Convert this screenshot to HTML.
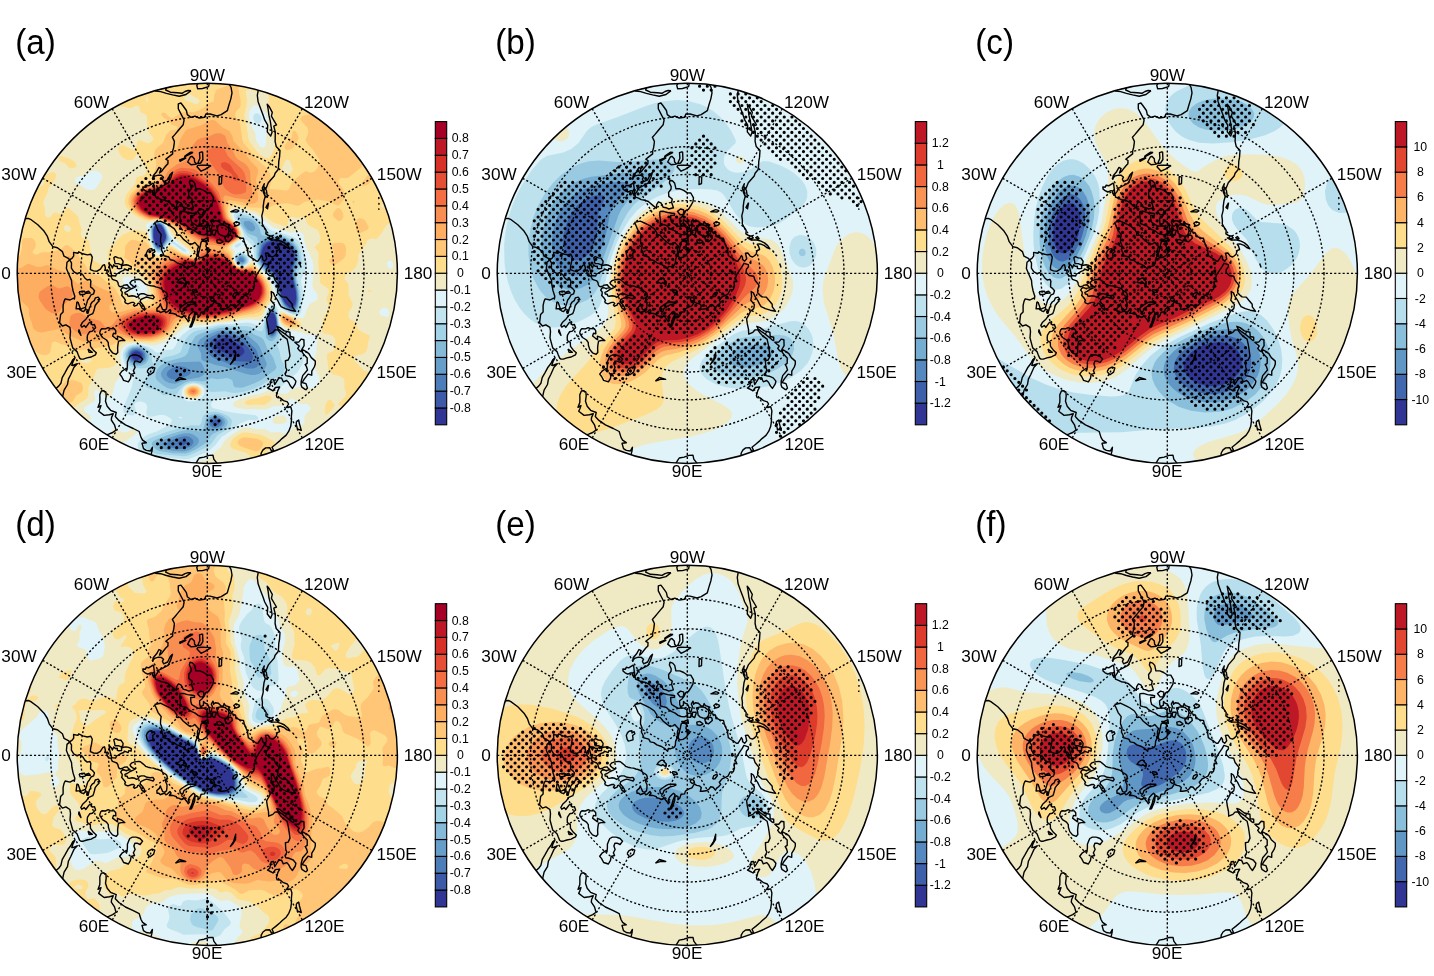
<!DOCTYPE html><html><head><meta charset="utf-8"><title>figure</title><style>html,body{margin:0;padding:0;background:#fff}svg{display:block}</style></head><body><svg width="1434" height="976" viewBox="0 0 1434 976" font-family="'Liberation Sans', Arial, sans-serif" font-size="17.2" fill="#000">
<defs>
<clipPath id="c0"><circle cx="207.3" cy="273.3" r="190.1"/></clipPath>
<clipPath id="c1"><circle cx="687.3" cy="273.3" r="190.1"/></clipPath>
<clipPath id="c2"><circle cx="1167.3" cy="273.3" r="190.1"/></clipPath>
<clipPath id="c3"><circle cx="207.3" cy="755.4" r="190.1"/></clipPath>
<clipPath id="c4"><circle cx="687.3" cy="755.4" r="190.1"/></clipPath>
<clipPath id="c5"><circle cx="1167.3" cy="755.4" r="190.1"/></clipPath>
</defs>
<rect width="1434" height="976" fill="#fff"/>
<g clip-path="url(#c0)">
<circle cx="207.3" cy="273.3" r="191.1" fill="#f0eac4"/>
<path fill="#fedd8c" d="M13.2 79.2l15.3 0 0 4-5.7 8-1.8 6-.7 12 .8 2 2.1 1.6 4 1.1 4 0 4-.9 6-3 14-1.7 4-4.2 2-4.3 2-2.4 2 0 2 1.1 2.7 2.7 1 2-.3 12-1.4 1-2 .1-2-.5-6-3.1-2 0-1.2 2.5-1.3 6-2.6 4-.1 6-.8 3.3-5.2 6.7-2.8 1.9-4-.4-10-3.3-12-9.5-2-1-2-.3zM69.7 79.2l3.6 0-.1 1-2 .7zM86.9 79.2l9.5 0-1.1 6-2.1 2.4-2 .4-2-.8-1.9-2-.5-2zM105.2 79.2l20.4 0 .2 2 1.4 3.1 2 .6 2-1.5 1.3-4.2 268.7 0 0 143.6-12 1-2 1-2 2-4 7.1-4 4.5-2 .5-4-.3-2.4 .6-1.6 1.9-2.1 4.1-6.1 8-.6 2-.1 6-2.4 6-2.7 2.7-7.6 5.3-1.1 2 .2 2 2.5 2.8 1.4 3.2 .1 10 3.9 8 0 2-.7 2-2.6 4-.7 2-.1 4 1.5 2 4.2 2 1.9 2 1.9 6 5.2 3.5 6.2 2.5 .4 2-1.7 4-.5 6-1.3 4-3.1 2.7-5.9 1.3-2.1 1.1-1 .9-.4 2 .9 2 4.4 4 4.1 5.1 4 1.3 2.8 3.6 3.2 2.7 4 1.8 8.5-.5 .6 2-5.1 4.1-1.6 1.9-4 8-1.5 6 1.1 5.9 2 1.8 2 .3 2-.7 2.6-3.3 3.1-2 4.1-2 6.2-4.4 4-1 0 8.7-6 1.2-6.2 3.5-5.3 2-1.9 2-.2 2 .4 2 1.3 2 9.9 8.1 2 .9 2-.8 4-3.7 0 8.5-4-.4-2 1.7-1.5 3.7-.2 2 .6 2 1.1 1.4 2 1.3 4 .8 0 11.2-2 1.2-2 2.1-1.9 4-.7 4-45.3 0-.3-2-1.8-3-4-2.3-4-1.1-4 .6-3.5 1.8-1.5 2-.6 4-41.7 0-.5-2-2.5-4-.2-2 .8-2 9.7-10 4-2.4 8-6.7 4-2.3 4.4-4.6 4.7-2 4.9-1 4 0 2 .7 2.3 2.3 2.8 6 3.1 4 1.8 1.4 2 .6 2-.2 6-2.3 4.2-3.5 1.8-2.5 3.1-7.5 1.2-6-.9-2-9.4-10.2-2-1-6-.9-4.7-1.9-.1-2 6.4-6 1.2-2 .1-2-1.8-6 .2-6-.6-2-1.8-2-2.9-1.3-6-1.3-3.9-3.4-1.1-2-.3-6-1.2-6 .2-2 .3-.9 2-1.9 4-1.5 1.5-3.7 .7-6-.3-2-1.9-2.8-2-1.4-8-1.8-1-2 1-12.9 2-3.7 3.1-3.4 .9-2 .1-2-2.7-8 .2-2 1.9-4 .4-2-.7-2-1.2-1.3-6.8-4.7-.5-2 .4-4-1.4-6-.6-8 .3-10-.8-2-3.2-4 .6-1 4-3 .8-2 .4-4-1.8-6-1.4-1.4-8.6-4.6-1.8-2-1.6-5.4-2-1.2-6 1.4-6-1.2-2.4 2.4-1.3 6-2.3 .8-2-.3-10-3.3-9.4-7.2-6.6-3.3-18-5-4-.6-3.8 .9-1.4 2-.5 2 .3 4 2.1 4 6.8 8 1.9 4 .6 4-.4 2-1.5 2-8.4 6-1.3 2 .3 2 2 2 1 2-.1 4 .7 4 2.7 4 3 1.8 2 .5 4-.5 6-3.3 2 .2 13.6 15.3 2.3 4 1.7 6 1 6-.8 4-5.2 8-2.6 5.5-2 2.6-4 1.4-14 .8-14 3-22 2.6-16-.5-6 .3-4 1.9-6.1 6.4-7.9 6.1-4 2.1-8 2.9-6 .5-14-1.1-10 .6-2.8 .9-3.7 4-2.9 6-.3 2 .6 6-.3 2-1.2 2-3.4 1.8-4 1.1-8 .3-2 .8-1.5 2-2.6 8-3.8 6-.7 2-.4 8-1 2.7-2 1.9-6 3.4-4 3.5-2 .6-8 .7-2.6 1.2-4 4-1.1 2-.1 2 .8 2 3 4.5 1.2 3.5 1.5 16-.7 1.3-2 .6-8-1-2 .1-2 .8-1.7 2.2-.5 2 .1 4 1.4 2 6.7 1 6 2.6 6 .9 4-.5 6-2.1 2-.3 6 1 8-.8 10 1.7 4 5.2 8-.3 4 1.2 2 0 4-2.5 2-.2 6 1.8 10 .6 5.1 2.7-56.9 0-1.2-2-3-1.3-2 .6-1.5 2.7-47.8 0-1.1-2-3.6-2.4-8 .6-4-1.8-2.2-2.4-.2-2 1.1-6 1.3-1.6 6-.7 2-1 2.7-2.7 5.3-6.9 2 .2 4 3.3 2 .2 4-2.1 1.3-2.7-1.1-2-6.2-2.4-6-6.8-2-1.1-2-.2-.7 .5-.6 6-1.2 2-3.5 2.3-4 .9-2.1-1.2-3-8-2.9-1.8 0-16.8 8 1.4 3.9-.8 2.1-1.4 2.4-4.6-.7-2-7.7-1.7-6-5.5-2-.7 0-11.5 2.5-.6 1.9-2 1.6-3.5 2-.2 6 3.1 4 .8 3.2 1.8 1.8 2 1.3 4 1.7 2.3 2 .4 4-.4 .6-.3 .8-2-3.1-4-.8-2 .2-6-.5-2-1.6-2-7.6-6.4-2-.8-4-.5-6 .9-2 1-1.4 1.8-1.4 4-1.2 1.7-2 .6 0-189.8 2 .4 4 2.2 7.2 6.9 2.8 1.8 2 .6 2-.4 1.8-2 2.2-4.2 2-1.8 4-2.3 1-1.7 .5-6 1.2-2 1.3-1.1 4-1.5 2-.4 2 .5 .9 2.5-.9 4-2 3.7-4.4 4.3-1.5 6-3.9 8 0 2 1.5 6 .3 6.2 1.7 1.8 2.3 .2 2-1.3 2-2.7 2-.8 4 1.1 3.4-.5 2-2 .6-2.4 2-1.5 2 1.1 7.8 6.8 1.5 2 1 6 2.2 6-.7 6 .8 2 1.4 1.1 4 1 2 1.6 1.3 10.3 2.3 8 2.4 2.4 6 2.9 4 .6 2-1.3 1.2-4.6-.6-8 11.4-13.5 4-3.1 10-4.4 2-.3 8 1.5 2 .6 1 1.2 1 1.6 1.3 6.4 4.1 10 2.6 3.6 2 1.2 2 .3 2-.5 2-1.2 2-2.4 2-4.1 2-1.7 2 .1 2 .9 8 5.3 6 2.5 4 .6 1.9-.6-.4-2-1.5-2.4-15.3-13.6-2.7-3.4-3.8-6.6-3.6-4-3-2-3.6-1.3-2-.1-8 1.5-6-1.6-8-4.1-5.2-4.4-3.7-4-1.6-4-.2-2 1.5-6 2.7-4 6.8-8 .4-4 .8-2 2.5-1 4-.7 2-1.3 1.3-3 0-2-1.3-4-4.6-6-3.4-6.3-4 6.6-2 .7-4-.3-4-1.8-2.6-2.9-2.2-4 .1-4 .7-1.2 1.4-.8 2.6 0 8 3.9 4 1.1 .6-1 1.4-8.1 2-.9 2 .4 6 2.6 2-.3 2-1.1 2.2-2.6-.6-2-3.4-4-.9-2-2-16-5.3-2.8-1-1.2-1-4.4-2-1.1-2 .2-4 2.1-2 .1-6-1.6-4-.1-2.4-1.2-.1-2 .7-2 3.8-5.4 2-.9 4 .4 2-.7 1-1.4-1-3.3-2-.4-4 2.7-2 .5-10-2.3-2-1.5-2.8-3.7zM147.2 96.4l-1.8 2.8 .8 2 1 .6 .9-.6 .4-2zM187.2 94.6l-2.5 2.6-.5 2 1 .9 10 3.8 2 0 2-1.7 .4-1-.6-2-7.8-4.2-2-.7zM249.2 89.1l-2 .4-1.3 1.7-.2 2 1.5 8-.9 6-2.1 8 1.9 8 2.5 16 2 4 8.6 10.7 6 3.9 2 .4 2-.5 2-2.1 4.3-10.4-.2-2-2.3-6-.4-4 2.2-10-.2-4-1.6-6-4.2-6-.8-2 .9-8-.3-2-1.2-2-2.2-1.1-10-.9zM287.2 159.5l-2 1.8-2.8 5.9 0 2 .9 2 1.9 2.4 2 .8 3.4-1.2 1.6-2 .5-2-2.8-8-.7-1.2zM381.2 204.4l0 1.7 .7 1.1 1.3 .6 .4-2.6-.4-1.2zM383.2 168.9l0 2.5 2 2.8 2 1.5 4 .7 2.8-1.2 .5-2-1.5-2-7.8-2.7zM355.2 448.5l-2 1.2-2.1 3.5-.2 2 .9 2 1.4 1 2 .3 8-1.7 .8-1.6-1.4-2-5.4-4.4zM67.2 225.1l-2 .2-1.3 1.9 .3 2 1.8 2 1.2 .6 2 .1 1.1-.7 .8-2-.6-2zM83.2 358.8l-2.6 2.4 .6 .8 2 .7 4 .3 2-.4 2.2-1.4 .3-2-2.5-1-2-.3zM121.2 267.1l-4 1.8-2.3 2.3-1 2-.2 2 1.4 4 6.7 12 5.4 4.8 8 4.2 4 .9 4 .1 4-.9 1.6-1.1 2-4 .1-4-.9-4-2.5-4-8.3-8.2-10-3-6-4.5zM75.6 87.2l1.6-2 2.6 2-.4 2-2.2 .5zM13.2 149.2l4-.7 2.2 .7 1.4 2 .2 2-1 2-2.8 1.6-4-.4zM58.9 157.2l2.3-1.3 8 2.6 4 2.2 2 1.8 1.6 2.7-1.1 2-2.5 1-2 .4-2-.6-4-4.7-5.3-2.1-1.3-2zM400 237.2l1.2-1 0 7.3-2-1.4-.4-.9 .1-2zM367.2 291.2l2-1.1 3.2 1.1-3.2 .7zM400.3 299.2l.9-1.7 0 8.1-2.2-2.4zM280.8 313.2l2.4-.4 2 .6 11.5 5.8 2.7 2 1.5 2 .4 2-1.2 2-4.9 1.6-4-.2-4-1.3-4-2.2-2-2.2-1.3-3.7-.1-4zM399.9 347.2l1.3-1.1 0 35.3-8-2.9-1.9-1.3 1.6-12 3.3-8 2.3-8zM187.6 387.2l3.6-1.5 4 0 2 .6 1.6 .9 1.7 2 .6 2-.4 2-1.5 2.2-4 2.2-4 .2-2-.5-2.8-2.1-1.1-2-.2-2 .7-2zM260.2 397.2l7-1.9 2 .2 2.2 1.7 .1 2-1.3 2-5 3.4-2 .5-8-.7-6 .5-2-.2-2.6-1.5 .9-2 3.7-1.7 8-1.2zM327.2 401.2l2-1.7 2 .5 3.7 5.2-2.7 4-5 5.3-2-.3-.5-3 .6-6zM241.1 433.2l2.1-.6 4-.1 12 2.1 4 1.2 10.5 5.4 1.1 2-.5 2-1.6 2-5.5 3.7-3.6 8.3 .7 4 2.4 4-23.4 0 1.9-2 4-.7 1.5-1.3 .4-4-.3-2-1.2-2-4.4-2.7-12-3.5-2.5-1.8-.5-2 .3-2 2-4 2.7-2.5zM157.1 467.2l6.1-.6 4.2 .6zM273 467.2l2.2-.8 1.4 .8z"/>
<path fill="#fec676" d="M113 79.2l6.1 0-1.9 2.5-2 .2-1.1-.7zM220.2 79.2l4.2 0-.1 2-1.1 1.1-2-.5zM232.8 79.2l11.7 0-1.2 2-4.5 4-.6 2 2.5 14 0 4-1.5 3.1-3.1 2.9-.8 2 0 2 .6 2 4 6 2.3 16 1.5 4 5.5 6.2 5.1 7.8 11.6 10 3.7 6 .9 2 .6 4-.1 4-1.4 4 .4 2 7.2 .2 8 1.2 2-.2 2-1.3 2.3-5.9 1.5-2 8.2-7.3 4-2.5 2-.1 2 1.1 2 .3 2-.6 2-1.2 2-2.5 1.5-3.2 1-4-.4-2-6.7-10-3.9-4-2.7-4-.4-2 2.6-6-.1-4-1.1-2-5.4-6-1-2 .6-2.4 3.8-1.6 14.2-2.5 4 .1 4 1 2 1.9 2 4.8 .5 6.7 1.5 4.2 2 1.8 4 2.3 2 .7 4 .1 10-.9 5.5-2.2 1.8-2-.4-4 .4-2 1.4-2 3.3-1.8 4.3-.2 5.7 2.4 2-.1 4-1.7 4.2-.6 3-2 2.8-3.2 5.5-4.8-3.5-9.8-2-1.8-2 .2-6 2.3-4 0-4.9-.9-2.4-2-.4-2 .7-4-1-1.5-6 1.1-3.4 2.4-2.6 2.8-8 2-.6 1.2 .4 6-.7 2-1.1 1-2 .5-4-.6-6-2.5-2 0-4 1.9-1-.3-1-.4-2.7-3.6-3.3-2.8-2-.7-4 .1-1.9-.6 .2-2 1.7-1.1 2 0 6 .9 10 4 6-3.3 6.4-.5 1.6-.8 1.6-7.2 4.1-8 3.7-4 16.7 0 .3 8 1.6 1.7 2 0 4-.6 6-4.5 5.3-2.6 1.4-2 3.3 0 0 55.3-6-1.3-2 .8-4 3.4-6 .9-2 .9-6 5.4-2 .3-6-1.5-2 .2-1.6 1.6-.7 2-.1 16-1.4 4-12.2 9.9-2 .9-6-.1-2.1 1.3-.7 2 .6 2 4.3 6 1.5 6-.7 4-4.9 5.7-2 .6-8-4.1-12-1.8-6 1.5-6 .3-6 3.9-2 .4-10-2.5-2 0-10 1.6-6 2.4-4 .9-16-.8-14-3.7-4 0-2 .9-1.3 2.7-.3 2 .2 4 1.2 4 8.9 10 2.4 6-.7 4-1.6 2-8.5 6-1.9 2-.4 2 4 4.6 1.6 7.4 2.6 4 3.8 2.4 4 .4 8-2.5 2 .5 4 3.6 6.4 7.6 2.7 4 1.6 4 1.2 6-.1 6-.7 2-5.1 8.4-2 2.7-2 1.6-6 2.1-12 1.8-10 2.8-6 1-20 2.1-18-1.2-5.8 .7-3.2 2-6.7 8-4.8 4-5.5 2.9-8 2.6-8 .3-24-1.4-3.4 1.6-4.6 3.3-4 1.6-22 3.5-8 .6-3.7-1-4.3-2.9-8-1.6-8-3.3-2 .4-1.4 1.4-1.3 8-1.3 2.3-2 1.3-2 .4-4-.8-8-4-2-.4-6 3-2 .4-2-.3-1.5-1.9 .2-2 4.1-6-.4-2-4.4-4-2-1.2-4-1.1 0-74.9 4-1.4 2.7-3.4 2.1-6-.1-8 1.3-2.9 8-.4 2.6 1.3 1.4 2.2 .7 3.8-.7 2.8-2.6 3.2 .2 2 2.4 1.5 2-.1 4-2 2-.4 6 .1 10-2.2 2-1 4-3.9 2-.1 2 .9 8 7.2 3.3 6 4.7 5.7 3.4 6.3 4.6 2.9 6 1.4 8 6.9 6 4.4 2 2.3 5.1 8.1 1.7 6 1.2 1.5 8-.5 12 1.2 6-.2 3.2-2 .9-2 .6-4-.2-6-1.8-6-5.6-8-3.1-7.1-2-1.2-6.9-1.7-2.3-2-2.8-3.9-5.1-4.1 1-4 0-6 .7-2 3.4-4 2-1.1 2-.3 6 1.5 6 .7 2 1.8 2 3.3 3.7 8.1 2.3 2.1 2 .8 2 .1 4-1.5 3.5-3.5 2.5-4.5 2-.3 12 6.3 8 2.4 2.5 .1 1.4-2-1.9-4.8-4.1-5.2-1.6-4-8.8-10-14.7-10-2.8-1.3-4-.6-8 .7-4-1.3-6-3-5.9-4.5-3.3-4-1.5-4-.1-4 1.5-4 1.4-2 5.9-5.3 6-3.5 4.4-1.2 4-2 1.3-2 .8-6 2.5-8-.2-4-1.6-6-.1-2 .9-3.2 2-2.4 5.7-4.4 3.1-8 3.2-3.9 2-1.4 4 0 2-1 .4-1.7-.4-.7-6-2.1-2.4-3.2-5.5-4-1.8-2-.1-2 1.8-.8 2 .6 4 4 2 1.2 2-.2 8-5.3 2-.9 10 .4 6-1.9 5.2-3.1 4.8-4.4 4-1.1 .5-.5 .6-6 1.3-4 1.6-1.8 12-4.4 2-2.4zM305.1 79.2l24.4 0-1.5 4-2.8 3.7-2 1.3-6 2.1-2-.1-2-1-6.2-6zM378.7 115.2l.8 0-.3 2.3-.4-.3zM292.5 131.2l.7-.4 2 .3 1.7 2.1 1.7 4-.1 2-5.3 8.6-2 1.5-4 .7-2.1-.8-.6-2 .5-2 2.2-3.2 4.7-4.8zM401 143.2l.2 12.5-2-.5-2-2-.5-2 .5-4.6 2-2.7zM376.1 151.2l1.1-1.3 2 .3 1.1 1 .9 2.2-2 1.8-2-.8-1-1.2zM366.1 177.2l1.1-1.5 2-.4 1.5 1.9 .5 2-.6 2-1.3 2-2.1 1.7-4 1.1-1.4-.8 .1-2zM352.5 201.2l.7-.5 1.7 .5-1.7 2.2zM13.2 207.2l0-.6 1.2 .6 8.8 4.8 2 1.8 1.3 3.4-.6 4-3.3 6-.1 6-1.3 2.6-2 .5-6 .4zM336.2 209.2l1-1.3 2 .1 2 2.1 1.9 3.1 .3 4-2.2 3.4-2 .5-2-.8-3.2-3.1-1.1-2 .3-2.4zM357.3 219.2l1.9-1 2 0 2 .8 2 1.7 3.7 6.5-1.1 2-6.6 3.5-2 .4-2-.6-1.2-3.3-.2-4 .5-4zM333.1 243.2l6.1-.4 4 .5 2.1 1.9 .9 4-.7 6-.7 2-1.6 1.9-6 4.3-2 1.2-2 .3-2-1-2-2.7 .5-2 2.7-2 1.4-2 0-4-1.9-6zM281.1 315.2l2.1-1 2 .3 6.2 2.7 5.1 4 1 2-.3 2-2 1.4-2 .4-4-.5-4-1.7-2.2-1.6-1.8-2.6-.5-3.4zM66.1 381.2l5.1-1.1 4 .3 6 2.5 1.4 2.3 .4 4-.7 2-1.1 1.3-4.9 2.7-3.1 5.5-2 1.5-4-.3-4.5-2.7-1.5-2.3-1.9-5.7 .2-2 1.1-2 3.1-4zM189.5 387.2l3.7-.8 4 1.1 1.9 1.7 .6 2-.4 2-1.7 2-2.4 1.2-4 .2-2-.8-2.4-2.6-.3-2 .7-2zM44.6 419.2l.6-1.2 .8 1.2-.5 2zM375.8 429.2l1.4-1.4 2-.6 3.3 2 2.4 4 .3 2-1.2 2-2.8 .9-2-.5-2.8-2.4-1.1-2-.2-2zM239.5 439.2l3.7-1.7 2-.2 12 1.5 4.9 2.4 1 2-.4 2-1.5 2.9-2 2.3-2 .8-2 0-12-4-4.1-2-1.3-2 .2-2zM310.2 459.2l1-.6 2 .5 .3 2.1-2.7 6-7.2 0 2.3-4z"/>
<path fill="#fdae61" d="M208.5 121.2l2.7-1.3 2 0 2 .7 7 6.6 7.3 4 2.5 4 1.7 6 11.5 12.4 5.5 7.6 5.8 6 1.2 2 .4 2-.3 2-1.8 6 2.2 18-.7 4-2.7 2-5.6 1-8-2.1-10-1.8-2-.1-2.4 1-.8 2-.3 4 1.2 8 2.2 4 6.1 5.5 1.9 2.5 1.9 4 .4 4-.8 2-1.7 2-11.8 8-1.6 2 1.8 2 3.9 2.7 3.9 9.3 4 4 4.1 1.3 4-.2 6-1.3 2 .7 5.8 5.5 4.6 6 2.8 6 1.1 8-1.4 6-4.9 7.2-4 3.1-6 2.5-26 6.3-20 2-20-1.7-5.3 .6-2.7 1.3-2 1.7-4.6 7-5.4 5-8 3.7-8 1.7-18-.8-12-2.4-14 2.2-8 2.8-8-.5-6 .6-16-7.1-6-4.6-2-.7-18 3.5-4-1.1-3.2-2.3-1.2-2-.8-4-3-8 0-6-.9-2-6.9-6.4-2-.7-6 1.6 0-34.3 6 .9 2-.3 6-3.9 2-.1 8 3.1 4-.3 6-1.7 2 .5 8 4.1 6 1.9 2 1.2 12 10.8 2-.2 2-1.7 2-.8 2-.2 4 1 6 3.7 12.8 5.8 3.2 2 2 2.5 1 3.5-1 3.4-3.3 2.6-.8 2 .5 2 1.6 2.6 2 .6 4 .2 6-1.2 10-3.2 18-.4 2.4-.6 2.4-2 .7-4-.8-10-2.4-8-3.7-8 1.1-12 .8-2 7.5-.6 4-1.6 4-2.5 4-4.7 2-.2 8.5 3.6 9.5 2.7 4 .2 1.3-.9 .1-8 1.7-2 .4-2-5.9-6-7.6-5.2-7.7-6.8-14.3-6.9-4-1.4-10 0-8-3.6-4-2.7-3.5-3.4-2.4-4-.7-4 .8-4 1.1-2 4.7-4.8 6-3.4 11.8-3.8 3.2-2 1-1.3 3.3-10.7 2.7-6.9 4-7.6 2-2.8 4-.7 2-1.8 3.2-10.2 4.8-8.1 2-1.5 14.2-4.4zM66.7 257.2l2.5-1.6 1.7 1.6-1.7 2.1-2-1zM282.1 317.2l1.1-1.3 2-.2 4 1.3 3.3 2.2 1.9 2 .6 2-2 2-1.8 .2-4-1-2.2-1.2-2.1-2-.9-2zM188.6 389.2l2.6-1.6 4 .1 2.4 1.5 .8 2-.6 2-2.6 2-2 .4-2.5-.4-2.4-2-.5-2z"/>
<path fill="#f88e52" d="M216.1 133.2l5.1 .4 4 2.2 2.3 7.4 5.7 8 2.6 6 1.9 2 7.5 4.6 3 3.4 1.9 4 .5 10 1.8 10-.1 4-.7 2-2.4 2-2 .2-12-1.3-10-2.9-1.9 2 1.1 12 2.1 8 1.3 2 5.4 4.4 3.2 3.6 2 4 .4 2-1 4-1.9 2-8.7 5.5-4 1.6-2 .2-6-1.5-8-.3-2-.6-16-9.6-12.3-9.3-7.7-2.7-8-3.6-4-.6-6 .1-6-2-5.3-3.2-4.5-4-2.4-4-.7-4 .3-2 2-4 4.1-4 4.5-2.6 11.5-3.4 4.9-2 3.6-3.2 4-7.4 2.9-3.4 7.1-5 7.3-3 2.2-2 3.8-6 .6-4 1.7-4 4.4-5.5 4-1.8 8-1.7zM200.7 251.2l4.5-1.4 4 0 8 1.1 6 1.6 4 2 2 1.9 3.3 6.8 2.7 3.2 2 1.4 2 .8 4 .5 8-.8 2 .9 4 3.6 5.1 6.4 2.2 4 1.5 6 .1 4-.9 4-2.2 4-3.8 4.5-4 2.6-6 2.3-18 5.2-12 2.1-14 1.1-20-2-8 .5-2 .8-2 1.8-5 9.1-4.1 4-6.9 3.3-8 1.8-8 .1-10-1-16-5.8-6-.6-4-1.3-2 .1-6 2.5-4-.2-6 1.7-4 .4-4-1.1-3.8-1.9-4.9-4-1.3-4 .9-6 1.1-2 4-2 4-.4 2 .5 8 4.8 10 2.3 2 1.5 4 4.8 2 .2 4-1.1 2-1.7 3.3-4.9 2.2-2 6.5-3.2 10-3.4 18-.9 2.6-.5 3.4-1.7 1-2.3-1.5-10-4.7-18-.1-2 .5-2 4.3-8 4.5-3.4 12-6.1 8 .9 10 2.6 2.8 0 1.2-.6 .9-1.4 .7-4zM50.8 285.2l2.4 .3 4 2.4 2 .6 8-2.2 2 .6 2.3 2.3 1.3 4-.3 2-1.3 2.6-8 7.4-4 6.5-2 1.6-2 .4-4-.9-5.3-3.6-5.7-8-1.7-4 .6-4 1.2-2 6.9-4.7zM285 317.2l2.2 .2 3.3 1.8 1.7 2-.3 2-2.7 .4-4-2-1.6-2.4zM190.5 389.2l2.7-.7 2.5 .7 1.2 2-.8 2-2.9 1.2-3.2-1.2-.8-2z"/>
<path fill="#f46d43" d="M209.1 149.2l4.1-1.5 6-.4 2 0 2 .8 2 2.3 2.2 4.8 1.5 2 13.1 12 2.6 4 1 4 .7 12-.3 2-.8 1.2-4 1.7-6 .5-4.1-1.4-5.9-4.4-2.1-3.6-1.8-8-9.1-12-4.8-8-.7-4 .6-2zM176.9 169.2l4.3-1.4 12 .9 2 .9 14 11.3 4.2 4.3 4.6 6 1.8 4 5.5 22 1.2 2 8.7 7.3 2.6 4.7 .1 4-.9 2-2 2-7.8 4.7-4 1.1-4-.5-6-2-8-1.2-6-2.5-8-4.7-12.1-8.9-17.9-6.7-4-.8-6-.1-4-1.3-5.5-3.1-4.7-4-2.6-4-.6-4 1.2-4 2.2-2.9 6-4.4 15.4-4.7 4.1-2 2.4-2 6.1-7.9zM202.4 253.2l2.8-.7 4 0 10 .9 4 1 4 1.9 2 2.2 4.1 6.7 3.9 3.1 4 1.3 8-.4 2 .3 4 2.8 4 4.3 3.2 4.6 1.7 4 .8 4 0 4-1.1 4-2.4 4-2.2 2.5-4 2.9-4 1.9-20 6-10 2.1-18 1.3-20-2.6-10-.1-2 .8-2.7 9.2-2.3 4-1.9 2-5.1 3.2-8 2.4-8 .5-12-1.3-6.5-2.8-5.2-4-1.2-2-.3-2 1.4-4 3.8-3.6 4-1.9 8-3 4-.8 26.2-.7 .6-2-4.4-10-3.5-14-1-6 .4-4 3.7-7.1 2.3-2.9 2.8-2 10.9-5 6-.5 10 2.1 4 .1 1.5-.7 1.6-4zM191.1 391.2l2.1-1.1 1.8 1.1-1.8 1.5z"/>
<path fill="#e64e35" d="M221.3 163.2l1.9-.9 2 0 2.8 .9 2.6 2 3.6 6 3.4 4 .8 2-.4 2-.8 .9-2 .8-2-1.7-.8-4-1.2-2-7.5-4-2.1-2-.8-2zM179.5 171.2l3.7-.4 4 .5 4 1 4 1.8 12 8.3 4.9 4.8 4.3 6 2.1 4 2.1 6 2.9 12 1.7 3.8 8 6.2 3.2 4 1.1 4-.3 2-1 2-2.1 2-4.9 3-4 1.6-2 .3-4-.8-6-2.5-10-1.9-12-6.1-10.3-7.6-3.7-1.9-16-5.3-12-1.7-6-3.1-4.8-4-2.6-4-.6-4 1.3-4 2.7-3.2 6-3.8 14-4.2 4-1.7 4.1-3.1 5.9-6.5 4-2.7zM202.8 255.2l2.4-.9 4-.1 8 .6 6 1.2 4 1.9 5.4 7.3 4.6 3.7 4 1.2 8 .1 4 1.8 6.8 7.2 2.4 4 1.3 4 .4 4-.8 4-3.3 6-4.8 4-6 2.7-20 6.1-14 2.3-10 .6-8-.6-20-3.4-4-1.4-2-1.4-6.5-8.9-4-12-1.2-6-.1-4 1.9-6 2.5-4 3.4-3.5 10-5.3 4-1.3 4-.3 12 2.1 2-.7 1.1-1zM141.1 313.2l16.1-.3 6 1.5 3.2 2.8 .8 2-.1 4-1.5 4-1.4 2-3 2.7-4 2-6 1.8-6 .5-6-.2-6-.9-5.2-1.9-2.9-2-3.4-4-.5-2 .3-2 1-2 2.2-2 3.8-2 6.7-2.7z"/>
<path fill="#d73027" d="M180.8 173.2l6.4 .3 8 2.9 10 6.5 6.6 6.3 2.8 4 3.3 6 2.2 6 3 12 1.1 2 2 2 6.2 4 3.4 4 1.1 4-.3 2-1.1 2-2.2 2-6.1 3.3-4 .7-4-.9-6-3-10-1.9-12-5.8-8.8-6.4-3.6-2-17.6-5.7-10-1.4-4-1.5-5.3-3.4-3.8-4-1.6-4 .4-4 1-2 3.3-3.6 6-3.2 11.5-3.2 5.1-2 3.3-2 8.1-7.6 2-1.3zM203.1 257.2l2.1-1.2 4-.3 8 .5 6 1.2 4 2 6 7.1 4 2.9 4 1.2 8 .5 4 2.2 5.8 5.9 3.3 6 .8 4-.2 4-2.6 6-3.9 4-5.2 2.9-22 6.7-12 2.3-10 .7-8-.2-18-3.5-4-1.2-4-2.1-3.6-3.6-2.9-4-1.9-4-2.6-8-.9-4-.2-4 .7-4 1.9-4 3-4 2.5-2.3 4-2.7 6.4-3 5.6-1.4 10 1.7 4 0 2-1.5zM137.9 315.2l5.3-.9 6-.2 6 .2 4.8 .9 3.2 1.9 1.6 2.1 .5 2-.5 4-1 2-2.6 2.9-4 2.5-4 1.5-10 1-6-.5-5.7-1.4-3.6-2-2.1-2-1.3-2-.6-2 .4-2 1.3-2 2.8-2z"/>
<path fill="#be1826" d="M180.2 175.2l3-.4 4 .4 8 2.9 10 6.4 5 4.7 4.3 6 3.1 6 5.4 18 1.8 2 6.8 4 3.6 4 1.1 4-.3 2-2.8 3.4-6 3.3-4 .7-2-.4-8-4.2-10-1.9-6-2.4-6-3.2-7.4-5.3-4.6-2.5-18-5.7-12-2.2-4-2.2-4.3-3.4-2.7-4-.6-4 1.6-4 2-2.3 6-3.6 14-4.1 4.6-2 3.1-2 6.3-5.6zM206.6 257.2l8.6 .1 8 1.3 4 2.1 5.9 6.5 4.1 2.8 4 1.1 8 1 4 2.3 6.3 6.8 2.6 6-.1 6-2.8 6-4 3.8-6 2.9-22 6.4-14 2.2-12 .3-12-2-10-2.8-6-3.5-3.2-3.3-2.6-4-4.2-12-.5-4 .5-4 2.6-6 5.8-6 9.6-5.2 6-1.3 12 1.6 2.7-1.1 3.3-3.6zM136.4 317.2l8.8-1.8 6-.1 6 .7 3 1.2 2.2 2 .9 2-.4 4-2.8 4-2.9 2-4 1.6-8 1.1-10-1-4-1.5-2-1.5-2.1-2.7-.5-2 .5-2 1.8-2z"/>
<path fill="#a50026" d="M179.1 177.2l2.1-.6 4-.2 8 2.2 10 5.8 6 5.3 4.1 5.5 3.3 6 5.4 18 1.4 2 7.8 4.4 3.3 3.6 1.2 4-.3 2-1.4 2-2.8 2.2-4 1.9-4 .6-2-.4-8-4.7-10-2-6-2.2-18-10.5-18-5.5-10-1.8-4-1.8-5.1-3.8-2.8-4-.5-4 1.7-4 1.8-2 4.9-3 16-5 4.4-2 7.6-5.8zM205.4 259.2l1.8-.8 4-.2 8 .7 4 1 4 2 6 6 4 2.6 12 2.5 4 2.5 5.4 5.7 2.7 6-.1 6-1.6 4-1.4 2-5 4.1-6 2.5-22 6-12 1.8-10 .4-8-1-12-2.9-8-4-3.2-2.9-3-4-3.9-10-.8-4 .1-4 2-6 3.1-4 3.7-3.4 10-5.3 4-.9 12 1.5 2-.4 2-1.2zM141.3 317.2l7.9-.7 8 1.2 2.6 1.5 1.4 2 .2 2-.4 2-1.3 2-2.1 2-6.4 2.8-10 .6-6.8-1.4-3.2-2-1.5-2-.4-2 .8-2 2.1-2 3.4-2z"/>
<path fill="#e0f3f8" d="M254.8 105.2l2.4 .2 2 1.3 6.6 6.5 1.5 2 .7 2 .1 2-1.4 8-.6 16-.9 2.9-2 1.6-2-.4-2-1.9-2.6-4.2-.7-2-.5-6-4.2-7.4-2.1-6.6-.4-4 1.1-4 2-4 1.4-1.5zM37.1 155.2l2.1-.5 3.2 .5 2.3 2-.7 2-.8 .6-2-.1-4-1.3-.9-1.2zM90.5 171.2l2.7-.7 4 .6 3.4 2.1 1.5 2 .2 2-1.8 4-5.3 7.9-2 .9-4 .1-3.5-.9-2.5-2.3-6.6-3.7-1.7-2 .3-2 2-2 8-2zM235.1 209.2l6.1 .6 14 4.2 6 3.8 10 8.3 4 2.2 16 4.5 6-1.3 2 .1 3 1.6 1.5 2 .9 6 1.7 6 6.4 14 .6 4 0 12-1.1 8 1 3.6 3.6 4.4 .8 2-.3 4-2.1 1.8-4 2-2 2.1-2 3.1-2.2 7-1.8 2.3-2 .7-4-.6-16-6.9-2 1.3-.3 5.2 .7 4 1.6 3.9 4 3.2 6 2.4 10 1.6 6 2.8 4-1.2 2 .1 2 1.7 1.9 3.5 .3 2-1.1 6 .5 4-2.7 8-.2 6 1.2 4 4.2 8 .3 2-1.9 6-2 2-2.5 1.1-4 .2-6-1.8-4 .5-6 1.2-2 1.1-3.7 3.7-2.3 .7-4-.3-4-1.1-4-1.8-4-.4-10 3.6-12 2.7-7.4 2.6-4.6 2-2.1 2-.1 2 2.3 2 9.9 2 20 .3 10-3.8 8 .6 2-1 4-5.5 2-1.3 2 .2 6 4.4 2 .8 6 .2 3.4 3.1 .2 2-5.5 6-.9 2 .2 4-.6 2-1.8 2-3 1.4-6 .4-2.7 4.2-3.3 2.5-2 0-6-1.7-8 .4-6-3.1-10-.3-6-1.6-4 .1-4 1.2-13.2 8.5-3.8 4-3.5 6-7.2 6-4.3 4.5-4 2.2-6.4 1.3-9.5 6-4.1 0-6.5-4-9.5-2-4-.2-14 .9-8-3.7-8-1.9-2.1-1.1-3.9-4-2-.4-4 .4-2-2 .2-2 2-4 1.8-2 6.3-4 4.7-4 .9-2-3.9-1.8-2 .4-4 2.2-2 .5-2-.2-7.6-3.1-2.4 0-1.7 2 .5 6-1.2 2-13.6 2.3-2-.4-4-3.3-2-.7-2 .1-3.3 2-.1 4-.6 .8-2-.2-2.8-2.6-1.2-2-1.1-4-2.9-3-1.3-3-.8-4 .1-8.1 2-1.3 2 .6 2 .8 4.7 4 1.3 .5 4-.1 2-.9 1.3-1.5 .2-2-.9-2-4.6-3.1-.8-.9-.5-2 .9-2 2.4-2 7.1-4 1-2-1-6 .1-2 .8-1 2-.2 5.9 5.2 4.1 2.1 2 0 2-2.1 2.2-4 1.6-8 4.4-6 .9-2 1.2-10-1.2-8 .2-4 1.4-4 3.3-3.9 4-1.5 6-.9 6 .4 12 2.3 4-.5 8-3.1 4-2.1 15.8-12.7 4.2-1.8 18-.5 10-1.9 14-1 14-2.4 6 0 8 1.2 2-.6 2-2.6 4.4-10.4 1.6-2.2 4.5-3.8 .9-2-.1-4-1.3-5.7-2-6.7-2.1-3.6-11.2-12-4.7-6.4-2-.6-1.9 3-2.1 2-4 1.6-2 .1-4.2-1.7-1.9-2-1-2-.4-4 1.5-6-2.3-2-1.2-2 .8-2 8.7-6 1.1-2 .2-2-1.9-6-2.4-4-4.8-6-1.8-4-.1-2 .7-2 1-1.2zM245.2 248.1l-1.5 1.1 1.7 2 3.8 2.8 1.6-.8-.3-2-1.3-2.2-2-1.1zM275.2 416.8l-2.3 2.4-.6 2 1.4 2 1.5 .6 2 .4 4-.1 3.1-.9 2.6-2-.1-2-1-2-2.6-1.8-4 .2zM189.2 385.2l-3.4 2-1.6 2-.6 2 .8 4 1.6 2 3.2 1.7 4 .3 4-.8 4.1-3.2 1.1-2 .2-2-.4-2-1.5-2-3.5-2-2-.5zM153.7 221.2l5.5-.8 2.5 .8 3 2 3.2 4 3.3 7.6 2 2.8 3.8 3.6 10.2 7.6 2.3 2.4 1 2-1.3 .9-4.7-.9-3.9-2-7.4-5.4-2-.9-2-.2-2 1.2-2.9 5.3-3.1 3-2 .5-2-.4-2-1.6-2.2-3.5-2.5-6-2.3-12-1-2.9-1.9-3.1 2.9-2zM388.1 261.2l1.1-.5 2 .3 1.8 2.2 .3 2-.5 2-1.6 1.6-2-.5-2-2.7-.2-2.4zM123.8 277.2l3.4-.3 6 .8 4 1.3 2 1.3 5.8 4.9 1.4 2 .9 4-.6 2-1.5 1.9-2 1-4 .4-6-2.2-5.6-3.1-2.4-2.3-1.7-3.7-.9-6zM380.9 309.2l2.3-1.1 2-.3 2 .7 1.8 2.7 .2 4.1-2 1.7-2-.2-3.9-1.6-1.9-2-.1-2z"/>
<path fill="#c2e4ef" d="M253.6 115.2l1.6-1.8 2-.2 2 1 2 2.3 .6 2.7-.6 1.9-2 2.2-2 .3-2-1.1-.9-1.3-1.1-3zM234.7 213.2l2.5-1.3 2-.1 14 3.7 5.7 3.7 10.3 9.9 2 1.4 16 4.2 8 3.4 2 1.4 2 2.4 3.3 7.3 3.9 12 .6 4-1 4-4.9 10 .1 3.2 2.6 12.8-2.7 16-.5 2-1.4 1.7-2 .7-2-.1-6-2.2-6.9-4.1-3.8-4-3.3-15-2.7-9-1.3-2.3-10.1-9.7-4.6-6-2.2-6-1.4-10-1.7-2.8-6-5.4-3.6-9.8-7.5-12-.2-2zM155.9 221.2l3.3-.2 4.6 2.2 3 4 2.4 6.5 4 6.7 2 2.1 10 6.7 1.4 2-1.4 .5-2.1-.5-9.9-7.5-2-.5-2 0-2 1.1-4 6.5-2 1.9-2 .5-2-.5-1.8-1.5-2.4-4-2.1-6-1.6-14 .4-2 2-2zM238.4 243.2l2.9 0-.6 2-3.5 2.3-2.2-.3-.2-2zM237 253.2l2.2-1.2 4 .5 3.8 2.7 1.5 2 .4 4-.9 2-2.2 2-2.6 1-2 0-3-1-2.2-2-1.2-2-.2-4 .7-2zM132.7 283.2l2.5 .4 2.6 1.6 1.6 2-.3 2-3.9 .3-4.3-2.3-.6-2 .9-1.4zM272.4 305.2l2.8 .1 2 1.9 .6 2 1.4 13.5 2 5.3 2 2.1 7.9 5.1 4.1 4.9 4 2 2.2 3.1 2 6 .4 8-1.1 4-3.5 6.6-2 2.8-10 8.1-4 4.2-2 1.4-2 .1-6-2.1-2 .1-13.7 6.8-14.3 3.8-10 1.9-12 .6-4 .9-4.5 2.8-1.4 2-.4 2 .9 2 1.4 .7 11.9 3.3 10.1 1.9 20.2 2.1 2.8 2-.2 2-.8 .9-2 .5-6-.8-10 4-5.8 5.4-12.1 8-6.1 8-6 5.2-4 2.4-16 6-4 .5-18-1.7-14-.2-13.1-6.2-1.6-2-.9-4 .4-2 2.6-4 6.6-4.5 10-3.5 11.2-6 2.2-2 1.2-2-.1-2-4.5-3-4-1.4-4 .1-6 1.6-4 .2-2-1.2-1-2.3 1-6-.4-2-1.6-2.3-4-1.4-4 .2-2.1 1.5-.6 2 1.4 6-.2 2-2.1 2-2.4 .2-4-1-2.8-1.2-1.2-1.8 .2-4.2 8.4-20 1.2-6 2-6-.3-2-7.5-5.1-3.5-6.9-1-6 .8-4 1.7-2.8 2-1.8 4-1.7 4-.7 4 .1 8 2.1 5.1 2.8 2.9 2.5 2 .9 2-.2 6-2.3 6-.3 2-1 2-2.5 3.5-7.1 3.2-4 7.3-5.6 4-1.6 14-1.1 12-2.6 12-.4 16-1.4 4 .4 8 3 2-.3 2-3 2.7-9.4 1.9-4 1.4-2 2-1.7zM179.2 416.8l-.9 .4 2.9 1.5 1.1-1.5zM187.2 384.8l-3.3 2.4-2.1 4 0 4 .7 2 2.7 3 4 1.2 6-.5 6-2.9 2.5-2.8 .8-2-.3-4-1.3-2-2.6-2-3.1-1.2-4-.5z"/>
<path fill="#a3d3e6" d="M237.6 215.2l1.6-.6 4 .2 10 3 4.6 3.4 9.4 11.1 4 1.4 10 1.1 4 1.1 8 4.3 4.7 5 2.5 6 1.5 10-1.4 6-3.4 8 .1 4 3 12 .6 6-.9 10-1.2 4-1.5 2.1-2 .7-2-.2-4-1.5-4.8-3.1-3.1-4-2.5-6-5.6-20-2-2.4-8.7-7.6-4.6-6-2-6-.3-10-1-4-1.4-2.5-6-4.7-2-2.4-8.3-14.4-.3-2zM153.4 223.2l3.8-1.7 2 0 4 2 2.7 3.7 4.5 12-.5 2-2.7 1.7-4.1 6.3-1.9 2.1-2 .7-2-.6-2-1.9-2.2-4.3-1.3-4-1.1-14 .8-2zM236.8 255.2l2.4-1.5 2-.1 2 .4 2 1.3 1.7 1.9 .8 2 0 2-1 2-3.5 2.3-3.4-.3-2.6-1.6-1.6-2.4-.4-2 .3-2zM271.9 307.2l1.3-.2 2 1.2 1.4 3 3.7 22-3 12 2.2 6 1.6 8 3.4 6 .4 4-1.8 4-3.9 3.3-10 3.4-8 5.3-8 3.8-10 3-8 1-4-.2-6-1.6-14 .8-2-1.1-2.6-3.7-2.4-2-5-2-6-.9-4 .5-5.3 2.4-4 4-2.7 4.6-2 1-12 .5-6-4.8-10-2.4-2-2.4-.3-2.5 .4-2 3.2-6 1.4-4 .2-2-.9-1.6-8 .9-8-.9-4.4-2.4-1.8-2-1.9-4-.7-4 .3-2 2.5-4.5 2-1.5 4-1.5 6-.2 6 1.8 2.8 1.9 1.8 2 1.7 4 .6 6 1.1 2.5 11.5-6.5 8.5-1.6 5.8-2.4 1.8-2 2.8-8 2.2-4 3.3-4 4.1-3.3 4-1.3 12-1.8 8-2.4 6-.6 24 .4 4 1 6 3.2 4 .8 2-1.3 1.5-8.7 2.2-8 2.3-4.3zM206.5 413.2l2.7-1 4-.5 4 .3 4 .9 5.5 2.3 2.9 2 1.7 2 .7 2-.9 4-1.6 2-4.3 3.5-7.7 4.5-5.9 8-2.4 2.3-4 2.6-14 6.4-4 1.2-4 .5-26-2.3-4-1.4-6-3.2-2.5-2.1-.8-2 .1-2 1.1-2 4.1-2.8 18-6.7 14-4.3 10-2.1 8 .2 2-2.2 1.3-6.1 .7-1.2z"/>
<path fill="#84bad8" d="M239.9 219.2l1.3-1.4 2-.3 8.2 1.7 3.2 2 3.4 4 1.9 4 .7 4 1.2 2 3.4 .7 12 .1 6 .8 4 1.7 4.3 2.7 2.4 2 3 4 2 6 .7 6-1.3 6-2.6 6-.5 4 3.5 16 .7 8-1 8-1.2 3.2-2 1.9-2 .3-4.2-1.4-3-2-3.3-4-2.8-6-4.7-17.5-2-4.5-10-8.6-2.8-3.4-2.2-4-1.1-6 .7-14-.6-3.6-2-1.3-6-2.2-2-1.4-4-5.2-2.3-4.3zM154.7 223.2l2.5-1.1 2 0 2 .7 2 1.5 2.8 4.9 2.7 8 .1 2-1.1 2-5.7 8-2.8 1.6-2-.6-2-2.1-2.3-4.9-1-4-.6-8 .3-4 .9-2zM238.8 255.2l2.4-.5 1.6 .5 2.7 2 1 2 0 2-1.3 2.3-2 1.1-2 .1-2-.7-2-1.7-1.1-3.1 .5-2zM270.5 309.2l.7-.6 2-.1 2.4 2.7 1.9 8 1.1 8-.6 6-1.8 4-3 3.3-2 .6-2-.3-1.9-1.6-1.3-2-.8-10 1-10 2.5-6zM214.9 329.2l4.3-1.2 6-.2 22 2.7 2.2 .7 5.8 3.8 6 2.6 1.9 1.6 1.2 2 2.9 7.4 5.8 8.6 3.6 10-1.4 2.6-14 10.1-6.7 3.3-10.7 4-2.6 .5-6.4-.5-1.4-2-.7-4-1.5-1.8-4-1.5-10 1.3-6-.9-6 2.7-2 .4-8-.6-6 .5-4 1.2-10 5.9-2 .6-2 0-4-.9-4-2.5-5.3-4.4-1.5-2-.8-2 .2-4 1.5-4 3.5-4 6.4-3.7 14-3.7 4-1.9 2.4-2.7 3.3-10 4.3-6.8 2-1.4 4.3-1.8zM132.3 347.2l4.9-.7 4 .7 4 1.9 2 2.1 1.6 4-.2 4-1.4 2.9-2 2-4 1.6-6 .2-4-1.4-3.4-3.3-1.7-4 .2-4 2.4-4zM209.7 415.2l5.5-1.4 4 .5 4 1.6 3.6 3.3 .8 2 .1 2-.7 2-1.5 2-2.4 2-9.9 4.5-1.8 1.5-6 8-10.2 6.6-6 2.7-4 1.1-12-.3-14-2.4-3.3-1.7-3.9-4-.2-2 1.5-2 3.5-2 10.4-4 14-4.3 8-1.1 10 1.4 2-.3 2.2-1.7 2.4-10 1.4-2.1z"/>
<path fill="#679dc9" d="M244.4 221.2l4.8-.2 3.9 2.2 2.1 4-.1 2-1.9 2-2 .2-4-1.8-3-4.4-.6-2zM156.1 223.2l3.1-.5 2 .7 2 1.8 2.9 6 1.7 6-.1 2-4.5 7.1-2 2.5-2 .9-2-.7-2-2.2-1.7-3.6-1.3-6-.3-6 .5-4 1.2-2zM264.3 239.2l4.9-1.4 4-.4 6 .1 4 .7 4 1.8 4.6 3.2 2 2 2.5 4 1.5 6 .1 4-.9 4-2.4 6-.6 4 4.1 20 .4 6-1.3 8-2 3.3-1.6 .7-2.4-.1-2-.8-2-1.3-3.3-3.8-3.8-8-4.8-18-1-2-1.5-2-9.6-8-3.8-6-1.1-6 1.4-10 1.5-3.7zM238 257.2l1.2-.9 2-.3 2 .6 2.1 2.6-.1 2.4-2 2-2 .1-2-.9-1.5-1.6-.5-1.5zM269.7 311.2l1.5-1.4 2 0 2 2.3 1.5 5.1 1.1 8-.6 6-1.6 4-2.4 2.4-2 .3-2-1.1-1.1-1.6-1.6-4-.6-4 .5-8 1.9-6zM216.3 331.2l4.9-1.3 8 .4 14 3.5 3.6 1.4 2.4 1.6 8 6.7 2.5 3.7 7 16-.1 2-2.1 4-3.3 3.3-2 1.3-4 1.3-4 0-6-1.3-22-7.2-8-1.5-6-2.4-6-1.6-1.9-1.9-.3-6-3-6-.2-4 .8-2 1.6-2 5-3.4zM130.8 349.2l2.4-1.1 4-.5 4 .9 2 1 2 1.8 1.6 3.9-.5 4-1.2 2-2.7 2-3.2 1.1-4 0-4-1.7-2.9-3.4-.9-4 1.3-4zM173.9 363.2l5.3-1 20-.6 2 1 3.4 6.6 .4 2-.5 2-1.3 2-4 2.4-12 2-12 4.1-6-.6-3.7-1.9-2.3-2-2-3.2-.4-2.8 2.1-4 2.3-2 4-2.2zM210.4 417.2l4.8-1.6 4 .5 2.5 1.1 2.2 2 .9 2 .1 2-.8 2-2.9 2.7-4 1.6-6 .8-2-.7-1.6-2.4-.5-4 1.3-4zM184.4 433.2l4.8 .1 4 1.1 4 2.8 1.5 2 .2 2-.7 2-1.5 2-5.7 4-3.8 1.5-4 .8-10-.7-8.6-1.6-4.3-2-1.7-2 .6-2.4 1.9-1.6 3.9-2 14.2-4.8z"/>
<path fill="#4c7db8" d="M154.5 225.2l2.7-1.8 2-.1 2 .8 2.7 3.1 2.8 8 0 4-1 2-4.5 6.5-2 1-2-.7-2-2.4-2.2-6.4-.4-10zM270.1 239.2l9.1-.5 6 1.6 4 2.4 3 2.5 1.6 2 1.9 4 .8 4 0 4-3.3 10-.3 4 3.7 16 1 10-.4 4-1.2 4-.8 1.3-2 1.4-2 .1-2-.8-4.3-4-2.4-4-2.4-6-4.9-18.2-2-2.7-8.7-7.1-4-6-1-4-.1-4 2-8 1.2-2 2.3-2zM238.7 259.2l.5-1 2-1 2.6 2 0 2-.6 .7-2 .2-1.7-.9zM270.9 311.2l2.3-.2 2 2.6 1.5 5.6 .5 6-.3 4-1.3 4-2.4 2.6-2 .2-2-1.5-.8-1.3-1.4-4-.5-4 .1-4 1.5-6 1.1-2.3zM218.2 333.2l5-1.1 8 1 12 5 4 2.6 8 7.9 1.7 2.6 3.1 10-.2 2-1 2-2.3 2-3.3 1.4-6-.1-8-2.4-10-2.2-6-2.5-6-1.6-4.9-2.6-2.2-2-5.3-8-.9-2 .1-2 1-2 2.2-2.2zM133.6 349.2l3.6-.4 2 .3 4 2.1 1.4 2 .5 4-.8 2-1.8 2-3.3 1.5-4 .1-3.5-1.6-1.8-2-.9-2 .1-4 2.1-2.7zM173.5 367.2l5.7-1.3 5.9 1.3 4 2 1.9 2-.3 2-2.2 2-9.3 3.8-4 .6-4-.6-3-1.8-1.4-2-.1-2 1.1-2 1.4-1.3zM211 419.2l4.2-1.9 4 .7 2 1.2 1.2 2 0 2-1.2 2.2-3.2 1.8-2.8 .5-3.3-.5-2-2-.5-2 .4-2zM179 437.2l6.2-1.1 4 .6 3.4 2.5 .8 2-.2 2-1.3 2-2.7 1.9-6 1.8-4 0-9.4-1.7-3.2-2 0-2 2.3-2z"/>
<path fill="#3c5aa7" d="M155.4 225.2l1.8-1.1 2-.2 2.5 1.3 2.5 4 2 6-.2 4-1.1 2-3.7 5.5-2 1-2-.7-1.5-1.8-2.2-6-.5-6 .3-4 .6-2zM268 241.2l3.2-1 4-.5 4 .1 4 .8 4 2 3.4 2.6 1.8 2 2.1 4 .8 4-.1 4-3.3 12 .4 4 4 16 .5 8-1.1 6-2.5 3.3-2 .3-2-.7-4-3.8-2.8-5.1-1.6-4-4.1-16-1.5-3.7-2-2.4-8-6.5-3.7-5.4-1.2-6 1.1-6 1.8-4.1 2-2.2zM269.9 313.2l1.3-1.3 2 .1 2 3 1.1 4.2 .5 6-.5 4-1.1 2.9-2 2.3-2 .2-2-1.8-1.9-5.6 .2-8 1.1-4zM220.9 335.2l4.3-.5 4 .5 14.9 8 3.9 4 4.1 6 1 4-.5 2-1.4 1.7-2 .8-12-.4-4-.8-7.8-3.3-6.2-1.5-2-1.1-3.6-3.4-3-4-.9-2-.1-2 1-2 2.3-2zM132.3 351.2l2.9-1.2 2 0 4 1.4 1.7 1.8 .6 2-.1 2-1.1 2-3.1 2-2 .4-4-1-2-2-1.1-3.4 .5-2zM212.5 421.2l2.7-1.7 2 .1 2.3 1.6 .1 2-2.4 1.9-2.8 .1-1.2-.6-1-1.4zM179.3 441.2l3.9-1 2 .2 1.6 .8 0 2-3.5 2-2.5 0-3.2-2z"/>
<path fill="#313695" d="M156.6 225.2l2.6-.6 2 .9 2.5 3.7 1.9 6 .2 2-1.5 4-3.1 4.5-2 1.1-2-.8-2-2.8-1.5-6 .1-8 .8-2zM271.9 241.2l7.3-.4 6 1.8 5.9 4.6 2.3 4 .9 4-.2 4-2.5 8-.6 4 4.7 20 .5 6-1 6.8-2.5 3.2-1.5 .4-2-.6-4-4-2.1-3.8-2.3-6-3.4-14-1.6-4-2.6-3.2-8.1-6.8-1.9-2.7-1.4-3.3-.3-6 1.9-6 3.5-4zM270.8 313.2l2.4-.2 1.4 2.2 1.3 4 .4 4-.2 4-.9 3.2-2 2.7-2 .2-2-2-.9-2.1-.8-6 .9-6 .8-2.1zM219.8 339.2l5.4-1.4 4 .8 2 1 11.2 7.6 1.5 2 .5 2-.4 2-2.8 2.6-2 .6-4 .1-16-6.1-3.2-3.2-1-2 .1-2 1.5-2zM132.3 353.2l2.9-1.8 2-.2 2 .7 2 1.8 .6 1.5-.3 2-2.3 2.3-2 .6-2-.2-2-1.2-1.1-1.5-.5-2z"/>
<path fill="none" stroke="#000" stroke-width="3.2" stroke-linecap="round" stroke-dasharray="0 7.69" d="M145.9 178.5h30.76M142.1 182.4h46.14M138.2 186.2h53.83M142.1 190.1h53.83M138.2 193.9h61.52M142.1 197.8h69.21M145.9 201.6h61.52M149.8 205.4h61.52M145.9 209.3h69.21M149.8 213.1h69.21M161.3 217.0h53.83M165.2 220.8h53.83M169.0 224.7h46.14M180.5 228.5h30.76M192.1 232.4h7.69M280.5 236.2h0.01M276.7 240.0h15.38M272.8 243.9h15.38M269.0 247.7h23.07M149.8 251.6h0.01M272.8 251.6h23.07M145.9 255.4h15.38M207.5 255.4h15.38M269.0 255.4h23.07M142.1 259.3h23.07M195.9 259.3h38.45M272.8 259.3h23.07M138.2 263.1h23.07M184.4 263.1h53.83M269.0 263.1h30.76M142.1 267.0h23.07M180.5 267.0h61.52M272.8 267.0h23.07M138.2 270.8h107.66M269.0 270.8h23.07M142.1 274.7h107.66M272.8 274.7h23.07M145.9 278.5h99.97M269.0 278.5h23.07M149.8 282.3h7.69M172.8 282.3h76.90M272.8 282.3h15.38M176.7 286.2h69.21M276.7 286.2h15.38M172.8 290.0h76.90M280.5 290.0h0.01M176.7 293.9h69.21M180.5 297.7h69.21M176.7 301.6h69.21M180.5 305.4h61.52M184.4 309.3h53.83M195.9 313.1h30.76M145.9 316.9h7.69M207.5 316.9h7.69M134.4 320.8h23.07M130.6 324.6h30.76M134.4 328.5h23.07M226.7 328.5h7.69M138.2 332.3h15.38M222.8 332.3h15.38M219.0 336.2h23.07M215.1 340.0h30.76M211.3 343.9h38.45M215.1 347.7h30.76M211.3 351.6h30.76M215.1 355.4h30.76M219.0 359.2h15.38M176.7 370.8h7.69M180.5 374.6h0.01M215.1 416.9h0.01M211.3 420.8h7.69M215.1 424.6h0.01M161.3 440.0h30.76M157.5 443.8h38.45M161.3 447.7h30.76"/>
<g fill="none" stroke="#000" stroke-width="1.35" stroke-dasharray="2.1 2.1"><circle cx="207.3" cy="273.3" r="23.8"/><circle cx="207.3" cy="273.3" r="47.9"/><circle cx="207.3" cy="273.3" r="72.7"/><circle cx="207.3" cy="273.3" r="98.8"/><circle cx="207.3" cy="273.3" r="126.6"/><circle cx="207.3" cy="273.3" r="156.7"/><path d="M17.2 273.3L397.4 273.3"/><path d="M42.7 178.3L371.9 368.4"/><path d="M112.2 108.7L302.4 437.9"/><path d="M207.3 83.2L207.3 463.4"/><path d="M302.3 108.7L112.3 437.9"/><path d="M371.9 178.3L42.7 368.4"/></g>
<path fill="none" stroke="#000" stroke-width="1.4" stroke-linejoin="round" d="M258.6 88.4 257.3 95.3 258.1 101.7 260.7 108.8 263.2 115.5 264.7 119.9 267.7 125.2 267.3 131.9 270.7 136.1 272.1 132.3 271.1 126.6 270.3 121.1 268.9 115.2 268.1 108.9 267.2 104.2 269.1 106.4 272.3 112.3 271.4 116.2 274.7 121.9 276.5 124.9 273.8 126.1 275.3 132.1 275.2 138.3 275.1 141.4 276.2 146.4 280.0 150.4 279.5 157.4 278.8 161.1 278.5 166.9 278.0 169.7 275.1 173.2 274.2 176.0 268.3 182.8 266.0 188.5 263.6 186.6 264.3 183.8 262.3 188.0 263.3 191.9 265.2 196.5 264.0 200.7 263.2 206.7 263.2 210.2 261.8 215.9 262.4 220.1 262.3 223.8 263.4 226.2 266.2 230.5 265.9 233.8 268.7 235.7 271.8 236.0 273.2 238.0 269.2 239.0 267.4 237.9 270.4 239.7 274.0 240.0 277.1 240.0 281.0 241.2 284.5 242.9 287.7 245.6 289.9 248.8 286.7 247.5 284.1 245.4 280.0 243.9 277.3 244.3 278.5 246.0 279.6 249.5 277.0 250.7 276.2 254.2 274.1 256.0 272.5 257.0 270.2 256.2 267.9 253.0 265.4 253.3 266.0 255.3 266.7 258.8 264.7 261.1 262.6 259.5 262.5 257.2 261.4 255.5 260.3 257.6 257.9 261.2 256.4 261.1 253.8 259.1 250.9 257.4 248.3 255.5 247.8 251.7 247.1 248.4 245.3 244.6 244.2 241.3 243.5 238.3 241.2 238.2 237.9 236.8 236.0 236.5 235.5 233.1 232.2 231.8 230.1 228.5 228.5 225.8 229.8 225.0 225.4 223.5 224.1 221.5 223.2 224.3 220.6 223.5 218.4 221.2 215.2 220.6 213.6 222.1 213.0 219.1 211.3 221.9 212.4 224.5 211.2 229.3 209.6 229.1 209.0 225.5 208.2 223.5 207.3 221.8 205.5 221.3 203.5 219.4 203.4 223.1 200.5 224.7 199.7 222.3 199.6 218.6 202.3 216.6 204.2 213.9 205.7 210.6 208.4 209.4 210.8 205.7 212.9 202.0 213.5 197.8 210.8 193.0 207.3 192.9 203.7 190.4 199.9 188.8 195.9 188.7 194.7 183.3 192.7 181.0 190.0 180.1 189.4 182.9 191.2 186.6 191.0 189.3 188.6 192.4 188.8 196.4 192.2 199.0 191.6 202.3 193.4 207.8 188.8 209.0 186.0 207.7 183.3 207.3 180.9 202.8 178.4 201.8 176.7 204.5 176.3 208.3 172.5 205.1 168.3 201.5 165.1 200.3 161.2 199.6 158.5 198.2 155.5 197.1 155.0 194.2 157.1 191.3 158.3 188.4 162.8 186.0 168.1 183.2 170.7 178.0 172.5 172.2 170.3 174.4 167.6 179.9 163.6 181.7 162.4 179.2 163.5 177.2 161.2 175.3 158.4 175.1 154.6 176.2 152.7 178.8 153.2 175.7 156.6 171.7 159.0 167.4 161.1 168.6 159.5 173.0 161.8 171.1 163.4 168.9 166.0 165.7 167.9 163.8 168.0 160.5 165.8 159.2 168.4 157.1 172.6 153.9 172.7 150.9 173.6 147.7 174.2 143.6 174.4 141.4 172.4 137.3 174.6 134.9 177.2 131.8 179.9 128.5 183.2 124.7 184.1 119.9 180.9 113.9 178.3 108.8 178.3 103.8 180.9 103.0 183.2 106.0 186.4 110.5 187.3 114.6 190.9 117.4 194.9 116.1 199.2 118.0 204.6 117.2 205.9 114.0 210.1 114.0 216.9 115.9 221.2 114.6 227.3 110.7 228.9 105.0 230.9 98.6 232.0 92.9 231.1 87.5 228.4 82.6M209.6 81.4 208.6 86.7 202.5 88.5 197.6 88.7 196.8 85.3 198.9 81.6M191.0 90.6 186.0 94.5 179.2 96.2 172.6 94.9 166.4 93.4 160.6 91.6 155.7 91.1 157.4 89.5 166.7 86.9 165.7 90.0 170.4 92.2 177.1 92.7 182.0 93.3 185.0 91.5 188.1 90.5 191.0 90.6M153.5 182.8 154.0 186.9 154.6 191.3 153.9 195.3 152.5 192.7 152.8 190.9 150.6 190.8 147.8 192.0 145.1 190.7 143.0 188.9 142.9 186.9 145.2 187.2 146.3 185.2 148.7 185.8 153.5 182.8M264.1 187.2 266.4 190.4 267.4 197.2 265.3 196.3 264.1 192.8 264.1 187.2M179.8 211.5 183.5 211.3 187.5 212.5 192.3 213.2 194.6 213.5 194.4 215.3 190.7 215.4 190.8 219.3 191.7 222.4 195.1 224.5 198.2 226.3 200.6 225.9 204.0 226.0 206.9 227.9 207.3 233.2 204.6 234.8 201.1 234.4 198.1 233.3 195.2 231.0 191.8 229.6 188.9 227.8 186.5 225.4 183.0 224.5 180.4 223.7 180.4 219.4 179.8 215.6 179.8 211.5M201.6 241.2 204.5 241.3 206.8 242.4 205.9 246.0 208.1 250.8 207.7 253.1 205.7 255.6 203.0 257.3 200.1 257.8 198.4 256.5 198.3 253.9 199.2 251.0 199.7 248.3 200.4 245.6 200.9 243.0 201.6 241.2M201.3 239.3 204.3 239.4 207.9 237.6 208.4 241.2 206.7 240.7 203.9 240.9 201.3 239.3M220.3 224.7 224.8 225.3 228.4 228.1 229.0 230.6 228.3 233.8 226.3 236.1 223.2 236.0 219.8 234.7 218.1 232.9 217.5 229.0 216.5 225.8 220.3 224.7M231.8 235.6 232.3 238.3 228.6 241.7 225.9 241.1 224.8 237.5 227.1 236.0 229.4 235.0 231.8 235.6M204.0 210.0 200.5 209.0 197.5 211.4 200.1 214.8 203.2 214.7 204.0 210.0M223.3 241.9 219.7 239.3 216.8 240.1 217.2 242.7 220.0 243.3 223.3 241.9M211.4 230.5 207.7 231.5 207.3 234.9 210.6 235.3 211.4 230.5M216.5 230.1 212.6 230.1 212.1 234.2 214.7 235.4 216.5 230.1M206.2 247.9 208.6 247.9 209.7 250.9 208.0 252.4 206.2 247.9M154.6 222.4 160.3 221.1 166.6 224.0 170.2 225.9 174.4 228.9 177.0 233.1 176.4 235.1 180.2 235.3 183.3 239.1 187.2 242.3 189.9 244.3 192.9 243.8 194.8 242.4 197.0 244.9 198.6 246.6 197.5 249.1 197.5 252.2 197.2 255.8 195.6 259.3 195.3 263.2 193.9 265.6 190.8 266.6 188.3 266.4 187.6 269.1 184.6 266.4 181.5 264.4 176.9 262.8 173.9 260.5 170.3 259.8 168.8 257.0 164.0 255.8 162.8 252.6 161.4 249.9 162.1 246.1 160.5 241.7 160.6 238.1 161.2 234.6 158.1 230.5 156.5 226.7 154.6 222.4M148.9 249.1 151.9 248.6 152.0 250.9 154.1 249.6 154.9 251.6 152.6 253.4 152.9 255.6 153.0 257.7 150.2 258.5 148.3 258.9 147.2 257.2 146.3 253.5 147.4 250.9 148.9 249.1M181.1 278.2 178.8 279.9 177.0 282.3 179.1 282.7 181.2 283.6 182.8 282.5 184.9 284.2 186.3 284.0 186.4 281.8 184.6 280.2 183.3 278.0 181.1 278.2M179.8 307.9 181.7 306.4 183.9 304.9 186.4 303.2 188.5 302.3 190.8 302.0 193.2 302.2 195.7 302.0 195.9 303.1 193.6 304.0 190.6 304.6 188.6 305.7 186.2 307.1 184.0 308.5 182.9 311.6 182.0 312.2 180.2 310.6 179.8 307.9M210.0 299.3 211.5 297.2 213.5 298.0 214.5 300.2 212.3 301.4 210.0 299.3M232.6 296.9 233.6 293.8 237.0 291.9 237.3 293.6 235.0 296.6 232.6 296.9M252.7 274.3 251.5 273.3 252.0 271.4 252.9 271.7 252.7 274.3M191.9 289.8 193.0 291.6 195.3 292.4 197.3 292.2 196.3 290.2 193.6 289.7 191.9 289.8M69.6 259.8 72.2 258.1 73.7 255.9 73.6 252.4 77.9 253.3 78.7 251.8 82.8 253.8 87.3 254.9 90.8 254.2 92.3 257.1 91.5 262.1 90.6 266.2 90.4 269.6 93.5 270.9 97.1 271.2 100.4 269.2 102.8 265.4 104.5 264.7 105.4 268.0 104.8 270.4 107.7 270.0 106.9 271.2 107.1 273.6 109.1 276.0 110.9 276.0 111.5 277.5 112.4 279.3 114.6 280.1 116.8 280.9 118.0 282.7 118.2 284.2 119.0 286.0 120.1 286.8 122.7 286.1 124.1 285.1 127.2 284.8 128.5 286.5 130.0 287.8 126.9 288.1 126.6 288.8 124.3 287.9 122.9 287.6 121.7 288.4 120.7 290.1 122.2 292.2 122.1 294.1 121.6 295.2 124.0 298.0 125.5 300.3 124.8 301.4 125.3 302.8 127.9 303.8 131.8 302.4 133.7 302.4 134.7 303.5 133.4 305.1 134.5 306.2 137.1 305.1 137.6 303.6 138.7 303.1 140.2 304.6 141.9 308.0 144.2 310.0 144.5 307.4 142.8 304.7 140.1 301.8 140.8 299.5 143.8 298.1 146.6 297.0 151.2 298.3 153.1 298.9 154.2 297.2 152.9 295.3 150.1 295.6 147.2 295.2 144.1 293.8 141.5 293.8 139.3 294.4 138.3 296.4 136.7 297.3 134.8 296.2 132.2 295.7 129.2 296.3 127.7 295.8 127.2 294.2 125.3 294.0 124.9 292.3 127.1 291.4 130.1 289.4 133.2 288.0 135.3 286.8 133.1 286.1 130.8 284.3 130.0 282.8 131.9 280.7 134.8 279.8 138.6 279.3 140.4 279.7 142.4 281.3 144.1 282.7 145.6 284.2 148.0 285.1 151.0 285.8 153.5 286.0 155.8 286.9 158.0 287.4 160.0 288.2 161.6 289.0 162.8 290.4 165.0 291.7 166.6 292.9 167.2 294.6 167.1 296.5 166.7 297.7 165.2 297.6 165.9 300.2 167.0 302.6 166.9 306.0 166.5 308.7 165.1 310.0 162.6 309.5 161.0 305.7 160.4 303.8 159.3 306.3 156.9 308.4 157.0 311.2 158.9 311.1 160.4 312.6 162.1 311.9 164.6 311.0 165.8 312.7 167.6 311.7 169.9 309.4 171.0 310.9 169.3 313.4 171.3 313.2 173.5 313.5 176.3 314.5 176.6 315.6 179.4 316.3 181.3 317.5 183.3 316.7 183.6 315.2 185.6 317.9 187.4 320.1 188.2 321.7 189.3 320.3 188.3 318.0 189.5 315.1 191.8 312.6 193.5 311.2 195.0 312.5 194.2 315.5 193.1 317.7 192.1 321.8 189.8 327.0 191.5 326.7 193.1 322.8 194.7 318.7 194.9 315.0 196.5 313.7 198.1 314.8 197.9 317.7 199.7 316.1 201.1 312.2 204.6 311.8 205.4 309.0 208.5 307.1 211.9 305.8 214.4 301.7 216.5 303.3 219.6 303.8 221.3 305.4 220.3 309.2 222.5 309.1 226.1 308.7 229.1 306.9 230.6 304.7 233.1 305.2 235.4 308.0 236.7 306.0 238.6 304.6 240.7 302.3 239.3 300.2 242.1 296.8 245.4 295.3 248.0 294.0 250.2 289.8 253.3 289.6 254.5 285.9 254.1 283.3 254.3 281.2 256.9 281.6 255.4 278.4 256.6 275.0 259.3 270.6 262.1 266.6 263.9 263.3 268.4 264.7 268.4 266.9 266.4 269.2 266.0 272.3 268.2 274.4 269.2 275.5 273.7 276.2 275.1 280.4 279.0 285.3 277.7 289.6 277.6 292.8 279.9 295.1 282.0 296.9 286.3 297.1 288.6 300.0 292.2 304.2 292.3 306.8 295.6 311.3 290.3 310.2 285.3 308.7 281.1 306.6 279.4 303.9 277.6 300.3 275.1 296.7 273.4 292.9 271.2 291.6 271.6 296.7 270.8 300.2 274.4 304.6 273.8 308.6 270.5 311.3 268.5 315.4 266.6 318.8 267.3 323.7 268.5 329.4 268.7 334.1 272.9 332.3 274.9 330.0 277.6 329.6 280.5 333.6 283.3 336.4 287.1 339.1 288.4 345.1 289.3 351.1 290.0 356.0 288.2 360.0 285.4 360.7 285.6 364.3 285.8 367.8 286.9 369.9 285.1 373.9 285.8 375.6 289.2 376.2 293.2 377.9 295.9 381.1 295.3 383.9 292.4 388.4 290.3 385.8 288.5 382.3 286.6 380.5 283.3 381.8 281.5 378.0 278.8 378.1 275.8 382.9 274.7 384.6 273.6 379.4 271.2 379.6 269.8 386.1 267.5 388.0 271.4 389.9 273.0 390.9 275.4 387.5 279.7 387.0 277.8 390.6 276.4 395.5 277.1 397.6 280.1 397.9 283.5 400.6 287.3 401.9 288.6 404.0 286.4 407.5 290.7 406.8 291.9 410.9 291.4 416.1 291.4 421.4 290.7 426.3 288.8 431.2 286.2 435.1 282.0 438.6 280.0 440.6 275.7 444.3 272.0 447.2 273.5 450.4 271.6 451.1 269.7 447.7 265.7 447.9 263.0 449.9 261.2 453.0 261.1 454.9 259.4 458.7M218.4 465.2 216.9 463.2 213.8 459.1 213.0 455.3 208.9 455.4 204.1 457.1 199.2 458.0 197.5 460.7 195.7 463.8M150.5 456.9 152.0 450.8 152.4 447.3 150.3 451.0 146.3 450.4 143.5 448.6 142.0 443.3 146.3 442.7 142.6 440.2 141.0 437.4 140.0 434.1 139.2 431.5 133.3 428.5 125.4 424.9 118.9 420.4 115.3 416.6 116.2 412.5 110.6 410.3 107.2 406.2 105.5 401.2 106.2 396.0 105.9 392.0 103.4 390.7 101.4 391.0 99.8 394.8 99.9 399.1 99.8 402.4 98.0 407.3 101.0 405.5 99.9 408.8 98.7 411.3 104.1 415.4 109.4 414.7 113.3 413.7 111.6 417.4 111.3 420.0 114.5 424.8 116.0 430.1 112.7 432.5 108.7 434.2 104.3 435.6M62.0 399.2 64.1 390.1 67.5 384.5 68.4 379.1 70.9 374.2 74.0 367.3 77.3 363.7 72.7 365.5 71.8 365.4 73.1 361.5 75.0 357.9 72.7 359.7 70.7 363.7 68.0 367.2 64.8 373.1 62.2 377.6 60.9 383.3 58.7 386.1 54.4 389.8M78.3 354.9 77.0 351.6 72.7 347.9 70.0 337.9 70.5 331.4 69.9 327.4 65.9 324.8 62.4 326.0 59.6 322.7 60.6 314.5 63.1 311.9 63.1 305.3 64.1 301.1 65.2 298.9 70.0 300.0 73.6 298.1 74.4 299.1 74.8 296.2 73.1 291.0 71.9 285.1 71.5 280.4 68.4 273.3 66.4 268.4 67.0 262.3 69.3 260.3 68.8 258.7 64.0 256.2 62.4 251.6 57.4 247.7 52.8 246.6 49.2 241.7 47.4 236.4 44.0 231.1 37.8 224.7 30.5 219.3 28.2 218.4 22.9 219.0M69.6 259.8 71.5 262.8 71.4 268.1 73.7 271.7 77.2 273.8 79.3 272.6 83.0 275.0 84.8 278.0 87.2 280.0 90.0 279.4 90.9 281.4 90.6 284.1 90.6 287.0 92.5 288.4 94.5 290.8 93.6 293.8 91.0 294.9 89.3 298.0 87.7 300.0 86.7 303.4 85.4 307.3 82.4 308.4 80.0 309.8 79.5 309.2 81.5 310.8 83.6 311.6 85.1 309.7 87.6 309.9 87.2 313.3 88.1 313.2 89.0 309.5 89.7 307.0 90.8 306.7 90.5 304.6 92.2 302.0 94.2 300.7 95.3 297.9 98.2 297.1 99.9 299.5 98.0 299.7 99.1 300.9 97.3 302.8 95.2 305.5 94.4 308.9 93.7 311.3 92.8 313.6 88.8 315.3 85.9 319.2 82.6 322.2 80.8 325.4 81.8 327.1 84.3 325.5 85.8 327.4 87.6 324.9 89.2 322.7 91.6 321.7 91.4 324.2 92.7 325.0 94.4 324.5 95.6 327.8 94.5 328.8 92.4 331.1 89.7 331.7 87.5 335.1 87.2 337.7 87.4 340.6 90.3 342.5 90.5 346.3 93.4 350.2 96.3 352.8 95.5 354.8 93.3 355.8 91.2 357.0 86.9 357.9 83.3 359.1 81.0 359.1 79.6 358.1 78.3 354.9M99.6 333.0 100.6 330.0 102.0 328.6 105.4 328.9 108.2 327.6 110.3 328.6 114.3 328.8 115.7 330.6 115.8 333.8 113.5 333.3 112.6 336.0 115.5 338.3 117.6 339.7 117.4 336.2 121.2 337.7 123.8 339.7 124.8 340.5 121.3 340.5 118.6 341.1 118.0 344.3 117.6 347.8 117.8 352.5 116.1 354.3 112.5 352.8 109.8 349.5 108.4 345.2 108.3 342.6 106.5 340.0 102.5 337.5 99.6 333.0M136.2 355.0 140.0 356.4 142.6 359.1 140.1 362.4 137.0 361.1 134.9 361.1 133.9 363.9 135.1 367.4 133.4 370.7 134.6 373.4 131.1 374.4 130.5 378.3 128.4 381.9 123.6 380.4 121.6 376.5 119.7 374.1 122.0 371.1 126.0 368.5 127.0 369.7 127.4 365.9 127.4 362.1 128.5 359.3 129.8 356.4 132.4 355.0 136.2 355.0M147.1 371.6 149.9 374.8 153.6 372.1 154.8 368.0 152.0 367.1 148.8 368.7 147.1 371.6M230.1 364.8 232.7 361.9 235.5 357.5 235.7 352.1 235.2 354.2 233.6 359.4 230.1 364.8M175.4 381.1 179.4 377.4 185.7 379.4 180.9 379.2 177.6 380.3 175.4 381.1M109.2 263.5 109.5 267.3 110.4 270.8 111.7 275.5 115.7 276.0 116.5 273.8 118.0 273.3 121.2 271.3 123.8 270.4 124.4 269.0 128.2 270.5 128.8 268.5 131.1 269.0 131.3 266.6 128.6 265.3 126.0 264.8 123.4 265.2 121.5 266.1 121.6 268.4 118.7 268.7 117.4 268.3 117.3 266.2 115.4 266.4 113.7 264.8 112.4 268.0 111.5 265.8 109.2 263.5M114.9 263.6 118.3 263.6 121.1 264.8 122.8 263.7 123.1 261.2 120.9 258.1 118.3 257.9 115.3 256.6 113.8 257.7 114.6 261.1 114.9 263.6M85.8 293.2 90.3 293.1 88.6 291.2 86.4 292.0 85.8 293.2M79.1 291.8 80.2 294.8 84.8 294.2 85.7 293.0 84.3 291.2 79.1 291.8M78.0 302.0 80.3 308.5 76.1 308.9 76.9 302.2 78.0 302.0M78.9 329.4 81.0 335.4 78.7 331.9 78.9 329.4M88.0 349.0 92.3 352.3 89.1 352.4 88.0 349.0M296.4 421.6 298.7 420.1 299.4 423.6 301.3 430.4 297.4 428.8 296.3 424.3 296.4 421.6M293.7 340.8 293.7 337.2 290.2 336.5 289.9 332.2 284.3 330.9 280.1 327.6 276.8 326.3 277.8 328.4 280.8 331.1 285.2 334.1 289.4 337.5 292.3 340.0 293.7 340.8M305.8 389.9 307.5 388.1 306.0 383.6 302.2 382.5 304.2 379.1 308.1 374.1 311.7 375.2 311.8 371.1 314.3 367.0 315.3 364.0 315.3 361.1 311.3 357.6 308.9 353.6 305.3 351.2 303.0 349.9 302.1 352.0 304.1 354.8 307.2 358.0 307.2 363.3 305.2 364.6 306.5 366.7 307.5 370.0 302.7 375.6 301.2 381.3 301.1 385.0 301.9 387.2 305.8 389.9M301.3 351.6 301.9 349.4 304.1 345.7 303.9 339.7 301.2 339.1 298.7 342.1 294.8 342.2 299.2 346.1 297.7 348.3 299.5 350.6 301.3 351.6M270.8 263.8 270.8 261.0 269.9 262.8 270.8 263.8M279.4 238.9 277.4 236.5 275.7 237.7 277.7 238.9 279.4 238.9M268.6 202.7 267.5 208.8 266.0 207.4 268.6 202.7M211.1 165.6 205.5 169.1 201.1 171.2 197.0 166.8 197.9 165.4 201.6 165.1 207.3 165.3 211.1 165.6M202.6 151.7 199.5 152.7 199.9 158.3 197.7 163.5 200.6 163.0 202.9 159.5 202.6 151.7M196.8 164.1 191.1 164.8 187.7 162.0 190.3 157.0 191.9 156.3 194.3 158.8 194.6 162.1 196.8 164.1M193.1 152.4 184.7 156.9 184.9 156.0 190.3 152.2 193.1 152.4M186.3 158.0 180.0 161.3 179.7 160.0 184.9 158.0 186.3 158.0M239.8 223.2 235.9 221.7 233.8 223.4 235.7 226.0 238.7 224.9 239.8 223.2M239.2 210.7 235.7 209.6 230.9 211.7 233.5 211.7 237.2 212.0 239.2 210.7M221.7 176.9 219.2 176.6 219.0 184.5 221.5 183.6 221.7 176.9M292.5 250.5 294.1 252.5M295.4 254.6 297.0 255.9M299.7 263.6 301.1 267.6M297.7 284.4 297.3 285.5M378.7 209.9 378.9 208.4M378.9 204.7 379.0 202.9M378.9 199.1 378.7 197.0"/>
</g>
<circle cx="207.3" cy="273.3" r="190.1" fill="none" stroke="#000" stroke-width="1.5"/>
<text x="207.3" y="81.3" text-anchor="middle">90W</text><text x="207.1" y="476.6" text-anchor="middle">90E</text><text x="91.5" y="108.2" text-anchor="middle">60W</text><text x="326.5" y="108.2" text-anchor="middle">120W</text><text x="19.0" y="180.2" text-anchor="middle">30W</text><text x="399.3" y="180.2" text-anchor="middle">150W</text><text x="6.0" y="279.3" text-anchor="middle">0</text><text x="418.0" y="279.3" text-anchor="middle">180</text><text x="21.8" y="377.8" text-anchor="middle">30E</text><text x="396.6" y="377.8" text-anchor="middle">150E</text><text x="94.0" y="450.3" text-anchor="middle">60E</text><text x="324.5" y="450.3" text-anchor="middle">120E</text>
<text transform="translate(15.3 54.3) scale(.935 1)" font-size="35.5">(a)</text>
<g stroke="#000" stroke-width="1.1"><rect x="435.3" y="407.96" width="11.4" height="16.84" fill="#313695"/><rect x="435.3" y="391.11" width="11.4" height="16.84" fill="#3c5aa7"/><rect x="435.3" y="374.27" width="11.4" height="16.84" fill="#4c7db8"/><rect x="435.3" y="357.42" width="11.4" height="16.84" fill="#679dc9"/><rect x="435.3" y="340.58" width="11.4" height="16.84" fill="#84bad8"/><rect x="435.3" y="323.73" width="11.4" height="16.84" fill="#a3d3e6"/><rect x="435.3" y="306.89" width="11.4" height="16.84" fill="#c2e4ef"/><rect x="435.3" y="290.04" width="11.4" height="16.84" fill="#e0f3f8"/><rect x="435.3" y="273.20" width="11.4" height="16.84" fill="#f0eac4"/><rect x="435.3" y="256.36" width="11.4" height="16.84" fill="#fedd8c"/><rect x="435.3" y="239.51" width="11.4" height="16.84" fill="#fec676"/><rect x="435.3" y="222.67" width="11.4" height="16.84" fill="#fdae61"/><rect x="435.3" y="205.82" width="11.4" height="16.84" fill="#f88e52"/><rect x="435.3" y="188.98" width="11.4" height="16.84" fill="#f46d43"/><rect x="435.3" y="172.13" width="11.4" height="16.84" fill="#e64e35"/><rect x="435.3" y="155.29" width="11.4" height="16.84" fill="#d73027"/><rect x="435.3" y="138.44" width="11.4" height="16.84" fill="#be1826"/><rect x="435.3" y="121.60" width="11.4" height="16.84" fill="#a50026"/></g><g font-size="12.3"><text x="460.3" y="412.0" text-anchor="middle">-0.8</text><text x="460.3" y="395.1" text-anchor="middle">-0.7</text><text x="460.3" y="378.3" text-anchor="middle">-0.6</text><text x="460.3" y="361.4" text-anchor="middle">-0.5</text><text x="460.3" y="344.6" text-anchor="middle">-0.4</text><text x="460.3" y="327.7" text-anchor="middle">-0.3</text><text x="460.3" y="310.9" text-anchor="middle">-0.2</text><text x="460.3" y="294.0" text-anchor="middle">-0.1</text><text x="460.3" y="277.2" text-anchor="middle">0</text><text x="460.3" y="260.4" text-anchor="middle">0.1</text><text x="460.3" y="243.5" text-anchor="middle">0.2</text><text x="460.3" y="226.7" text-anchor="middle">0.3</text><text x="460.3" y="209.8" text-anchor="middle">0.4</text><text x="460.3" y="193.0" text-anchor="middle">0.5</text><text x="460.3" y="176.1" text-anchor="middle">0.6</text><text x="460.3" y="159.3" text-anchor="middle">0.7</text><text x="460.3" y="142.4" text-anchor="middle">0.8</text></g>
<g clip-path="url(#c1)">
<circle cx="687.3" cy="273.3" r="191.1" fill="#e0f3f8"/>
<path fill="#f0eac4" d="M555.8 127.2l3.4-1.7 2-.2 4 1.1 2 1.6 1.8 3.2 .3 2-1 4-1.6 2-3.3 2-2.2 .4-4-.8-2.3-1.6-1.4-2-.8-4 1.3-4zM737.4 157.2l3.8-.6 2 .6 1.4 2-.4 2-3 1.9-2 .1-2-.9-1.1-1.1-.3-2zM674.7 199.2l8.5-.2 8 .7 10 2.2 6 2.1 8 4 6 4.3 18 18 6 4.3 6 2.2 18 2.5 4 1.5 3.5 2.4 2.5 3.2 1.4 2.8 11.9 30 .6 4-.2 6-.8 4-2.2 6-3.4 6-3.1 4-4.1 4-4.1 3-5.5 3-5.7 2-18.8 2.5-8 3-8 5.1-35.4 25.4-4.7 4-3.4 4-1.7 4 .1 6 2.7 6 3.2 4 9.2 7.3 24.4 12.7 5.7 4 1.6 2 .9 2-.3 4-2.8 4-5.1 4-8.4 4.3-12 4.1-14 3.3-30 4.8-14 2.9-14 4.3-24 8.9-14 3.6-10 1.1-10-.3-10-1.8-10-3.6-8-4.5-8.5-7.1-6.4-8-4.2-8-2.5-8-.8-10 1.6-10 3-8 3.3-6 4.3-6 11.3-12 19.7-16 33.2-23.8 4-3.6 2-2.6 1.8-4 .8-4 1-30 1.5-12 2.2-10 3.8-12 4.2-10 5.3-10 5.4-7.8 4-4.8 6-5.8 10-6.7 10-4.2 6-1.6zM851.1 233.2l4.1-1 4 .2 4 1.3 4 2.4 4 3.9 3.8 5.2 3.3 6 2.9 6.7 0 93.8-5.2 11.5-2.8 4.4-4 4.9-6 4.7-4 1.6-4 .5-4-.7-4-2-4-4.1-2.8-5.3-2.3-8-4.9-26-9.2-30-1.4-12 .5-8 1.4-6 10.7-29.1 3-4.9 3.6-4 5.4-4.2z"/>
<path fill="#fedd8c" d="M666.1 205.2l9.1-1.3 10 .1 10 1.6 10 3.3 6 3 8 5.4 6.6 5.9 13.4 14.1 6 4.6 6 2.4 13.4 2.9 4.1 2 2.5 1.9 3.5 4.1 3.1 6 2.8 8 1.2 6 .4 6-.4 6-1.2 6-2.1 6-2.2 4-3 4-6.1 4.9-6 2.6-14 2.1-6 2.1-6 3.7-18 14-12 8.2-10 5.6-22.5 10.8-5.5 4-1.8 2-2.3 4-1.3 6 0 6 1.9 14-.3 4-1.9 4-4.3 4-12.5 6-33.5 12.7-12 3.9-8 1.5-8 .4-6-.8-6-1.9-4-2.1-4-3.2-2.3-2.5-2.4-4-1.5-4-.6-4 .7-8 3.1-8 5-8 6.6-8 15.4-16.6 12.7-17.4 12.6-14 2.5-4 .7-6-3.4-22-.5-10 .3-8 2.5-16 2.2-8 3.7-10 3.8-8 4.8-8 4.6-6 5.5-5.9 6-4.9 6-3.7 6-2.8z"/>
<path fill="#fdbc6e" d="M664.3 209.2l6.9-1.4 6-.4 8 .2 6 .9 8 2.1 6 2.4 6 3.2 6 4.2 7.5 6.8 12.5 13.9 6 5.7 6 3.6 14 4.8 3 2 3 3.1 3.7 6.9 1.9 8 .2 8-1.5 8-3.6 8-4.7 5.1-5.5 2.9-12.5 2.9-6 3-24 20-14 9.3-8 4.1-8 3.2-8 2.5-13 3-4.5 2-4.5 3.4-12 11.8-6 4.4-6 3.4-6 2.4-6 1.4-4 .3-4-.3-4-1.5-2-1.3-4-4.4-2.4-5.6-.9-8 .9-6 3.2-8 3.9-6 10.8-12 2.3-4 .4-2-.3-4-4.8-18-1.7-14 .1-8 .8-8 3-14 3.6-10 3.8-8 5.3-8.6 6-7.3 6-5.6 6-4.2 8-4z"/>
<path fill="#f99455" d="M668.9 211.2l12.3-.8 12 1.7 12 4.3 10 6.2 9.3 8.6 18.7 21.7 6 4.5 10 4.8 4 3.2 2.6 3.8 1.9 6 .4 6-1 6-1.9 4.6-4 4.8-4 2.4-10 4-4 2.5-22.9 21.7-7.1 5.7-8 5.3-8 4.2-10 3.8-8 2.1-14 2.1-4 1.5-4 2.7-14 13.5-6 3.8-4 1.9-6 1.7-4 .5-4-.2-4-.9-4-2.1-3.5-3.6-1.9-4-.6-6 1.2-6 2.8-6 4.5-6 9.4-10 2.1-3.8 .5-2.2-.4-4-6-18-2.1-14-.2-8 .7-8 1.4-8 2.2-8 3.1-8 4-8 4.8-7.4 6-7 6-5.3 8-5 8-3.4z"/>
<path fill="#f16740" d="M674.2 213.2l11 .2 10 2 10 4.1 10 6.5 9.3 9.2 18.7 24.2 12.9 13.8 1.7 4 .2 4-.5 2-2.3 4-12 11.3-20 22.7-8 7.2-8 5.7-10 5.5-10 3.7-8 1.8-14 1.5-4 1.1-6 4.1-12 12.2-4.4 3.2-5.6 2.8-8 1.9-4-.1-4-1-2.9-1.6-2.2-2-2.3-4-.7-4 .8-6 1.7-4 2.5-4 12.9-14 2-4 .3-2-.5-4-6.8-18-2.5-14-.3-8 .9-10 1.6-8 2.4-8 3.4-8 4.5-8 5.2-6.9 6-6.1 6-4.5 8-4.3 8-2.7z"/>
<path fill="#dd3c2d" d="M665.2 217.2l6-1.2 6-.5 12 1 6 1.5 6 2.3 6 3.1 6 4.2 6 5.4 5.5 6.2 5.9 8 7.7 12 4.4 8 2.4 6 1 6-.6 4-1.3 4-4.3 8-9.5 14-10.5 12-10.7 8.9-10 5.9-10 4-8 2-16 1.3-6 1.6-4 2.6-11 11.7-7 5.5-8 3.2-4 .4-4-.4-4-1.8-2.8-2.9-1.4-4 .4-6 1.7-4 2.6-4 13.1-14 1.1-2 .8-4-.7-4-7.5-18-2.6-12-.6-8 .3-8 2.6-14 2.8-8 3.8-8 3.7-6 4.8-6 5.9-5.7 6-4.3 6-3.2z"/>
<path fill="#be1826" d="M666.9 219.2l6.3-1.1 6-.3 8 .7 6 1.4 6 2.1 6 3 6 4 4.9 4.2 5.6 6 6 8 4.9 8 4 8 2.3 6 1.4 6 0 6-1.2 6-2.4 6-3 6-8 12-9 10-10.1 8-9.4 5.3-10 3.6-10 1.8-14 .6-6 1.7-4.6 3-11.1 12-5.1 4-3.2 1.6-4 1.2-6-.2-4-2.4-1.3-2.2-.6-4 1.1-4 3.8-6 11.3-12 1.7-3.1 .8-2.9-1-6-5.8-12-2.3-6-2.9-12-.5-14 .9-8 1.9-8 2.8-8 4-8 4.1-6.2 5-5.8 5-4.5 6-4.1 6-2.9z"/>
<path fill="#bde2ee" d="M663.7 101.2l13.5-1.1 12.1 1.1 11.9 3.4 6 2.8 6 3.7 7.4 6.1 5.3 6 5.5 8 4 8 .4 2-.4 2-8.2 8.1-3.2 5.9-.1 6 1.3 3 2 2.6 2 1.7 4 1.8 4 .5 6-.6 8-3.1 8-6.1 4-2 6 .6 10 3.4 8 3.8 6 3.8 5.7 4.6 3.6 4 2.7 4.1 2.1 5.9-.1 6-1.4 4-3 4-4.4 4-12.7 10-6.4 4-5 2-5.1 1.2-12 1.1-8-1.3-4-1.9-3.8-3.1-6.4-8-11-18-2.8-2.8-4-2-6-1-10-.5-18 .6-14 2.8-12 4.5-10 5.4-10 8-8 9.5-7 11.5-5.7 12-4.5 12-4.4 16-6 30-2.4 5.9-3.1 4.1-5 4-9.9 5.4-10 3.9-8 2.1-8 .9-6.8-.3-7.2-1.7-6-2.7-6-4.2-5.4-5.4-4.6-6-4.7-8-3.5-8-2.7-8-2.4-10-1.4-10-.4-18 .9-10 1.7-10 1.9-8 3.8-12 4.2-10 5.1-10 10.6-16 9-10 5.9-3.5 16-3.1 8-3.6 7-5.8 9-12.6 4-3.5 6-2.9 22-7.7 26-10.3 10-3.1zM799 235.2l2.2-.2 4 .7 4 2 2 1.6 3 3.9 2.1 6-.1 6-2.4 6-4.6 4.7-4 1.5-2 .2-4-.8-4-2.6-3.7-5-2-6-.2-6 1.9-6.5 2-2.6 2-1.6zM790.1 321.2l5.1-.3 4 .8 6 3.5 3.5 4 2.3 4 1.5 4 .9 6 0 4-1.2 6-2.4 6-2.3 4-7.2 8-9.1 6.3-10 4.7-14 4.2-14 2.1-14 .3-12-1.4-12-3.4-8.6-4.8-3.4-3.2-2-2.8-1.5-4 .2-4 1.6-4 2.9-4 6.2-6 7.4-6 15.2-10.6 6-2.8 4-1.2 22-2.6z"/>
<path fill="#99cae1" d="M589 161.2l10.2-.8 18 1.6 8 .1 28-2.6 10 0 6 1.2 4 2.5 1.2 2 .1 4-1.8 4-5.2 6-7.5 6-20.8 14.7-6 5.6-5.9 7.7-5.5 10-7.1 16-6.7 18-8.8 27.7-2 4.4-4 5.8-6 4.8-8 3.6-10 1.9-8-.5-8-2.8-4-2.4-4-3.3-6.1-7.2-5.3-10-3.7-12-1.6-12 0-12 1.8-14 3.1-12 4.8-12 6.8-12 7.7-10 8.5-8.4 8-5.8 10-5zM800.3 249.2l.9-.5 2 0 2 1.6 .6 2.9-.9 2-1.7 1-2-.1-1.3-.9-1.1-2 0-2zM768.9 335.2l10.3-.4 6 1 3.4 1.4 2.6 2 2.5 4 .5 6-2.1 6-4.9 6.5-8 6.2-8 4.2-10 3.5-10 2.1-8 .6-10-.7-8-2-6-3-4-4-1.5-3.4-.2-2 .3-2 1.5-4 2.9-4 3.9-4 9.1-6.8 6-3.1 7.5-2.1z"/>
<path fill="#74add1" d="M621 173.2l16.2-1.4 8 .6 2.5 .8 2.2 2 .4 2-.5 2-4.5 6-17.8 16-6.2 8-2.8 6-17.3 48.8-4 8.9-4 6.3-3.8 4-2.7 2-5.5 2.8-4 1.1-6 .6-4-.3-4-1.1-4-1.8-6.6-5.3-5.5-8-3.8-10-1.8-10-.1-12 1.7-12 3.3-12 4.5-10 5.2-8 7-8 6.1-5.1 8-4.9 6-2.4 8-2.1zM749.1 345.2l12.1-.2 4 .7 4.6 1.5 2.3 2 .9 2 0 2-1.8 3.7-2 2.3-5.8 4-4.2 1.9-10 2.5-6 .2-5-.6-5-1.9-2-1.7-1.6-2.4-.3-2 .3-2 2.3-4 3.3-3 4-2.3 4-1.5z"/>
<path fill="#5588be" d="M605.7 183.2l11.5-1.3 8 .2 3.2 1.1 1.1 2-.5 2-2.7 4-10.7 12-3.8 6-2.2 6-2.9 16-3.5 12.2-4 10.3-6 10.9-6 6.4-6 3.3-4 1.1-4 .3-6-1.4-5.1-3.1-3.7-4-3.4-6-2.3-8-.9-8 .6-10 2.1-10 2.7-8 4-8 4-5.8 4-4.4 6-5 6-3.6 7.6-3.2 8.4-2.4z"/>
<path fill="#3e60aa" d="M596.4 195.2l6.4 0 1.8 2-1 4-3.7 8-1.3 4-.8 6-.6 13.8-2 8.6-4 8.6-2.1 3-3.9 3.8-6 3-4 .2-2-.4-4-2.3-2-2.1-2-3.4-1.5-4.8-.7-6 .4-6 3.1-12 4.8-10 6.2-8 8-6 5.7-2.6z"/>
<path fill="none" stroke="#000" stroke-width="3.2" stroke-linecap="round" stroke-dasharray="0 7.69" d="M699.6 86.2h15.38M703.5 90.1h7.69M730.4 93.9h15.38M734.2 97.8h23.07M730.4 101.6h30.76M734.2 105.5h38.45M738.1 109.3h38.45M741.9 113.2h38.45M745.8 117.0h46.14M741.9 120.9h53.83M745.8 124.7h53.83M749.6 128.5h53.83M753.4 132.4h53.83M703.5 136.2h0.01M757.3 136.2h53.83M699.6 140.1h7.69M761.1 140.1h53.83M695.8 143.9h15.38M765.0 143.9h53.83M691.9 147.8h23.07M768.8 147.8h53.83M695.8 151.6h15.38M772.7 151.6h53.83M691.9 155.5h23.07M776.5 155.5h53.83M695.8 159.3h15.38M780.4 159.3h53.83M630.4 163.1h30.76M691.9 163.1h23.07M791.9 163.1h46.14M618.9 167.0h46.14M695.8 167.0h15.38M795.7 167.0h46.14M615.0 170.8h53.83M699.6 170.8h7.69M799.6 170.8h46.14M611.2 174.7h53.83M695.8 174.7h15.38M803.4 174.7h38.45M599.6 178.5h69.21M807.3 178.5h38.45M565.0 182.4h99.97M818.8 182.4h30.76M561.2 186.2h99.97M822.7 186.2h30.76M557.4 190.1h99.97M826.5 190.1h23.07M553.5 193.9h92.28M830.3 193.9h23.07M549.7 197.8h92.28M841.9 197.8h15.38M545.8 201.6h84.59M853.4 201.6h7.69M542.0 205.4h69.21M857.3 205.4h0.01M538.1 209.3h61.52M542.0 213.1h53.83M538.1 217.0h61.52M668.9 217.0h15.38M534.3 220.8h69.21M657.3 220.8h38.45M538.1 224.7h61.52M653.5 224.7h53.83M534.3 228.5h69.21M641.9 228.5h69.21M538.1 232.4h61.52M638.1 232.4h76.90M534.3 236.2h69.21M634.2 236.2h84.59M538.1 240.0h61.52M630.4 240.0h92.28M534.3 243.9h69.21M626.6 243.9h99.97M538.1 247.7h61.52M630.4 247.7h99.97M534.3 251.6h61.52M626.6 251.6h107.66M538.1 255.4h61.52M622.7 255.4h107.66M534.3 259.3h61.52M618.9 259.3h115.35M538.1 263.1h53.83M622.7 263.1h115.35M542.0 267.0h46.14M618.9 267.0h115.35M538.1 270.8h53.83M622.7 270.8h115.35M542.0 274.7h46.14M618.9 274.7h115.35M545.8 278.5h38.45M622.7 278.5h115.35M549.7 282.3h30.76M618.9 282.3h115.35M553.5 286.2h23.07M622.7 286.2h115.35M618.9 290.0h115.35M622.7 293.9h107.66M626.6 297.7h107.66M622.7 301.6h107.66M626.6 305.4h99.97M630.4 309.3h92.28M634.2 313.1h92.28M638.1 316.9h84.59M641.9 320.8h76.90M645.8 324.6h61.52M649.6 328.5h53.83M661.2 332.3h30.76M634.2 336.2h15.38M622.7 340.0h30.76M738.1 340.0h15.38M618.9 343.9h30.76M726.5 343.9h38.45M615.0 347.7h38.45M715.0 347.7h53.83M611.2 351.6h38.45M711.1 351.6h61.52M607.3 355.4h46.14M707.3 355.4h69.21M611.2 359.2h38.45M711.1 359.2h61.52M607.3 363.1h38.45M707.3 363.1h69.21M603.5 366.9h38.45M703.5 366.9h69.21M607.3 370.8h30.76M707.3 370.8h61.52M611.2 374.6h23.07M711.1 374.6h53.83M615.0 378.5h7.69M715.0 378.5h46.14M807.3 378.5h7.69M718.8 382.3h30.76M803.4 382.3h15.38M799.6 386.2h23.07M795.7 390.0h23.07M791.9 393.8h23.07M788.0 397.7h30.76M791.9 401.5h23.07M788.0 405.4h23.07M784.2 409.2h30.76M780.4 413.1h30.76M784.2 416.9h23.07M780.4 420.8h23.07M776.5 424.6h23.07M780.4 428.5h7.69M776.5 432.3h7.69M780.4 436.1h0.01"/>
<g fill="none" stroke="#000" stroke-width="1.35" stroke-dasharray="2.1 2.1"><circle cx="687.3" cy="273.3" r="23.8"/><circle cx="687.3" cy="273.3" r="47.9"/><circle cx="687.3" cy="273.3" r="72.7"/><circle cx="687.3" cy="273.3" r="98.8"/><circle cx="687.3" cy="273.3" r="126.6"/><circle cx="687.3" cy="273.3" r="156.7"/><path d="M497.2 273.3L877.4 273.3"/><path d="M522.7 178.3L851.9 368.4"/><path d="M592.2 108.7L782.3 437.9"/><path d="M687.3 83.2L687.3 463.4"/><path d="M782.3 108.7L592.2 437.9"/><path d="M851.9 178.3L522.7 368.4"/></g>
<path fill="none" stroke="#000" stroke-width="1.4" stroke-linejoin="round" d="M738.6 88.4 737.3 95.3 738.1 101.7 740.7 108.8 743.2 115.5 744.7 119.9 747.7 125.2 747.3 131.9 750.7 136.1 752.1 132.3 751.1 126.6 750.3 121.1 748.9 115.2 748.1 108.9 747.2 104.2 749.1 106.4 752.3 112.3 751.4 116.2 754.7 121.9 756.5 124.9 753.8 126.1 755.3 132.1 755.2 138.3 755.1 141.4 756.2 146.4 760.0 150.4 759.5 157.4 758.8 161.1 758.5 166.9 758.0 169.7 755.1 173.2 754.2 176.0 748.3 182.8 746.0 188.5 743.6 186.6 744.3 183.8 742.3 188.0 743.3 191.9 745.2 196.5 744.0 200.7 743.2 206.7 743.2 210.2 741.8 215.9 742.4 220.1 742.3 223.8 743.4 226.2 746.2 230.5 745.9 233.8 748.7 235.7 751.8 236.0 753.2 238.0 749.2 239.0 747.4 237.9 750.4 239.7 754.0 240.0 757.1 240.0 761.0 241.2 764.5 242.9 767.7 245.6 769.9 248.8 766.7 247.5 764.1 245.4 760.0 243.9 757.3 244.3 758.5 246.0 759.6 249.5 757.0 250.7 756.2 254.2 754.1 256.0 752.5 257.0 750.2 256.2 747.9 253.0 745.4 253.3 746.0 255.3 746.7 258.8 744.7 261.1 742.6 259.5 742.5 257.2 741.4 255.5 740.3 257.6 737.9 261.2 736.4 261.1 733.8 259.1 730.9 257.4 728.3 255.5 727.8 251.7 727.1 248.4 725.3 244.6 724.2 241.3 723.5 238.3 721.2 238.2 717.9 236.8 716.0 236.5 715.5 233.1 712.2 231.8 710.1 228.5 708.5 225.8 709.8 225.0 705.4 223.5 704.1 221.5 703.2 224.3 700.6 223.5 698.4 221.2 695.2 220.6 693.6 222.1 693.0 219.1 691.3 221.9 692.4 224.5 691.2 229.3 689.6 229.1 689.0 225.5 688.2 223.5 687.3 221.8 685.5 221.3 683.5 219.4 683.4 223.1 680.5 224.7 679.7 222.3 679.6 218.6 682.3 216.6 684.2 213.9 685.7 210.6 688.4 209.4 690.8 205.7 692.9 202.0 693.5 197.8 690.8 193.0 687.3 192.9 683.7 190.4 679.9 188.8 675.9 188.7 674.7 183.3 672.7 181.0 670.0 180.1 669.4 182.9 671.2 186.6 671.0 189.3 668.6 192.4 668.8 196.4 672.2 199.0 671.6 202.3 673.4 207.8 668.8 209.0 666.0 207.7 663.3 207.3 660.9 202.8 658.4 201.8 656.7 204.5 656.3 208.3 652.5 205.1 648.3 201.5 645.1 200.3 641.2 199.6 638.5 198.2 635.5 197.1 635.0 194.2 637.1 191.3 638.3 188.4 642.8 186.0 648.1 183.2 650.7 178.0 652.5 172.2 650.3 174.4 647.6 179.9 643.6 181.7 642.4 179.2 643.5 177.2 641.2 175.3 638.4 175.1 634.6 176.2 632.7 178.8 633.2 175.7 636.6 171.7 639.0 167.4 641.1 168.6 639.5 173.0 641.8 171.1 643.4 168.9 646.0 165.7 647.9 163.8 648.0 160.5 645.8 159.2 648.4 157.1 652.6 153.9 652.7 150.9 653.6 147.7 654.2 143.6 654.4 141.4 652.4 137.3 654.6 134.9 657.2 131.8 659.9 128.5 663.2 124.7 664.1 119.9 660.9 113.9 658.3 108.8 658.3 103.8 660.9 103.0 663.2 106.0 666.4 110.5 667.3 114.6 670.9 117.4 674.9 116.1 679.2 118.0 684.6 117.2 685.9 114.0 690.1 114.0 696.9 115.9 701.2 114.6 707.3 110.7 708.9 105.0 710.9 98.6 712.0 92.9 711.1 87.5 708.4 82.6M689.6 81.4 688.6 86.7 682.5 88.5 677.6 88.7 676.8 85.3 678.9 81.6M671.0 90.6 666.0 94.5 659.2 96.2 652.6 94.9 646.4 93.4 640.6 91.6 635.7 91.1 637.4 89.5 646.7 86.9 645.7 90.0 650.4 92.2 657.1 92.7 662.0 93.3 665.0 91.5 668.1 90.5 671.0 90.6M633.5 182.8 634.0 186.9 634.6 191.3 633.9 195.3 632.5 192.7 632.8 190.9 630.6 190.8 627.8 192.0 625.1 190.7 623.0 188.9 622.9 186.9 625.2 187.2 626.3 185.2 628.7 185.8 633.5 182.8M744.1 187.2 746.4 190.4 747.4 197.2 745.3 196.3 744.1 192.8 744.1 187.2M659.8 211.5 663.5 211.3 667.5 212.5 672.3 213.2 674.6 213.5 674.4 215.3 670.7 215.4 670.8 219.3 671.7 222.4 675.1 224.5 678.2 226.3 680.6 225.9 684.0 226.0 686.9 227.9 687.3 233.2 684.6 234.8 681.1 234.4 678.1 233.3 675.2 231.0 671.8 229.6 668.9 227.8 666.5 225.4 663.0 224.5 660.4 223.7 660.4 219.4 659.8 215.6 659.8 211.5M681.6 241.2 684.5 241.3 686.8 242.4 685.9 246.0 688.1 250.8 687.7 253.1 685.7 255.6 683.0 257.3 680.1 257.8 678.4 256.5 678.3 253.9 679.2 251.0 679.7 248.3 680.4 245.6 680.9 243.0 681.6 241.2M681.3 239.3 684.3 239.4 687.9 237.6 688.4 241.2 686.7 240.7 683.9 240.9 681.3 239.3M700.3 224.7 704.8 225.3 708.4 228.1 709.0 230.6 708.3 233.8 706.3 236.1 703.2 236.0 699.8 234.7 698.1 232.9 697.5 229.0 696.5 225.8 700.3 224.7M711.8 235.6 712.3 238.3 708.6 241.7 705.9 241.1 704.8 237.5 707.1 236.0 709.4 235.0 711.8 235.6M684.0 210.0 680.5 209.0 677.5 211.4 680.1 214.8 683.2 214.7 684.0 210.0M703.3 241.9 699.7 239.3 696.8 240.1 697.2 242.7 700.0 243.3 703.3 241.9M691.4 230.5 687.7 231.5 687.3 234.9 690.6 235.3 691.4 230.5M696.5 230.1 692.6 230.1 692.1 234.2 694.7 235.4 696.5 230.1M686.2 247.9 688.6 247.9 689.7 250.9 688.0 252.4 686.2 247.9M634.6 222.4 640.3 221.1 646.6 224.0 650.2 225.9 654.4 228.9 657.0 233.1 656.4 235.1 660.2 235.3 663.3 239.1 667.2 242.3 669.9 244.3 672.9 243.8 674.8 242.4 677.0 244.9 678.6 246.6 677.5 249.1 677.5 252.2 677.2 255.8 675.6 259.3 675.3 263.2 673.9 265.6 670.8 266.6 668.3 266.4 667.6 269.1 664.6 266.4 661.5 264.4 656.9 262.8 653.9 260.5 650.3 259.8 648.8 257.0 644.0 255.8 642.8 252.6 641.4 249.9 642.1 246.1 640.5 241.7 640.6 238.1 641.2 234.6 638.1 230.5 636.5 226.7 634.6 222.4M628.9 249.1 631.9 248.6 632.0 250.9 634.1 249.6 634.9 251.6 632.6 253.4 632.9 255.6 633.0 257.7 630.2 258.5 628.3 258.9 627.2 257.2 626.3 253.5 627.4 250.9 628.9 249.1M661.1 278.2 658.8 279.9 657.0 282.3 659.1 282.7 661.2 283.6 662.8 282.5 664.9 284.2 666.3 284.0 666.4 281.8 664.6 280.2 663.3 278.0 661.1 278.2M659.8 307.9 661.7 306.4 663.9 304.9 666.4 303.2 668.5 302.3 670.8 302.0 673.2 302.2 675.7 302.0 675.9 303.1 673.6 304.0 670.6 304.6 668.6 305.7 666.2 307.1 664.0 308.5 662.9 311.6 662.0 312.2 660.2 310.6 659.8 307.9M690.0 299.3 691.5 297.2 693.5 298.0 694.5 300.2 692.3 301.4 690.0 299.3M712.6 296.9 713.6 293.8 717.0 291.9 717.3 293.6 715.0 296.6 712.6 296.9M732.7 274.3 731.5 273.3 732.0 271.4 732.9 271.7 732.7 274.3M671.9 289.8 673.0 291.6 675.3 292.4 677.3 292.2 676.3 290.2 673.6 289.7 671.9 289.8M549.6 259.8 552.2 258.1 553.7 255.9 553.6 252.4 557.9 253.3 558.7 251.8 562.8 253.8 567.3 254.9 570.8 254.2 572.3 257.1 571.5 262.1 570.6 266.2 570.4 269.6 573.5 270.9 577.1 271.2 580.4 269.2 582.8 265.4 584.5 264.7 585.4 268.0 584.8 270.4 587.7 270.0 586.9 271.2 587.1 273.6 589.1 276.0 590.9 276.0 591.5 277.5 592.4 279.3 594.6 280.1 596.8 280.9 598.0 282.7 598.2 284.2 599.0 286.0 600.1 286.8 602.7 286.1 604.1 285.1 607.2 284.8 608.5 286.5 610.0 287.8 606.9 288.1 606.6 288.8 604.3 287.9 602.9 287.6 601.7 288.4 600.7 290.1 602.2 292.2 602.1 294.1 601.6 295.2 604.0 298.0 605.5 300.3 604.8 301.4 605.3 302.8 607.9 303.8 611.8 302.4 613.7 302.4 614.7 303.5 613.4 305.1 614.5 306.2 617.1 305.1 617.6 303.6 618.7 303.1 620.2 304.6 621.9 308.0 624.2 310.0 624.5 307.4 622.8 304.7 620.1 301.8 620.8 299.5 623.8 298.1 626.6 297.0 631.2 298.3 633.1 298.9 634.2 297.2 632.9 295.3 630.1 295.6 627.2 295.2 624.1 293.8 621.5 293.8 619.3 294.4 618.3 296.4 616.7 297.3 614.8 296.2 612.2 295.7 609.2 296.3 607.7 295.8 607.2 294.2 605.3 294.0 604.9 292.3 607.1 291.4 610.1 289.4 613.2 288.0 615.3 286.8 613.1 286.1 610.8 284.3 610.0 282.8 611.9 280.7 614.8 279.8 618.6 279.3 620.4 279.7 622.4 281.3 624.1 282.7 625.6 284.2 628.0 285.1 631.0 285.8 633.5 286.0 635.8 286.9 638.0 287.4 640.0 288.2 641.6 289.0 642.8 290.4 645.0 291.7 646.6 292.9 647.2 294.6 647.1 296.5 646.7 297.7 645.2 297.6 645.9 300.2 647.0 302.6 646.9 306.0 646.5 308.7 645.1 310.0 642.6 309.5 641.0 305.7 640.4 303.8 639.3 306.3 636.9 308.4 637.0 311.2 638.9 311.1 640.4 312.6 642.1 311.9 644.6 311.0 645.8 312.7 647.6 311.7 649.9 309.4 651.0 310.9 649.3 313.4 651.3 313.2 653.5 313.5 656.3 314.5 656.6 315.6 659.4 316.3 661.3 317.5 663.3 316.7 663.6 315.2 665.6 317.9 667.4 320.1 668.2 321.7 669.3 320.3 668.3 318.0 669.5 315.1 671.8 312.6 673.5 311.2 675.0 312.5 674.2 315.5 673.1 317.7 672.1 321.8 669.8 327.0 671.5 326.7 673.1 322.8 674.7 318.7 674.9 315.0 676.5 313.7 678.1 314.8 677.9 317.7 679.7 316.1 681.1 312.2 684.6 311.8 685.4 309.0 688.5 307.1 691.9 305.8 694.4 301.7 696.5 303.3 699.6 303.8 701.3 305.4 700.3 309.2 702.5 309.1 706.1 308.7 709.1 306.9 710.6 304.7 713.1 305.2 715.4 308.0 716.7 306.0 718.6 304.6 720.7 302.3 719.3 300.2 722.1 296.8 725.4 295.3 728.0 294.0 730.2 289.8 733.3 289.6 734.5 285.9 734.1 283.3 734.3 281.2 736.9 281.6 735.4 278.4 736.6 275.0 739.3 270.6 742.1 266.6 743.9 263.3 748.4 264.7 748.4 266.9 746.4 269.2 746.0 272.3 748.2 274.4 749.2 275.5 753.7 276.2 755.1 280.4 759.0 285.3 757.7 289.6 757.6 292.8 759.9 295.1 762.0 296.9 766.3 297.1 768.6 300.0 772.2 304.2 772.3 306.8 775.6 311.3 770.3 310.2 765.3 308.7 761.1 306.6 759.4 303.9 757.6 300.3 755.1 296.7 753.4 292.9 751.2 291.6 751.6 296.7 750.8 300.2 754.4 304.6 753.8 308.6 750.5 311.3 748.5 315.4 746.6 318.8 747.3 323.7 748.5 329.4 748.7 334.1 752.9 332.3 754.9 330.0 757.6 329.6 760.5 333.6 763.3 336.4 767.1 339.1 768.4 345.1 769.3 351.1 770.0 356.0 768.2 360.0 765.4 360.7 765.6 364.3 765.8 367.8 766.9 369.9 765.1 373.9 765.8 375.6 769.2 376.2 773.2 377.9 775.9 381.1 775.3 383.9 772.4 388.4 770.3 385.8 768.5 382.3 766.6 380.5 763.3 381.8 761.5 378.0 758.8 378.1 755.8 382.9 754.7 384.6 753.6 379.4 751.2 379.6 749.8 386.1 747.5 388.0 751.4 389.9 753.0 390.9 755.4 387.5 759.7 387.0 757.8 390.6 756.4 395.5 757.1 397.6 760.1 397.9 763.5 400.6 767.3 401.9 768.6 404.0 766.4 407.5 770.7 406.8 771.9 410.9 771.4 416.1 771.4 421.4 770.7 426.3 768.8 431.2 766.2 435.1 762.0 438.6 760.0 440.6 755.7 444.3 752.0 447.2 753.5 450.4 751.6 451.1 749.7 447.7 745.7 447.9 743.0 449.9 741.2 453.0 741.1 454.9 739.4 458.7M698.4 465.2 696.9 463.2 693.8 459.1 693.0 455.3 688.9 455.4 684.1 457.1 679.2 458.0 677.5 460.7 675.7 463.8M630.5 456.9 632.0 450.8 632.4 447.3 630.3 451.0 626.3 450.4 623.5 448.6 622.0 443.3 626.3 442.7 622.6 440.2 621.0 437.4 620.0 434.1 619.2 431.5 613.3 428.5 605.4 424.9 598.9 420.4 595.3 416.6 596.2 412.5 590.6 410.3 587.2 406.2 585.5 401.2 586.2 396.0 585.9 392.0 583.4 390.7 581.4 391.0 579.8 394.8 579.9 399.1 579.8 402.4 578.0 407.3 581.0 405.5 579.9 408.8 578.7 411.3 584.1 415.4 589.4 414.7 593.3 413.7 591.6 417.4 591.3 420.0 594.5 424.8 596.0 430.1 592.7 432.5 588.7 434.2 584.3 435.6M542.0 399.2 544.1 390.1 547.5 384.5 548.4 379.1 550.9 374.2 554.0 367.3 557.3 363.7 552.7 365.5 551.8 365.4 553.1 361.5 555.0 357.9 552.7 359.7 550.7 363.7 548.0 367.2 544.8 373.1 542.2 377.6 540.9 383.3 538.7 386.1 534.4 389.8M558.3 354.9 557.0 351.6 552.7 347.9 550.0 337.9 550.5 331.4 549.9 327.4 545.9 324.8 542.4 326.0 539.6 322.7 540.6 314.5 543.1 311.9 543.1 305.3 544.1 301.1 545.2 298.9 550.0 300.0 553.6 298.1 554.4 299.1 554.8 296.2 553.1 291.0 551.9 285.1 551.5 280.4 548.4 273.3 546.4 268.4 547.0 262.3 549.3 260.3 548.8 258.7 544.0 256.2 542.4 251.6 537.4 247.7 532.8 246.6 529.2 241.7 527.4 236.4 524.0 231.1 517.8 224.7 510.5 219.3 508.2 218.4 502.9 219.0M549.6 259.8 551.5 262.8 551.4 268.1 553.7 271.7 557.2 273.8 559.3 272.6 563.0 275.0 564.8 278.0 567.2 280.0 570.0 279.4 570.9 281.4 570.6 284.1 570.6 287.0 572.5 288.4 574.5 290.8 573.6 293.8 571.0 294.9 569.3 298.0 567.7 300.0 566.7 303.4 565.4 307.3 562.4 308.4 560.0 309.8 559.5 309.2 561.5 310.8 563.6 311.6 565.1 309.7 567.6 309.9 567.2 313.3 568.1 313.2 569.0 309.5 569.7 307.0 570.8 306.7 570.5 304.6 572.2 302.0 574.2 300.7 575.3 297.9 578.2 297.1 579.9 299.5 578.0 299.7 579.1 300.9 577.3 302.8 575.2 305.5 574.4 308.9 573.7 311.3 572.8 313.6 568.8 315.3 565.9 319.2 562.6 322.2 560.8 325.4 561.8 327.1 564.3 325.5 565.8 327.4 567.6 324.9 569.2 322.7 571.6 321.7 571.4 324.2 572.7 325.0 574.4 324.5 575.6 327.8 574.5 328.8 572.4 331.1 569.7 331.7 567.5 335.1 567.2 337.7 567.4 340.6 570.3 342.5 570.5 346.3 573.4 350.2 576.3 352.8 575.5 354.8 573.3 355.8 571.2 357.0 566.9 357.9 563.3 359.1 561.0 359.1 559.6 358.1 558.3 354.9M579.6 333.0 580.6 330.0 582.0 328.6 585.4 328.9 588.2 327.6 590.3 328.6 594.3 328.8 595.7 330.6 595.8 333.8 593.5 333.3 592.6 336.0 595.5 338.3 597.6 339.7 597.4 336.2 601.2 337.7 603.8 339.7 604.8 340.5 601.3 340.5 598.6 341.1 598.0 344.3 597.6 347.8 597.8 352.5 596.1 354.3 592.5 352.8 589.8 349.5 588.4 345.2 588.3 342.6 586.5 340.0 582.5 337.5 579.6 333.0M616.2 355.0 620.0 356.4 622.6 359.1 620.1 362.4 617.0 361.1 614.9 361.1 613.9 363.9 615.1 367.4 613.4 370.7 614.6 373.4 611.1 374.4 610.5 378.3 608.4 381.9 603.6 380.4 601.6 376.5 599.7 374.1 602.0 371.1 606.0 368.5 607.0 369.7 607.4 365.9 607.4 362.1 608.5 359.3 609.8 356.4 612.4 355.0 616.2 355.0M627.1 371.6 629.9 374.8 633.6 372.1 634.8 368.0 632.0 367.1 628.8 368.7 627.1 371.6M710.1 364.8 712.7 361.9 715.5 357.5 715.7 352.1 715.2 354.2 713.6 359.4 710.1 364.8M655.4 381.1 659.4 377.4 665.7 379.4 660.9 379.2 657.6 380.3 655.4 381.1M589.2 263.5 589.5 267.3 590.4 270.8 591.7 275.5 595.7 276.0 596.5 273.8 598.0 273.3 601.2 271.3 603.8 270.4 604.4 269.0 608.2 270.5 608.8 268.5 611.1 269.0 611.3 266.6 608.6 265.3 606.0 264.8 603.4 265.2 601.5 266.1 601.6 268.4 598.7 268.7 597.4 268.3 597.3 266.2 595.4 266.4 593.7 264.8 592.4 268.0 591.5 265.8 589.2 263.5M594.9 263.6 598.3 263.6 601.1 264.8 602.8 263.7 603.1 261.2 600.9 258.1 598.3 257.9 595.3 256.6 593.8 257.7 594.6 261.1 594.9 263.6M565.8 293.2 570.3 293.1 568.6 291.2 566.4 292.0 565.8 293.2M559.1 291.8 560.2 294.8 564.8 294.2 565.7 293.0 564.3 291.2 559.1 291.8M558.0 302.0 560.3 308.5 556.1 308.9 556.9 302.2 558.0 302.0M558.9 329.4 561.0 335.4 558.7 331.9 558.9 329.4M568.0 349.0 572.3 352.3 569.1 352.4 568.0 349.0M776.4 421.6 778.7 420.1 779.4 423.6 781.3 430.4 777.4 428.8 776.3 424.3 776.4 421.6M773.7 340.8 773.7 337.2 770.2 336.5 769.9 332.2 764.3 330.9 760.1 327.6 756.8 326.3 757.8 328.4 760.8 331.1 765.2 334.1 769.4 337.5 772.3 340.0 773.7 340.8M785.8 389.9 787.5 388.1 786.0 383.6 782.2 382.5 784.2 379.1 788.1 374.1 791.7 375.2 791.8 371.1 794.3 367.0 795.3 364.0 795.3 361.1 791.3 357.6 788.9 353.6 785.3 351.2 783.0 349.9 782.1 352.0 784.1 354.8 787.2 358.0 787.2 363.3 785.2 364.6 786.5 366.7 787.5 370.0 782.7 375.6 781.2 381.3 781.1 385.0 781.9 387.2 785.8 389.9M781.3 351.6 781.9 349.4 784.1 345.7 783.9 339.7 781.2 339.1 778.7 342.1 774.8 342.2 779.2 346.1 777.7 348.3 779.5 350.6 781.3 351.6M750.8 263.8 750.8 261.0 749.9 262.8 750.8 263.8M759.4 238.9 757.4 236.5 755.7 237.7 757.7 238.9 759.4 238.9M748.6 202.7 747.5 208.8 746.0 207.4 748.6 202.7M691.1 165.6 685.5 169.1 681.1 171.2 677.0 166.8 677.9 165.4 681.6 165.1 687.3 165.3 691.1 165.6M682.6 151.7 679.5 152.7 679.9 158.3 677.7 163.5 680.6 163.0 682.9 159.5 682.6 151.7M676.8 164.1 671.1 164.8 667.7 162.0 670.3 157.0 671.9 156.3 674.3 158.8 674.6 162.1 676.8 164.1M673.1 152.4 664.7 156.9 664.9 156.0 670.3 152.2 673.1 152.4M666.3 158.0 660.0 161.3 659.7 160.0 664.9 158.0 666.3 158.0M719.8 223.2 715.9 221.7 713.8 223.4 715.7 226.0 718.7 224.9 719.8 223.2M719.2 210.7 715.7 209.6 710.9 211.7 713.5 211.7 717.2 212.0 719.2 210.7M701.7 176.9 699.2 176.6 699.0 184.5 701.5 183.6 701.7 176.9M772.5 250.5 774.1 252.5M775.4 254.6 777.0 255.9M779.7 263.6 781.1 267.6M777.7 284.4 777.3 285.5M858.7 209.9 858.9 208.4M858.9 204.7 859.0 202.9M858.9 199.1 858.7 197.0"/>
</g>
<circle cx="687.3" cy="273.3" r="190.1" fill="none" stroke="#000" stroke-width="1.5"/>
<text x="687.3" y="81.3" text-anchor="middle">90W</text><text x="687.1" y="476.6" text-anchor="middle">90E</text><text x="571.5" y="108.2" text-anchor="middle">60W</text><text x="806.5" y="108.2" text-anchor="middle">120W</text><text x="499.0" y="180.2" text-anchor="middle">30W</text><text x="879.3" y="180.2" text-anchor="middle">150W</text><text x="486.0" y="279.3" text-anchor="middle">0</text><text x="898.0" y="279.3" text-anchor="middle">180</text><text x="501.8" y="377.8" text-anchor="middle">30E</text><text x="876.6" y="377.8" text-anchor="middle">150E</text><text x="574.0" y="450.3" text-anchor="middle">60E</text><text x="804.5" y="450.3" text-anchor="middle">120E</text>
<text transform="translate(495.3 54.3) scale(.935 1)" font-size="35.5">(b)</text>
<g stroke="#000" stroke-width="1.1"><rect x="915.3" y="403.14" width="11.4" height="21.66" fill="#313695"/><rect x="915.3" y="381.49" width="11.4" height="21.66" fill="#3e60aa"/><rect x="915.3" y="359.83" width="11.4" height="21.66" fill="#5588be"/><rect x="915.3" y="338.17" width="11.4" height="21.66" fill="#74add1"/><rect x="915.3" y="316.51" width="11.4" height="21.66" fill="#99cae1"/><rect x="915.3" y="294.86" width="11.4" height="21.66" fill="#bde2ee"/><rect x="915.3" y="273.20" width="11.4" height="21.66" fill="#e0f3f8"/><rect x="915.3" y="251.54" width="11.4" height="21.66" fill="#f0eac4"/><rect x="915.3" y="229.89" width="11.4" height="21.66" fill="#fedd8c"/><rect x="915.3" y="208.23" width="11.4" height="21.66" fill="#fdbc6e"/><rect x="915.3" y="186.57" width="11.4" height="21.66" fill="#f99455"/><rect x="915.3" y="164.91" width="11.4" height="21.66" fill="#f16740"/><rect x="915.3" y="143.26" width="11.4" height="21.66" fill="#dd3c2d"/><rect x="915.3" y="121.60" width="11.4" height="21.66" fill="#be1826"/></g><g font-size="12.3"><text x="940.3" y="407.1" text-anchor="middle">-1.2</text><text x="940.3" y="385.5" text-anchor="middle">-1</text><text x="940.3" y="363.8" text-anchor="middle">-0.8</text><text x="940.3" y="342.2" text-anchor="middle">-0.6</text><text x="940.3" y="320.5" text-anchor="middle">-0.4</text><text x="940.3" y="298.9" text-anchor="middle">-0.2</text><text x="940.3" y="277.2" text-anchor="middle">0</text><text x="940.3" y="255.5" text-anchor="middle">0.2</text><text x="940.3" y="233.9" text-anchor="middle">0.4</text><text x="940.3" y="212.2" text-anchor="middle">0.6</text><text x="940.3" y="190.6" text-anchor="middle">0.8</text><text x="940.3" y="168.9" text-anchor="middle">1</text><text x="940.3" y="147.3" text-anchor="middle">1.2</text></g>
<g clip-path="url(#c2)">
<circle cx="1167.3" cy="273.3" r="191.1" fill="#e0f3f8"/>
<path fill="#f0eac4" d="M1113.4 109.2l5.8-1.1 6 .3 6 1.9 6 3.8 8 8.3 16 22.4 5.5 6.4 12.5 11 12 8.5 4 1 2-.3 9.1-6.2 8.9-5 6.8-3 7.2-1.9 8-.8 20-.1 16 1.1 8.2 1.7 7.8 2.8 5.6 3.2 4.7 4 2.8 4 2.1 6 .7 6-.3 6-1.2 6-2.4 4.4-4 2.5-4.4 1.1-17.6 1.6-8-.1-6-1.6-14-7-8-1.7-6 .3-6 1.5-4 1.7-4.7 3.3-1.6 2-1.2 4 .9 6 2.2 6 7 12 15.6 20 4.5 8 4 10 1.8 8 .3 6-1.2 6-3.2 6-5.8 6-10.6 7-64.4 31-10.8 6-10.7 8-18.1 16.1-10 6.9-8 3.6-10 2.5-10 .8-10-.5-12-2.4-10-3.6-10.2-5.4-8.2-6-9.8-10-13.8-18.7-16.1-19.3-4.1-6-4.5-8-3.4-8-2.5-8-1.6-8-.8-8-.2-8 .8-10 1.7-10 2.7-10.4 3.6-9.6 4.4-8.5 4-5.6 6-5.1 4-1.3 4 .9 2 1.8 2 3.4 2 6.3 5 36.1 2.6 14 4.6 18 4.9 12 4.9 6.2 4 2.3 4 .7 4-.4 6-2.1 4-2.5 4-3.5 5.1-6.7 4.9-9 19.1-43 3.1-8 2.3-8 6.4-40 .5-10-.7-4-1.5-4-7.9-14-2.6-6-1.5-6-.1-6 .8-4 1.5-4 4.2-6 6.4-5.2zM1330.2 249.2l3-1.2 2-.2 4 1 4 2.5 4 4.3 4 6.7 3.9 8.9 3.3 10 2.8 11.2 0 124-5.4 16.8-3.6 8-4.3 8-7.3 10-3.9 4-5.2 4-122.1 0-8.9-4-5.3-4-2.1-4 0-2 .8-2 3.8-4 5.5-3 6-2.4 29.1-8.6 6.9-3 5.3-3 10.7-8.1 15.2-13.9 9.1-10 5.6-8 3.2-6 2.3-6 1.3-6 .2-6-.8-6-5.4-18-2.5-12-1.3-16 .4-6 .9-4 1.8-4.4 3.7-5.6 16.2-18 14.1-19.2z"/>
<path fill="#fedd8c" d="M1135.1 161.2l4.1-1.1 6-.1 10 2.4 6 2.7 6 3.6 5.8 4.5 4.2 4.2 7.1 9.8 10.9 23.4 4 5.9 32 31.2 7.5 9.5 3.2 6 2.7 8 .6 8-1 6-2.5 6-2.7 4-3.8 4-6 4.7-8 4.8-26 13.4-32 14.8-8 4.2-9.1 6.1-20.9 17-10 6.1-10 4-12 2.2-12-.3-10-2.2-8-3.2-6-3.6-5-4-5.4-6-3.6-6-2-6-.8-6 .9-6 2.8-6 3.3-4 19.8-16.8 4.8-5.2 4-6 3.2-6.8 10.1-27.2 14.2-32 2.2-8 4.7-24 4-12 4-8 4.8-6.9 6-5.9zM1230.3 165.2l2.9-.4 2.6 .4 3.4 1.7 2.2 2.3 1 2 .2 4-.9 2-2.5 2.3-4 1.6-4 0-4-1.8-1.9-2.1-1.2-4 1-4 2.1-2.4zM1307.3 315.2l1.9 0 2 .7 2 1.6 2.4 3.7 1.4 6-.3 6-1.3 4-2.2 3-2 1.3-2 .4-2-.4-2-1.1-2-2.2-2-4-1-5 .1-4 .9-4 2-3.4 2-1.8zM1303 415.2l2.2 .4 1.4 1.6 .1 2-1.4 4-2.9 4-7 6-10.2 6.5-10 7.5-6.3 4-9.7 3.6-8 1.3-10-.5-2-.4-3.3-2 .1-2 2.7-2 5.3-2 19.2-5.1 10-3.9 6-4.7 12-12.3 6-4.1z"/>
<path fill="#fdb466" d="M1140.2 169.2l5-.7 4 .1 8 1.9 4 1.7 6 3.7 7.6 7.3 6.6 10 9 22 4.8 8.1 8 7.9 24 18.7 4 3.9 4.2 5.4 3.2 6 2.2 8 .1 6-1.3 6-2.9 6-3.1 4-8.4 7.1-8 4.6-28 14.6-28 12.5-8 4.1-8 5.4-20 16-10 6.1-10 4-10 2.1-10 .1-10-2-6-2.4-6-3.6-5.1-4.6-3.1-4-2.8-6-.9-4-.2-4 1-6 1.6-4 3.7-6 18.5-20 3.3-4.6 2.9-5.4 10.1-32 14.5-32 2.2-8 5-24 4.8-12 4.5-6.8 5.1-5.2 4.9-3.4z"/>
<path fill="#f67d4a" d="M1138.2 175.2l5-1.3 4-.3 8 1.2 8 3.7 4 2.9 3.9 3.8 3.2 4 3.6 6 3.5 8 5.8 16.3 2 4.1 3.8 5.6 3.8 4 5 4 17.4 11 6 4.5 4 3.8 3.7 4.7 3 6 1.6 6 0 6-.8 4-2.7 6-2.8 3.9-8 6.9-6 3.5-32 16.4-32 14.4-10 6.7-18 14.6-10 6.2-10 4.1-8 1.8-10 .3-8-1.5-6-2.2-5.1-3.1-4.4-4-2.5-3.3-2.3-4.7-.9-4 0-6 .9-4 1.6-4 3.7-6 17-19.4 5.3-8.6 2.1-6 3.6-16 3-10 4-9.5 8.3-16.5 2.3-6 2.1-8 3.8-20 4.2-12 3.3-5.8 4-4.9 6-4.9z"/>
<path fill="#e24732" d="M1139.2 179.2l8-1.5 8 1.3 8 4 6 5.4 3.7 4.8 3.3 6 9 25.6 5 8.4 3.9 4 5.4 4 15.7 8.3 6 3.8 6 5.2 3.6 4.7 2.1 4 1.6 6 .1 6-1 4-1.7 4-2.8 4-3.9 3.9-4 3-6 3.5-16.4 7.6-17.6 9.1-22 9.4-8 4.1-8 5.4-18 14.8-10 6.5-8 3.5-10 2.4-8 .2-8-1.4-5-2-5-3.1-3-2.9-2.8-4-1.7-4-.7-4 .2-4 .8-4 1.7-4 3.6-6 15.9-18.1 4.1-5.9 2-4 2-6 3.4-18 2.4-8 3.4-8 7.3-14 3.1-8 5.3-28 1.7-6 2.6-6 3.7-6 3.5-4 5.3-4z"/>
<path fill="#be1826" d="M1139.2 183.2l6-1.6 4 0 4 .6 4 1.4 4 2.2 6 5.2 4 5.4 3.4 6.8 7.7 24 4.1 8 3.5 4 5 4 20.3 9.6 6 3.8 4 3.6 3.8 5 2.4 6 .6 6-1.2 6-2 4-3.1 4-6.5 5.3-6 3.3-17.4 7.4-18.6 9.5-18 7.5-8 3.9-10 6.9-18 15.1-10 6.2-8 3.2-8 1.7-8 .1-6-1.2-4-1.6-4-2.4-4.7-4.9-2-4-.9-4 0-4 .9-4 1.6-4 3.7-6 16-18 5.3-8 2.7-8 2.6-16 2.2-8 3.2-8 7.4-14.5 2.7-7.5 4.2-26 3-10 2.9-6 3.2-4.5 4-3.9z"/>
<path fill="#b6deec" d="M1199.1 83.2l16.1-1.7 18 .5 16 2.6 14 4.4 11.6 6.2 5 4 3.6 4 2.4 4 1.2 4 .2 4-.9 4-3.9 6-3.2 2.8-4.9 3.2-9.2 4-13.9 3.7-20 3.3-18 1.3-14-.8-10-2.6-5.9-2.9-4.1-2.8-4-3.5-4.6-5.7-2.4-4-2.2-6-.7-6 .5-4 1.4-4 2.5-4 3.5-3.5 3.5-2.5 10.5-5zM1069.5 159.2l3.7 .1 4 .9 6 3.1 6 5.1 6 8.1 2.8 6.7 1.3 6 .5 10-.6 12-2.1 12-3.8 12-8.1 19.1-8 16.1-6 9.5-4 4.6-6 4.2-6 1-4-1.2-2-1.2-4-4-4-6.7-3.6-9.4-2.7-12-1.3-10-.3-12 .8-14 1.9-12 2.5-10 3.5-10 5.2-10.6 5.2-7.4 4.8-4.7 6-3.8zM1335.4 173.2l3.8-1.3 4-.2 6 1.9 4 3.2 1.9 2.4 2.2 4 1.3 4 .5 8-.8 4-1.5 4-2.7 4-1.9 2-3 2.1-4 1.5-6 .2-6-2.4-2-1.6-3.1-3.8-2.4-6-.7-8 1.8-8 3.6-6zM1235.7 209.2l3.5-1.3 2 0 4 1.2 4 2.9 8 8.2 4 1.9 20 1.4 6 2 6 4 3.2 3.7 2 4 1.2 4 .3 6-1.2 6-1.6 4-2.4 4-3.5 4.1-4 3.3-4 2.4-4 1.6-4 .8-4 0-4-1-4-2.6-2-2-6-9.4-8.7-19.2-9.3-10-4-6-1.2-4 0-4 1.2-3.3zM1246.9 311.2l4.3 .1 4 .8 6 3.1 6 5.5 6 8.2 4.9 10.3 3 10 1.2 10-.6 10-2.1 8-3.7 8-5.5 8-7.2 7.8-8 6.8-10 6.8-10 5.3-10 3.7-14 3-16 1.6-36 .9-38 3.1-42 .6-12 1.6-20 4.5-6 .5-6-.6-8-2.2-8-3.7-10-6.2-10-7.8-8.3-7.7-6.9-8-3.8-6-3.3-8-1.2-6-.4-6 .3-8 .9-6 2.7-6.2 2.1-1.8 3.9-1 4 .5 6 2.2 36 21.1 14 6.3 12 4.2 16 4 16 2.3 22 1.6 6-.1 6-1.1 3.7-2 2.3-2.7 6.2-15.3 6.5-10 9.1-10 10.3-8 18-10 31.9-14.7 22-8.2 8-2.3z"/>
<path fill="#8abfdb" d="M1209 99.2l8.2-.9 8 .1 8 1.1 8 2.3 6.7 3.4 4.3 4 1.9 4-.3 4-2.5 4-5.5 4-6.6 2.7-8 2-10 1.1-8-.2-8-1.3-6-2-6-3.8-3.6-4.5-1.2-4 .6-4 2.6-4 5.3-4 4.5-2zM1068.6 175.2l4.6-.4 6 1.7 6 4.4 4 5.2 2.4 5.1 2.2 8 .7 8-.5 10-1.9 10-3.2 10-5.7 13.7-6 11.5-6 8.7-4 4-6 3.3-4 .2-4-1.5-4-3.6-3.9-6.3-2.4-6-2-8-1.1-8-.4-10 .6-10 1.6-10 2-8 2.8-8 4-8 4.8-7 4-4 4-2.9zM1224.4 323.2l6.8-1.2 6-.3 6 .8 4 1.2 6 3.2 4 3.2 4 4.3 3.3 4.8 2.9 6 1.9 6 1.1 6 .2 6-.7 6-1.6 6-5.1 10-8 9.3-10 7.6-12 6-6 1.9-8 1.8-14 .8-14-1.8-12-3.9-10-5.6-6-5-4.5-5.1-3.9-6-2.4-6-.9-6 .5-4 2.3-6 2.5-4 5.6-6 4.9-4 5.9-4 10.6-6 21.4-9.8 10-3.6z"/>
<path fill="#6197c5" d="M1064.6 187.2l4.6-1.7 6 .3 4 2 4 3.7 3.4 5.7 2 6 .9 6 .1 8-1 8-2.6 10-3.8 10-5 9.9-6 8.4-4 3.7-4 2.1-4 .3-4-1.5-2-1.6-2.6-3.3-3-6-1.7-6-1.1-6-.4-14 2-14 2.3-8 2.5-6 6-9.7 4-4zM1224.5 329.2l4.7-.2 6 .6 8 2.8 6.8 4.8 3.6 4 2.7 4 1.9 4 1.8 6 .5 4 0 6-1.2 6-1.4 4-4.8 8-3.4 4-4.5 4-8 5.1-10 3.9-10 2-12 .1-10-1.7-10-3.7-8-4.8-4-3.3-4-4.4-3.3-5.2-1.6-4-.8-6 .6-4 1.4-4 2.5-4 5.7-6 5.2-4 13.9-8 16.4-6.7 8-2.2z"/>
<path fill="#4168ae" d="M1066.6 195.2l4.6-.9 4 1 4 3 2 2.7 2 4.1 1.2 4.1 .8 6-.1 6-1.2 8-2.2 8-2.5 6.3-4 7.5-4 5.3-4 3.5-4 1.7-2 .1-4-1.5-2-1.8-2-2.7-2-4.4-2.2-10-.1-12 2.3-12 3.9-10 2.4-4 3.3-4 2.4-2.1zM1210.5 337.2l8.7-1.6 6-.1 6 1 6 2.2 6 4.4 3.5 4.1 3.1 6 1.4 6 0 6-1.5 6-3.1 6-3.4 4.3-6 5.1-6 3.4-6 2.3-8 1.6-8 .3-6-.7-8-2-6-2.7-6-4-5.4-5.6-2.6-4.6-1.4-5.4 .5-6 1.7-4 2.7-4 4-4 5.3-4 6.9-4 8.3-3.7z"/>
<path fill="#313695" d="M1068.8 203.2l2.4 0 2 .6 2.1 1.4 2.9 4 1.5 4 .7 4 0 8-2.1 10-4.6 10-4.5 5.5-4 2.4-2 .3-2-.3-2-1.1-2-2.1-2-3.9-1.9-8.8 .1-8 2-10 3.6-8 4.2-5.2 2-1.5zM1209.8 343.2l9.4-1.1 6 .7 4 1.3 4 2.1 3.5 3 2.8 4 1.6 4 .7 4-.2 4-1.1 4-2 4-5.5 6-3.8 2.5-6 2.7-6 1.4-6 .4-6-.6-6-1.6-4-1.8-4.6-3-3.8-4-2.2-4-.9-4 .3-4 1.4-4 2.9-4 4.3-4 4.6-3 6-2.9z"/>
<path fill="none" stroke="#000" stroke-width="3.2" stroke-linecap="round" stroke-dasharray="0 7.69" d="M1218.7 97.8h15.38M1207.2 101.6h38.45M1203.3 105.5h46.14M1199.5 109.3h53.83M1203.3 113.2h53.83M1199.5 117.0h53.83M1203.3 120.9h53.83M1207.2 124.7h46.14M1211.0 128.5h38.45M1214.8 132.4h30.76M1218.7 136.2h15.38M1145.6 178.5h7.69M1057.2 182.4h15.38M1134.1 182.4h30.76M1053.4 186.2h23.07M1130.3 186.2h38.45M1049.5 190.1h30.76M1126.4 190.1h46.14M1045.7 193.9h38.45M1122.6 193.9h53.83M1041.8 197.8h38.45M1118.7 197.8h61.52M1045.7 201.6h38.45M1122.6 201.6h53.83M1041.8 205.4h46.14M1118.7 205.4h61.52M1038.0 209.3h46.14M1114.9 209.3h69.21M1041.8 213.1h46.14M1118.7 213.1h61.52M1038.0 217.0h46.14M1114.9 217.0h69.21M1041.8 220.8h46.14M1118.7 220.8h61.52M1038.0 224.7h46.14M1122.6 224.7h61.52M1041.8 228.5h38.45M1118.7 228.5h61.52M1045.7 232.4h38.45M1122.6 232.4h53.83M1041.8 236.2h38.45M1118.7 236.2h61.52M1045.7 240.0h30.76M1122.6 240.0h61.52M1049.5 243.9h30.76M1118.7 243.9h69.21M1053.4 247.7h23.07M1107.2 247.7h92.28M1057.2 251.6h15.38M1103.3 251.6h99.97M1099.5 255.4h107.66M1095.7 259.3h115.35M1091.8 263.1h123.04M1088.0 267.0h130.73M1091.8 270.8h123.04M1088.0 274.7h130.73M1091.8 278.5h123.04M1088.0 282.3h130.73M1091.8 286.2h123.04M1095.7 290.0h115.35M1099.5 293.9h107.66M1103.3 297.7h107.66M1107.2 301.6h92.28M1103.3 305.4h92.28M1099.5 309.3h92.28M1095.7 313.1h76.90M1091.8 316.9h53.83M1080.3 320.8h53.83M1076.4 324.6h61.52M1072.6 328.5h61.52M1211.0 328.5h7.69M1076.4 332.3h53.83M1199.5 332.3h30.76M1072.6 336.2h53.83M1195.6 336.2h38.45M1068.7 340.0h53.83M1191.8 340.0h46.14M1064.9 343.9h53.83M1187.9 343.9h53.83M1068.7 347.7h46.14M1184.1 347.7h61.52M1072.6 351.6h38.45M1180.2 351.6h69.21M1068.7 355.4h30.76M1184.1 355.4h61.52M1080.3 359.2h7.69M1180.2 359.2h69.21M1176.4 363.1h76.90M1003.4 366.9h0.01M1180.2 366.9h69.21M1007.2 370.8h0.01M1176.4 370.8h76.90M1011.1 374.6h0.01M1180.2 374.6h69.21M1014.9 378.5h0.01M1176.4 378.5h69.21M1018.8 382.3h0.01M1180.2 382.3h69.21M1022.6 386.2h0.01M1184.1 386.2h61.52M1018.8 390.0h7.69M1180.2 390.0h61.52M1022.6 393.8h7.69M1184.1 393.8h61.52M1026.4 397.7h7.69M1187.9 397.7h53.83M1030.3 401.5h7.69M1191.8 401.5h46.14M1034.1 405.4h7.69M1195.6 405.4h38.45M1038.0 409.2h7.69M1207.2 409.2h15.38M1041.8 413.1h7.69M1045.7 416.9h0.01M1049.5 420.8h0.01"/>
<g fill="none" stroke="#000" stroke-width="1.35" stroke-dasharray="2.1 2.1"><circle cx="1167.3" cy="273.3" r="23.8"/><circle cx="1167.3" cy="273.3" r="47.9"/><circle cx="1167.3" cy="273.3" r="72.7"/><circle cx="1167.3" cy="273.3" r="98.8"/><circle cx="1167.3" cy="273.3" r="126.6"/><circle cx="1167.3" cy="273.3" r="156.7"/><path d="M977.2 273.3L1357.4 273.3"/><path d="M1002.7 178.3L1331.9 368.4"/><path d="M1072.2 108.7L1262.3 437.9"/><path d="M1167.3 83.2L1167.3 463.4"/><path d="M1262.3 108.7L1072.2 437.9"/><path d="M1331.9 178.3L1002.7 368.4"/></g>
<path fill="none" stroke="#000" stroke-width="1.4" stroke-linejoin="round" d="M1218.6 88.4 1217.3 95.3 1218.1 101.7 1220.7 108.8 1223.2 115.5 1224.7 119.9 1227.7 125.2 1227.3 131.9 1230.7 136.1 1232.1 132.3 1231.1 126.6 1230.3 121.1 1228.9 115.2 1228.1 108.9 1227.2 104.2 1229.1 106.4 1232.3 112.3 1231.4 116.2 1234.7 121.9 1236.5 124.9 1233.8 126.1 1235.3 132.1 1235.2 138.3 1235.1 141.4 1236.2 146.4 1240.0 150.4 1239.5 157.4 1238.8 161.1 1238.5 166.9 1238.0 169.7 1235.1 173.2 1234.2 176.0 1228.3 182.8 1226.0 188.5 1223.6 186.6 1224.3 183.8 1222.3 188.0 1223.3 191.9 1225.2 196.5 1224.0 200.7 1223.2 206.7 1223.2 210.2 1221.8 215.9 1222.4 220.1 1222.3 223.8 1223.4 226.2 1226.2 230.5 1225.9 233.8 1228.7 235.7 1231.8 236.0 1233.2 238.0 1229.2 239.0 1227.4 237.9 1230.4 239.7 1234.0 240.0 1237.1 240.0 1241.0 241.2 1244.5 242.9 1247.7 245.6 1249.9 248.8 1246.7 247.5 1244.1 245.4 1240.0 243.9 1237.3 244.3 1238.5 246.0 1239.6 249.5 1237.0 250.7 1236.2 254.2 1234.1 256.0 1232.5 257.0 1230.2 256.2 1227.9 253.0 1225.4 253.3 1226.0 255.3 1226.7 258.8 1224.7 261.1 1222.6 259.5 1222.5 257.2 1221.4 255.5 1220.3 257.6 1217.9 261.2 1216.4 261.1 1213.8 259.1 1210.9 257.4 1208.3 255.5 1207.8 251.7 1207.1 248.4 1205.3 244.6 1204.2 241.3 1203.5 238.3 1201.2 238.2 1197.9 236.8 1196.0 236.5 1195.5 233.1 1192.2 231.8 1190.1 228.5 1188.5 225.8 1189.8 225.0 1185.4 223.5 1184.1 221.5 1183.2 224.3 1180.6 223.5 1178.4 221.2 1175.2 220.6 1173.6 222.1 1173.0 219.1 1171.3 221.9 1172.4 224.5 1171.2 229.3 1169.6 229.1 1169.0 225.5 1168.2 223.5 1167.3 221.8 1165.5 221.3 1163.5 219.4 1163.4 223.1 1160.5 224.7 1159.7 222.3 1159.6 218.6 1162.3 216.6 1164.2 213.9 1165.7 210.6 1168.4 209.4 1170.8 205.7 1172.9 202.0 1173.5 197.8 1170.8 193.0 1167.3 192.9 1163.7 190.4 1159.9 188.8 1155.9 188.7 1154.7 183.3 1152.7 181.0 1150.0 180.1 1149.4 182.9 1151.2 186.6 1151.0 189.3 1148.6 192.4 1148.8 196.4 1152.2 199.0 1151.6 202.3 1153.4 207.8 1148.8 209.0 1146.0 207.7 1143.3 207.3 1140.9 202.8 1138.4 201.8 1136.7 204.5 1136.3 208.3 1132.5 205.1 1128.3 201.5 1125.1 200.3 1121.2 199.6 1118.5 198.2 1115.5 197.1 1115.0 194.2 1117.1 191.3 1118.3 188.4 1122.8 186.0 1128.1 183.2 1130.7 178.0 1132.5 172.2 1130.3 174.4 1127.6 179.9 1123.6 181.7 1122.4 179.2 1123.5 177.2 1121.2 175.3 1118.4 175.1 1114.6 176.2 1112.7 178.8 1113.2 175.7 1116.6 171.7 1119.0 167.4 1121.1 168.6 1119.5 173.0 1121.8 171.1 1123.4 168.9 1126.0 165.7 1127.9 163.8 1128.0 160.5 1125.8 159.2 1128.4 157.1 1132.6 153.9 1132.7 150.9 1133.6 147.7 1134.2 143.6 1134.4 141.4 1132.4 137.3 1134.6 134.9 1137.2 131.8 1139.9 128.5 1143.2 124.7 1144.1 119.9 1140.9 113.9 1138.3 108.8 1138.3 103.8 1140.9 103.0 1143.2 106.0 1146.4 110.5 1147.3 114.6 1150.9 117.4 1154.9 116.1 1159.2 118.0 1164.6 117.2 1165.9 114.0 1170.1 114.0 1176.9 115.9 1181.2 114.6 1187.3 110.7 1188.9 105.0 1190.9 98.6 1192.0 92.9 1191.1 87.5 1188.4 82.6M1169.6 81.4 1168.6 86.7 1162.5 88.5 1157.6 88.7 1156.8 85.3 1158.9 81.6M1151.0 90.6 1146.0 94.5 1139.2 96.2 1132.6 94.9 1126.4 93.4 1120.6 91.6 1115.7 91.1 1117.4 89.5 1126.7 86.9 1125.7 90.0 1130.4 92.2 1137.1 92.7 1142.0 93.3 1145.0 91.5 1148.1 90.5 1151.0 90.6M1113.5 182.8 1114.0 186.9 1114.6 191.3 1113.9 195.3 1112.5 192.7 1112.8 190.9 1110.6 190.8 1107.8 192.0 1105.1 190.7 1103.0 188.9 1102.9 186.9 1105.2 187.2 1106.3 185.2 1108.7 185.8 1113.5 182.8M1224.1 187.2 1226.4 190.4 1227.4 197.2 1225.3 196.3 1224.1 192.8 1224.1 187.2M1139.8 211.5 1143.5 211.3 1147.5 212.5 1152.3 213.2 1154.6 213.5 1154.4 215.3 1150.7 215.4 1150.8 219.3 1151.7 222.4 1155.1 224.5 1158.2 226.3 1160.6 225.9 1164.0 226.0 1166.9 227.9 1167.3 233.2 1164.6 234.8 1161.1 234.4 1158.1 233.3 1155.2 231.0 1151.8 229.6 1148.9 227.8 1146.5 225.4 1143.0 224.5 1140.4 223.7 1140.4 219.4 1139.8 215.6 1139.8 211.5M1161.6 241.2 1164.5 241.3 1166.8 242.4 1165.9 246.0 1168.1 250.8 1167.7 253.1 1165.7 255.6 1163.0 257.3 1160.1 257.8 1158.4 256.5 1158.3 253.9 1159.2 251.0 1159.7 248.3 1160.4 245.6 1160.9 243.0 1161.6 241.2M1161.3 239.3 1164.3 239.4 1167.9 237.6 1168.4 241.2 1166.7 240.7 1163.9 240.9 1161.3 239.3M1180.3 224.7 1184.8 225.3 1188.4 228.1 1189.0 230.6 1188.3 233.8 1186.3 236.1 1183.2 236.0 1179.8 234.7 1178.1 232.9 1177.5 229.0 1176.5 225.8 1180.3 224.7M1191.8 235.6 1192.3 238.3 1188.6 241.7 1185.9 241.1 1184.8 237.5 1187.1 236.0 1189.4 235.0 1191.8 235.6M1164.0 210.0 1160.5 209.0 1157.5 211.4 1160.1 214.8 1163.2 214.7 1164.0 210.0M1183.3 241.9 1179.7 239.3 1176.8 240.1 1177.2 242.7 1180.0 243.3 1183.3 241.9M1171.4 230.5 1167.7 231.5 1167.3 234.9 1170.6 235.3 1171.4 230.5M1176.5 230.1 1172.6 230.1 1172.1 234.2 1174.7 235.4 1176.5 230.1M1166.2 247.9 1168.6 247.9 1169.7 250.9 1168.0 252.4 1166.2 247.9M1114.6 222.4 1120.3 221.1 1126.6 224.0 1130.2 225.9 1134.4 228.9 1137.0 233.1 1136.4 235.1 1140.2 235.3 1143.3 239.1 1147.2 242.3 1149.9 244.3 1152.9 243.8 1154.8 242.4 1157.0 244.9 1158.6 246.6 1157.5 249.1 1157.5 252.2 1157.2 255.8 1155.6 259.3 1155.3 263.2 1153.9 265.6 1150.8 266.6 1148.3 266.4 1147.6 269.1 1144.6 266.4 1141.5 264.4 1136.9 262.8 1133.9 260.5 1130.3 259.8 1128.8 257.0 1124.0 255.8 1122.8 252.6 1121.4 249.9 1122.1 246.1 1120.5 241.7 1120.6 238.1 1121.2 234.6 1118.1 230.5 1116.5 226.7 1114.6 222.4M1108.9 249.1 1111.9 248.6 1112.0 250.9 1114.1 249.6 1114.9 251.6 1112.6 253.4 1112.9 255.6 1113.0 257.7 1110.2 258.5 1108.3 258.9 1107.2 257.2 1106.3 253.5 1107.4 250.9 1108.9 249.1M1141.1 278.2 1138.8 279.9 1137.0 282.3 1139.1 282.7 1141.2 283.6 1142.8 282.5 1144.9 284.2 1146.3 284.0 1146.4 281.8 1144.6 280.2 1143.3 278.0 1141.1 278.2M1139.8 307.9 1141.7 306.4 1143.9 304.9 1146.4 303.2 1148.5 302.3 1150.8 302.0 1153.2 302.2 1155.7 302.0 1155.9 303.1 1153.6 304.0 1150.6 304.6 1148.6 305.7 1146.2 307.1 1144.0 308.5 1142.9 311.6 1142.0 312.2 1140.2 310.6 1139.8 307.9M1170.0 299.3 1171.5 297.2 1173.5 298.0 1174.5 300.2 1172.3 301.4 1170.0 299.3M1192.6 296.9 1193.6 293.8 1197.0 291.9 1197.3 293.6 1195.0 296.6 1192.6 296.9M1212.7 274.3 1211.5 273.3 1212.0 271.4 1212.9 271.7 1212.7 274.3M1151.9 289.8 1153.0 291.6 1155.3 292.4 1157.3 292.2 1156.3 290.2 1153.6 289.7 1151.9 289.8M1029.6 259.8 1032.2 258.1 1033.7 255.9 1033.6 252.4 1037.9 253.3 1038.7 251.8 1042.8 253.8 1047.3 254.9 1050.8 254.2 1052.3 257.1 1051.5 262.1 1050.6 266.2 1050.4 269.6 1053.5 270.9 1057.1 271.2 1060.4 269.2 1062.8 265.4 1064.5 264.7 1065.4 268.0 1064.8 270.4 1067.7 270.0 1066.9 271.2 1067.1 273.6 1069.1 276.0 1070.9 276.0 1071.5 277.5 1072.4 279.3 1074.6 280.1 1076.8 280.9 1078.0 282.7 1078.2 284.2 1079.0 286.0 1080.1 286.8 1082.7 286.1 1084.1 285.1 1087.2 284.8 1088.5 286.5 1090.0 287.8 1086.9 288.1 1086.6 288.8 1084.3 287.9 1082.9 287.6 1081.7 288.4 1080.7 290.1 1082.2 292.2 1082.1 294.1 1081.6 295.2 1084.0 298.0 1085.5 300.3 1084.8 301.4 1085.3 302.8 1087.9 303.8 1091.8 302.4 1093.7 302.4 1094.7 303.5 1093.4 305.1 1094.5 306.2 1097.1 305.1 1097.6 303.6 1098.7 303.1 1100.2 304.6 1101.9 308.0 1104.2 310.0 1104.5 307.4 1102.8 304.7 1100.1 301.8 1100.8 299.5 1103.8 298.1 1106.6 297.0 1111.2 298.3 1113.1 298.9 1114.2 297.2 1112.9 295.3 1110.1 295.6 1107.2 295.2 1104.1 293.8 1101.5 293.8 1099.3 294.4 1098.3 296.4 1096.7 297.3 1094.8 296.2 1092.2 295.7 1089.2 296.3 1087.7 295.8 1087.2 294.2 1085.3 294.0 1084.9 292.3 1087.1 291.4 1090.1 289.4 1093.2 288.0 1095.3 286.8 1093.1 286.1 1090.8 284.3 1090.0 282.8 1091.9 280.7 1094.8 279.8 1098.6 279.3 1100.4 279.7 1102.4 281.3 1104.1 282.7 1105.6 284.2 1108.0 285.1 1111.0 285.8 1113.5 286.0 1115.8 286.9 1118.0 287.4 1120.0 288.2 1121.6 289.0 1122.8 290.4 1125.0 291.7 1126.6 292.9 1127.2 294.6 1127.1 296.5 1126.7 297.7 1125.2 297.6 1125.9 300.2 1127.0 302.6 1126.9 306.0 1126.5 308.7 1125.1 310.0 1122.6 309.5 1121.0 305.7 1120.4 303.8 1119.3 306.3 1116.9 308.4 1117.0 311.2 1118.9 311.1 1120.4 312.6 1122.1 311.9 1124.6 311.0 1125.8 312.7 1127.6 311.7 1129.9 309.4 1131.0 310.9 1129.3 313.4 1131.3 313.2 1133.5 313.5 1136.3 314.5 1136.6 315.6 1139.4 316.3 1141.3 317.5 1143.3 316.7 1143.6 315.2 1145.6 317.9 1147.4 320.1 1148.2 321.7 1149.3 320.3 1148.3 318.0 1149.5 315.1 1151.8 312.6 1153.5 311.2 1155.0 312.5 1154.2 315.5 1153.1 317.7 1152.1 321.8 1149.8 327.0 1151.5 326.7 1153.1 322.8 1154.7 318.7 1154.9 315.0 1156.5 313.7 1158.1 314.8 1157.9 317.7 1159.7 316.1 1161.1 312.2 1164.6 311.8 1165.4 309.0 1168.5 307.1 1171.9 305.8 1174.4 301.7 1176.5 303.3 1179.6 303.8 1181.3 305.4 1180.3 309.2 1182.5 309.1 1186.1 308.7 1189.1 306.9 1190.6 304.7 1193.1 305.2 1195.4 308.0 1196.7 306.0 1198.6 304.6 1200.7 302.3 1199.3 300.2 1202.1 296.8 1205.4 295.3 1208.0 294.0 1210.2 289.8 1213.3 289.6 1214.5 285.9 1214.1 283.3 1214.3 281.2 1216.9 281.6 1215.4 278.4 1216.6 275.0 1219.3 270.6 1222.1 266.6 1223.9 263.3 1228.4 264.7 1228.4 266.9 1226.4 269.2 1226.0 272.3 1228.2 274.4 1229.2 275.5 1233.7 276.2 1235.1 280.4 1239.0 285.3 1237.7 289.6 1237.6 292.8 1239.9 295.1 1242.0 296.9 1246.3 297.1 1248.6 300.0 1252.2 304.2 1252.3 306.8 1255.6 311.3 1250.3 310.2 1245.3 308.7 1241.1 306.6 1239.4 303.9 1237.6 300.3 1235.1 296.7 1233.4 292.9 1231.2 291.6 1231.6 296.7 1230.8 300.2 1234.4 304.6 1233.8 308.6 1230.5 311.3 1228.5 315.4 1226.6 318.8 1227.3 323.7 1228.5 329.4 1228.7 334.1 1232.9 332.3 1234.9 330.0 1237.6 329.6 1240.5 333.6 1243.3 336.4 1247.1 339.1 1248.4 345.1 1249.3 351.1 1250.0 356.0 1248.2 360.0 1245.4 360.7 1245.6 364.3 1245.8 367.8 1246.9 369.9 1245.1 373.9 1245.8 375.6 1249.2 376.2 1253.2 377.9 1255.9 381.1 1255.3 383.9 1252.4 388.4 1250.3 385.8 1248.5 382.3 1246.6 380.5 1243.3 381.8 1241.5 378.0 1238.8 378.1 1235.8 382.9 1234.7 384.6 1233.6 379.4 1231.2 379.6 1229.8 386.1 1227.5 388.0 1231.4 389.9 1233.0 390.9 1235.4 387.5 1239.7 387.0 1237.8 390.6 1236.4 395.5 1237.1 397.6 1240.1 397.9 1243.5 400.6 1247.3 401.9 1248.6 404.0 1246.4 407.5 1250.7 406.8 1251.9 410.9 1251.4 416.1 1251.4 421.4 1250.7 426.3 1248.8 431.2 1246.2 435.1 1242.0 438.6 1240.0 440.6 1235.7 444.3 1232.0 447.2 1233.5 450.4 1231.6 451.1 1229.7 447.7 1225.7 447.9 1223.0 449.9 1221.2 453.0 1221.1 454.9 1219.4 458.7M1178.4 465.2 1176.9 463.2 1173.8 459.1 1173.0 455.3 1168.9 455.4 1164.1 457.1 1159.2 458.0 1157.5 460.7 1155.7 463.8M1110.5 456.9 1112.0 450.8 1112.4 447.3 1110.3 451.0 1106.3 450.4 1103.5 448.6 1102.0 443.3 1106.3 442.7 1102.6 440.2 1101.0 437.4 1100.0 434.1 1099.2 431.5 1093.3 428.5 1085.4 424.9 1078.9 420.4 1075.3 416.6 1076.2 412.5 1070.6 410.3 1067.2 406.2 1065.5 401.2 1066.2 396.0 1065.9 392.0 1063.4 390.7 1061.4 391.0 1059.8 394.8 1059.9 399.1 1059.8 402.4 1058.0 407.3 1061.0 405.5 1059.9 408.8 1058.7 411.3 1064.1 415.4 1069.4 414.7 1073.3 413.7 1071.6 417.4 1071.3 420.0 1074.5 424.8 1076.0 430.1 1072.7 432.5 1068.7 434.2 1064.3 435.6M1022.0 399.2 1024.1 390.1 1027.5 384.5 1028.4 379.1 1030.9 374.2 1034.0 367.3 1037.3 363.7 1032.7 365.5 1031.8 365.4 1033.1 361.5 1035.0 357.9 1032.7 359.7 1030.7 363.7 1028.0 367.2 1024.8 373.1 1022.2 377.6 1020.9 383.3 1018.7 386.1 1014.4 389.8M1038.3 354.9 1037.0 351.6 1032.7 347.9 1030.0 337.9 1030.5 331.4 1029.9 327.4 1025.9 324.8 1022.4 326.0 1019.6 322.7 1020.6 314.5 1023.1 311.9 1023.1 305.3 1024.1 301.1 1025.2 298.9 1030.0 300.0 1033.6 298.1 1034.4 299.1 1034.8 296.2 1033.1 291.0 1031.9 285.1 1031.5 280.4 1028.4 273.3 1026.4 268.4 1027.0 262.3 1029.3 260.3 1028.8 258.7 1024.0 256.2 1022.4 251.6 1017.4 247.7 1012.8 246.6 1009.2 241.7 1007.4 236.4 1004.0 231.1 997.8 224.7 990.5 219.3 988.2 218.4 982.9 219.0M1029.6 259.8 1031.5 262.8 1031.4 268.1 1033.7 271.7 1037.2 273.8 1039.3 272.6 1043.0 275.0 1044.8 278.0 1047.2 280.0 1050.0 279.4 1050.9 281.4 1050.6 284.1 1050.6 287.0 1052.5 288.4 1054.5 290.8 1053.6 293.8 1051.0 294.9 1049.3 298.0 1047.7 300.0 1046.7 303.4 1045.4 307.3 1042.4 308.4 1040.0 309.8 1039.5 309.2 1041.5 310.8 1043.6 311.6 1045.1 309.7 1047.6 309.9 1047.2 313.3 1048.1 313.2 1049.0 309.5 1049.7 307.0 1050.8 306.7 1050.5 304.6 1052.2 302.0 1054.2 300.7 1055.3 297.9 1058.2 297.1 1059.9 299.5 1058.0 299.7 1059.1 300.9 1057.3 302.8 1055.2 305.5 1054.4 308.9 1053.7 311.3 1052.8 313.6 1048.8 315.3 1045.9 319.2 1042.6 322.2 1040.8 325.4 1041.8 327.1 1044.3 325.5 1045.8 327.4 1047.6 324.9 1049.2 322.7 1051.6 321.7 1051.4 324.2 1052.7 325.0 1054.4 324.5 1055.6 327.8 1054.5 328.8 1052.4 331.1 1049.7 331.7 1047.5 335.1 1047.2 337.7 1047.4 340.6 1050.3 342.5 1050.5 346.3 1053.4 350.2 1056.3 352.8 1055.5 354.8 1053.3 355.8 1051.2 357.0 1046.9 357.9 1043.3 359.1 1041.0 359.1 1039.6 358.1 1038.3 354.9M1059.6 333.0 1060.6 330.0 1062.0 328.6 1065.4 328.9 1068.2 327.6 1070.3 328.6 1074.3 328.8 1075.7 330.6 1075.8 333.8 1073.5 333.3 1072.6 336.0 1075.5 338.3 1077.6 339.7 1077.4 336.2 1081.2 337.7 1083.8 339.7 1084.8 340.5 1081.3 340.5 1078.6 341.1 1078.0 344.3 1077.6 347.8 1077.8 352.5 1076.1 354.3 1072.5 352.8 1069.8 349.5 1068.4 345.2 1068.3 342.6 1066.5 340.0 1062.5 337.5 1059.6 333.0M1096.2 355.0 1100.0 356.4 1102.6 359.1 1100.1 362.4 1097.0 361.1 1094.9 361.1 1093.9 363.9 1095.1 367.4 1093.4 370.7 1094.6 373.4 1091.1 374.4 1090.5 378.3 1088.4 381.9 1083.6 380.4 1081.6 376.5 1079.7 374.1 1082.0 371.1 1086.0 368.5 1087.0 369.7 1087.4 365.9 1087.4 362.1 1088.5 359.3 1089.8 356.4 1092.4 355.0 1096.2 355.0M1107.1 371.6 1109.9 374.8 1113.6 372.1 1114.8 368.0 1112.0 367.1 1108.8 368.7 1107.1 371.6M1190.1 364.8 1192.7 361.9 1195.5 357.5 1195.7 352.1 1195.2 354.2 1193.6 359.4 1190.1 364.8M1135.4 381.1 1139.4 377.4 1145.7 379.4 1140.9 379.2 1137.6 380.3 1135.4 381.1M1069.2 263.5 1069.5 267.3 1070.4 270.8 1071.7 275.5 1075.7 276.0 1076.5 273.8 1078.0 273.3 1081.2 271.3 1083.8 270.4 1084.4 269.0 1088.2 270.5 1088.8 268.5 1091.1 269.0 1091.3 266.6 1088.6 265.3 1086.0 264.8 1083.4 265.2 1081.5 266.1 1081.6 268.4 1078.7 268.7 1077.4 268.3 1077.3 266.2 1075.4 266.4 1073.7 264.8 1072.4 268.0 1071.5 265.8 1069.2 263.5M1074.9 263.6 1078.3 263.6 1081.1 264.8 1082.8 263.7 1083.1 261.2 1080.9 258.1 1078.3 257.9 1075.3 256.6 1073.8 257.7 1074.6 261.1 1074.9 263.6M1045.8 293.2 1050.3 293.1 1048.6 291.2 1046.4 292.0 1045.8 293.2M1039.1 291.8 1040.2 294.8 1044.8 294.2 1045.7 293.0 1044.3 291.2 1039.1 291.8M1038.0 302.0 1040.3 308.5 1036.1 308.9 1036.9 302.2 1038.0 302.0M1038.9 329.4 1041.0 335.4 1038.7 331.9 1038.9 329.4M1048.0 349.0 1052.3 352.3 1049.1 352.4 1048.0 349.0M1256.4 421.6 1258.7 420.1 1259.4 423.6 1261.3 430.4 1257.4 428.8 1256.3 424.3 1256.4 421.6M1253.7 340.8 1253.7 337.2 1250.2 336.5 1249.9 332.2 1244.3 330.9 1240.1 327.6 1236.8 326.3 1237.8 328.4 1240.8 331.1 1245.2 334.1 1249.4 337.5 1252.3 340.0 1253.7 340.8M1265.8 389.9 1267.5 388.1 1266.0 383.6 1262.2 382.5 1264.2 379.1 1268.1 374.1 1271.7 375.2 1271.8 371.1 1274.3 367.0 1275.3 364.0 1275.3 361.1 1271.3 357.6 1268.9 353.6 1265.3 351.2 1263.0 349.9 1262.1 352.0 1264.1 354.8 1267.2 358.0 1267.2 363.3 1265.2 364.6 1266.5 366.7 1267.5 370.0 1262.7 375.6 1261.2 381.3 1261.1 385.0 1261.9 387.2 1265.8 389.9M1261.3 351.6 1261.9 349.4 1264.1 345.7 1263.9 339.7 1261.2 339.1 1258.7 342.1 1254.8 342.2 1259.2 346.1 1257.7 348.3 1259.5 350.6 1261.3 351.6M1230.8 263.8 1230.8 261.0 1229.9 262.8 1230.8 263.8M1239.4 238.9 1237.4 236.5 1235.7 237.7 1237.7 238.9 1239.4 238.9M1228.6 202.7 1227.5 208.8 1226.0 207.4 1228.6 202.7M1171.1 165.6 1165.5 169.1 1161.1 171.2 1157.0 166.8 1157.9 165.4 1161.6 165.1 1167.3 165.3 1171.1 165.6M1162.6 151.7 1159.5 152.7 1159.9 158.3 1157.7 163.5 1160.6 163.0 1162.9 159.5 1162.6 151.7M1156.8 164.1 1151.1 164.8 1147.7 162.0 1150.3 157.0 1151.9 156.3 1154.3 158.8 1154.6 162.1 1156.8 164.1M1153.1 152.4 1144.7 156.9 1144.9 156.0 1150.3 152.2 1153.1 152.4M1146.3 158.0 1140.0 161.3 1139.7 160.0 1144.9 158.0 1146.3 158.0M1199.8 223.2 1195.9 221.7 1193.8 223.4 1195.7 226.0 1198.7 224.9 1199.8 223.2M1199.2 210.7 1195.7 209.6 1190.9 211.7 1193.5 211.7 1197.2 212.0 1199.2 210.7M1181.7 176.9 1179.2 176.6 1179.0 184.5 1181.5 183.6 1181.7 176.9M1252.5 250.5 1254.1 252.5M1255.4 254.6 1257.0 255.9M1259.7 263.6 1261.1 267.6M1257.7 284.4 1257.3 285.5M1338.7 209.9 1338.9 208.4M1338.9 204.7 1339.0 202.9M1338.9 199.1 1338.7 197.0"/>
</g>
<circle cx="1167.3" cy="273.3" r="190.1" fill="none" stroke="#000" stroke-width="1.5"/>
<text x="1167.3" y="81.3" text-anchor="middle">90W</text><text x="1167.1" y="476.6" text-anchor="middle">90E</text><text x="1051.5" y="108.2" text-anchor="middle">60W</text><text x="1286.5" y="108.2" text-anchor="middle">120W</text><text x="979.0" y="180.2" text-anchor="middle">30W</text><text x="1359.3" y="180.2" text-anchor="middle">150W</text><text x="966.0" y="279.3" text-anchor="middle">0</text><text x="1378.0" y="279.3" text-anchor="middle">180</text><text x="981.8" y="377.8" text-anchor="middle">30E</text><text x="1356.6" y="377.8" text-anchor="middle">150E</text><text x="1054.0" y="450.3" text-anchor="middle">60E</text><text x="1284.5" y="450.3" text-anchor="middle">120E</text>
<text transform="translate(975.3 54.3) scale(.935 1)" font-size="35.5">(c)</text>
<g stroke="#000" stroke-width="1.1"><rect x="1395.3" y="399.53" width="11.4" height="25.27" fill="#313695"/><rect x="1395.3" y="374.27" width="11.4" height="25.27" fill="#4168ae"/><rect x="1395.3" y="349.00" width="11.4" height="25.27" fill="#6197c5"/><rect x="1395.3" y="323.73" width="11.4" height="25.27" fill="#8abfdb"/><rect x="1395.3" y="298.47" width="11.4" height="25.27" fill="#b6deec"/><rect x="1395.3" y="273.20" width="11.4" height="25.27" fill="#e0f3f8"/><rect x="1395.3" y="247.93" width="11.4" height="25.27" fill="#f0eac4"/><rect x="1395.3" y="222.67" width="11.4" height="25.27" fill="#fedd8c"/><rect x="1395.3" y="197.40" width="11.4" height="25.27" fill="#fdb466"/><rect x="1395.3" y="172.13" width="11.4" height="25.27" fill="#f67d4a"/><rect x="1395.3" y="146.87" width="11.4" height="25.27" fill="#e24732"/><rect x="1395.3" y="121.60" width="11.4" height="25.27" fill="#be1826"/></g><g font-size="12.3"><text x="1420.3" y="403.5" text-anchor="middle">-10</text><text x="1420.3" y="378.3" text-anchor="middle">-8</text><text x="1420.3" y="353.0" text-anchor="middle">-6</text><text x="1420.3" y="327.7" text-anchor="middle">-4</text><text x="1420.3" y="302.5" text-anchor="middle">-2</text><text x="1420.3" y="277.2" text-anchor="middle">0</text><text x="1420.3" y="251.9" text-anchor="middle">2</text><text x="1420.3" y="226.7" text-anchor="middle">4</text><text x="1420.3" y="201.4" text-anchor="middle">6</text><text x="1420.3" y="176.1" text-anchor="middle">8</text><text x="1420.3" y="150.9" text-anchor="middle">10</text></g>
<g clip-path="url(#c3)">
<circle cx="207.3" cy="755.4" r="191.1" fill="#f0eac4"/>
<path fill="#fedd8c" d="M13.2 561.3l84.9 0 .1 4 1 1.9 2 1 2 .3 2.1-1.2-.7-6 130.5 0-1.9 2.2-4.7 3.8-1.1 2 .4 2 5.6 4 .7 2 .5 8-.2 4-2.1 6-.1 2 1.2 4-.2 4-1.7 8-2.7 8 .1 4 1.6 8-.1 8 3.1 8 .9 4 .9 8-.5 8 3.1 14-.7 10.1 .6 1.9 4.7 8 3.2 16 2.2 6 1.3 2.3 2 1.5 2 .2 8-1.8 10-1.4 16-8 6.8-.8 7.2-4 6.1 0 .7-2-2.4-4-.3-2 .8-2 1.9-2 3.2-1.4 8 .4 4-1.1 4-2.8 6-6.9 2-1 2-.2 4 .9 8 5.4 2-.3 2-1.8 1.1-3.2-3.1-16-2-1.5-6-.6-8-2.8-6-.4-4 1.3-4 4.6-2 1.5-.7-.1-1.3-.5-2.5-7.5-3.5-4.2-3.1-1.8-2.9-.8-10-.7-2-.9-1.4-1.6 .2-4 2.5-8-.2-12-1.1-3.5-2.5-4.5-.6-4-2.7-6-.5-2 .5-6-.9-4-4.1-6-9.2-6.1-3.6-3.9-2.4-4.2-2-1.9-4-1.6-2-2-4-6.4-6-4.5-2.1-5.4 154.1 0 0 219.4-4-.5-3 1.1-2.7 2-1.8 2-1 6 .5 2.7 2 2.7 6 2.5 4 .2 0 149.9-153.4 0 .2-6 1.2-3.1 2-2.5 2-1.5 6-2.4 6.6-6.5 2.9-4 .7-2-.2-4-1.4-2-4.6-3.2-6-6.3-8.8-4.5-9.2-1.5-2-.9-5.4-5.6-2.6-1.4-4-.6-4 1.3-2-.9-3-2.4-3-1-24 .1-8-1.3-4 .5-6 2.2-6 .5-6 3.1-6 .3-6 1.8-4 0-12-2.2-2 .5-4 2.3-2 .4-2-.4-4-2.9-6 1.5-2-.9-5.5-6.5 .9-10 1.9-4 2.9-2 9.8-2.6 4-2.4 3.5-3 11.5-6 1.8-2 .9-2 .6-4-.3-2-2-4.2-4-4.5-4-2.6-6.4-2.7-11.6-8.9-4-.7-10 .4-6 1.4-4 .1-2-.4-6-3-4.1-.9-1.9-1.6 .3-2.4 4.2-4 .7-2-.2-4-1.8-4-6.9-8-1-2-.7-4 .3-6 1.1-.7 8 2.8 4-.3 2.9-1.8 1.1-2 .2-2-.6-2-5.6-7.5-2-7.8-1.4-2.7-8-8-.7-10 .3-2 3.2-8 1.3-6 2.7-6-.4-6-.9-2-3.5-4 1.4-2 2-.6 2.2-3.4 1.8-1.6 4-1.2 4 .7 4 1.9 4-.6 10-3.7 4 .2 6 2.4 1.3-2.1 .7-7 2-4.9 2-1.4 2.2-.7 1.8-2-.6-4 .6-3.9 4.3-10.1 3.4-6 .6-2-.3-3.1-1.4-2.9-2.6-2.1-4-.9-4.5 1 .3-2 5.5-8-.6-2-1.5 0-3.2 2.8-2 1.2-2 .3-2-.8-1.2-1.5-1.1-2-.3-2 .5-2 1.7-2 7.2-6 1.2-2.2 .6-3.8-.6-2.3-2-2.5-6-2-1.3-1.2-.7-2 .6-4 1.4-1.8 2-.9 4 1.7 2-.3 .9-.7-.3-2-3.9-2-3.5-6-3.2-1.9-2-.5-4 .8-4 3.9-2 .7-2-.7-1.2-2.3 1.9-6-.2-2-1-2-1.5-1.1-2-.2-2.8 1.3-.8 2 .4 8-2.8 4-2 1.1-2 .2-8.7-1.3-3.3-2-1.7-2-.8-2 2.3-6-1.8-1.6-2 .6-4 3.6-4 .3-4.9-2.9-1.1-2-.2-4-1.3-2-2.5-.4-1.2 .4-.9 2 2.4 4-.1 2-1.2 2-5 5.7-2 1.3-5 1-.9 2 0 8 1.2 2 4.2 4 .5 2-2 6.3-2 2.9-6 .1-1.4 .7-1.5 2 4.9 1.4 6-.3 1.4 .9 .7 2-2.1 1.2-2 3.5-4.9 11.3-5.1 5.2-8 6.2-3.5 4.6-.7 2 .6 2 3.4 4 2.8 8 1.4 1.7 4.2 2.3 2.1 2 .2 4-1.7 8-.8 1.8-2.4 2.2 .4 1.6 2-.9 2-2.2 2-.4 2 .1 3.5 1.8-1.5 2.1-4 1.5-4 .3-2 .9-2.4 5.2-.2 8-1.1 4-2.3 2.5-6 3.3-2 1.8zM19.2 614.7l-.8 .6 1.9 4 .1 2-3.8 12 .6 3.4 2 1.4 2-.4 2-1.3 2-2.2 1.5-2.9 1.5-6-4-4-3-5.4zM137.2 574.9l-2 .4-2 1.3-3 2.7-2.5 4 .1 2 1.4 2.2 6 5.5 6 .6 4.1-.3 1.4-2-3.4-6-1.3-6-2.8-3.6zM307.2 608.7l-1.5 2.6 .2 2 1.3 2 2 .2 2-1.5 .8-2.7-.8-2.2-2-1zM335.2 601.3l-.7 2 6.7 4.8 2 .9 4-.3 3.1-1.4 .5-2-1.9-2-1.7-.9-4-.9zM363.2 633.3l-2 .2-2.9 1.8-3.6 6-5 6-3.4 6-.6 2 1.5 2.8 2 .3 2-.9 6-.8 2-1.3 4-4.9 2-1.2 6 .1 1.4-2.1-2.7-4-1.1-6-1.6-2.2zM79.2 710.8l-.5 .5 1.5 4-.1 4 .6 2 4.1 4 2.4 .4 2-.9 6-5 10.3-6.5 .7-2-3-1.4-2-.1-12 1-8-.7zM139.2 716.7l-8 3.2-2 2.4-1.2 5-.6 12 .4 2 1.6 2 9.8 6.5 8 8.1 26 21.6 26 15 10 3.8 25.3 5 10.7 3.2 8 1.2 6-.6 3.3-1.8 2.2-2 1.1-2 .2-2-.8-3-2-2.7-2-1.4-10-4.5-4-2.7-2-2.3-4.5-9.4-3.1-4-14.4-11.9-8-5.2-4-1.5-2 1.2-4 4.4-2 .9-2-.9-1.8-5-.5-8-1.7-3.2-2-1.5-12.6-5.3-13.4-9-14-6.3-10-2.5-4 .3zM337.2 643l-6 2.3 .5 2 3.5 3.4 2-.7 2.2-4.7-.2-2.2zM359.2 761.1l-2.5 2.2-.9 4-4.9 8 .1 2 1.7 4 2.5 2.7 2 .5 2-.5 2-1.4 3.1-5.3 .8-4-.4-4 1.9-6 .1-2-1.5-1.3-2-.1zM65.3 671.3l3.9-1 2 .2 .6 .8-3.3 8-1.3 .8-2-.2-7.4-2.6 1.4-.6 .5-1.4 2.3-2zM55.2 705.3l2-1.3 1 1.3 .6 2-1.6 1.5-1.7-1.5zM13.2 779.3l0-1.4 .4 1.4 1.2 6 6.1 6 2.3 4.5 2 .7 2-1.1 2-3.3 2-1.4 6 1 3.8 1.6 .3 2-4.1 4.2-1.1 1.8-.3 2 1.8 6 3.6 3.9 2 1 2-.1 2-1.2 4.9-5.6 3.1-1.9 2 0 1.5 1.9 .3 2-.5 2-4.9 6-1.5 8 1.5 2 5.6 1.7 2 1.1 2 2.7 2 4.3 .5 4.2-.8 2-1.7 1.4-10 .1-2 .7-1.6 1.8-.4 2 .7 2 4.3 4 1.4 2 .2 2 .2 10-.5 8-3.9 6-1 4 .4 4 1.2 2 3 2.8 2 1.1 2 .2 2-.6 5.4-3.5 3.8-4 .2-2-1.5-2 .2-2 1.8-2 6.1-1.6 4-.1 4 .6 2 1.1 1.2 4-.1 2-2.6 4 0 4 .5 2 1 1.3 2 .4 4-.8 2 .9 2 2.2 2.4 4 .4 4-.8 3.1-2 5.1-2 2.7-2-.7-4.4-4.2-3.6-2-4-.4-6 2.1-2 .4-2-.4-4-2.1-8-2.4-4-4.6-2-.9-2 .2-3.3 2.1-.5 2 1.8 2 6 3.1 .9 .9 .5 2-1.4 1.9-2 .4-2 1.4-.5 2.3 2.5 1 2.8-1 1.2-1.8 2 .4 6 2.9 3.2 4.5 .8 .4 8 .2 6 2.4 6 1.5 4 0 6-2.9 4 .5 2.1 1.9 2.4 6 1.5 1.7 2 1.1 2 .3 2-.4 4-3.1 2-.8 2 .5 .3 .7-2.8 6 .2 4-107.7 0 0-63.7 2-.4 2-1.7 .7-2.2-.9-2-1.8-1.4-2-.6zM37.2 861.2l-1.9 2.1-.4 2 .3 2 2 2.8 2 1 2 .1 2.2-1.9 .5-2-.7-3.3-2-2.5-2-.8zM77.2 884.7l-3.8 2.6 3.8 1.6 4.5 .4 1.3-2-1.8-1.9-2-.8zM399.8 785.3l1.4-1.2 0 8-2.2-2.8-.3-2zM140.2 945.3l1-.3 2 .6 4.2 3.7-10.9 0 2.7-3.6z"/>
<path fill="#fec676" d="M149.9 561.3l68.9 0-1.5 4-2.2 2-1.3 2-.1 2 1.5 4.7 2 2.1 6 4.5 1.9 2.7 .7 2-.3 4-1.8 8 1.1 14-.3 8 1.8 12-.4 10 3.7 6 1.2 4-1 10 .1 8 2.3 12-1.6 12 1.1 4 5.5 7.9 3.3 6.1 2.4 8 .6 8 .8 2 2.4 2 2.5 .6 2-.2 8-3.8 4-1 14 .1 4-.8 6 0 6-1.2 4 .8 4 2.9 2 .8 2-.1 1.7-2.1 1.4-4 2.9-1.2 6-.8 2-.9 2.2-5.1 1.6-2 10.2-6 4 .2 2 .9 6 4.5 4 1.4 12 1.2 .9-2.2-1.4-6-.1-4 .9-2 6.1-6 5.9-8 .5-2-1-4 .1-2 2.4-4 7.7-5.4 2-1.1 2-.3 2 1.4 .7 1.4 1 6 2.3 1.5 4-.3 4-1.6 0 4.8-2 .5-1.2 1.1-.6 2 1.8 1.8 2 .3 0 78.3-4 .8-2-.2-6-2.8-4 .8-2-.4-.6-2.6 .5-6-.8-8 .6-2 4.3-6 .2-2-.8-2-1.9-2-9.5-4.7-2-.3-2 .9-1.2 2.1 .8 10-1.6 2.7-2 .6-3.1-3.3-6.9-4.9-12.7-5.1-1.6-2-1.7-6-2-3.4-2-1.1-2 .3-3.4 6.2-2.6 1.8-2 0-6-2.6-2 1.2-1.8 3.6-.6 2 .1 2 4.2 6 .6 2-.4 2-3.3 4-4.8 3.8-2 .7-2.6-.5-1.8-2 .8-6-.1-2-.9-2-1.4-1.2-4-1.5-2-.2-2 .9 0 2 6.2 10-.1 2-2.3 6 .2 2 4 10.2 2 1.1 10-4.2 4 0 6-1.7 2 .6 1.3 4-.6 4-2.7 1.8-4 1.4-.6 .8-2.1 6-3.8 6 .1 2 2.4 2.9 6 2.9 3.3 6.2 4.7 3.1 8 6.9 1.5 2 2.5 6 8 7.9 4 1.4 2-.1 4-1.3 5.4-3.9 4.6-5.2 4-1.4 4 .5 3.6 2.1 6.4 5 4 .6 3.2-1.6 1.2-4 1.6-2.4 0 76.8-6 .8-4.8-1.2-3.2-1.5-2 .5-4.9 5-7.1 3.2-2 3.4-3.6 9.4 .1 2 1.5 2.3 10 2.2 3 7.5 3 2.7 2 .5 14 1 0 13.8-47.4 0-2.6-2.7-4-2-2-.3-4.6 1-4.8 4-22.1 0-.5-1-2-1.2-2.1 .2-2.3 2-34.4 0 .8-3.6 1.2-2.4 2.8-2.1 2-.1 6 1.6 4-.4 8-4.4 2.4-2.6 .2-4-1.1-2-3.6-4-.3-2 3.9-8 .1-2-1.4-6 .7-4 4.4-6 .2-2-.6-2-2.9-2.8-2.9-1.2-3.1 .2-14 7.4-10-3.3-4-2.5-4-1.3-12 .4-6 3.5-2 .2-2-.8-4.3-3.8-11.7-6.4-4-1.5-8 .3-16 3.2-6-.2-4-1.2-12-5.2-10 .1-16-5.6-1.3-1.5 5.3-7.9 5.2-12.1 .5-4-.7-2-3-3.6-5.3-2.4-12.7-7.9-6-2.1-3.3-2-6.7-5.2-3.7-4.8-.3-2 2.9-10 0-6 2.1-2 3-1.7 1.7-2.3 .9-8 1.4-.5 2 .8 6 4.4 2-.3 2-1.2 7.8-7.2 5.4-8 2.8-1.4 2-.1 4 1.5 12 9.9 10 4.1 14 8.1 12 4.2 10 1.9 14.4 3.8 9.6 3.5 10 1.6 6-.5 4-1.4 4-2.7 1-2.5 .1-2-1.1-4.9-2-3.6-2-2.2-2-1.4-8-3.6-4-2.7-10.6-13.6-11.4-9.7-14-10.7-2-.9-2 1.6-1.9 3.7-2.1 2.4-2 .9-2-.9-1.4-4.4 .4-10-1-2.3-4-2.7-8-2.2-5.6-2.8-10.4-8.7-19.4-11.3-2.7-8-6.1-8-.8-2 0-2 2.8-4 .3-2-3.9-14-.8-6 .5-2 1.6-2 5-4 .7-2 .1-6 .7-2 1.9-2 .4-2-1.8-4-.9-10-2.1-8 1-2 7.5-2.6 6.2-5.4 5.1-10 3-4 1.4-4-1.7-12.4-3.3-7.6-2.7-2.7-2-.1-2 1.2-6 9.7-2.3-.1-1.7-2.8-1.9-7.2 0-2zM313.2 918.6l-2 1.2-.4 1.5 .4 .8 2 0 .8-.8 0-2zM323.2 925.1l-2 .4-1.6 1.8-.5 2 .5 4 .9 2 2.7 1.8 4 .6 1.2-.4 1.6-2 .1-2-.9-4-2-2.6zM341.2 864.9l-2.8 2.4 .8 .9 6 .7 2-.5 1-1.1-.2-2-2.8-1.8zM353.2 932.9l-.7 .4 .8 2 1.9 1 4 .5 2.1-1.5-.3-2-1.8-1.7-2-.2zM379.2 865.8l-2 1.7-4 6.5-2 .7-6-1.6-2 .7-.8 1.5 2.5 2 2.3 .9 2 2.2 .4 2.9-.3 6 1.3 2 2.6-.2 4.3-1.8 1.7-2.1 3-5.9 3.3-4 .2-4-1.6-4-.9-1.7-2-1.8zM261.5 561.3l21.9 0 1.8 1.6 2 .4 3.1-2 8.4 0 3.6 6 .8 4-.2 2-1.7 3.5-2 1.5-12 4.1-4-.2-4-2.3-4-4.3-4-7.6-2-2.5-6-2zM315.8 561.3l15.3 0-1 2-2.4 2-2.5 1.4-4 .6-2-.5-2.3-1.5zM338.4 563.3l2.8-.6 2 1.5 3.1 5.1 .5 2-.4 2-2.4 2-5 2-3.3 2-2.5 4.9-1.3 1.1-3.6 0-1.4-2 3.7-6 1.8-10 2.8-3zM358.4 561.3l21.9 0 .9 4.3 2.8 5.7 2.9 8 .4 2-.6 6 2.3 2 2.2 .2 2-.7 1.6-1.5 2.4-4.9 1.3-1.1 2.7-.6 0 32.8-2-.4-2.8-1.8-1.2-8.8-2-.3-2 1.3-1.8 3.8 .4 8-1.1 6 .5 2 6.6 6-.6 .5-3.7 1.5-4.3 .2-8-5.4-6.5-2.8-2.1-2-.3-2 .9-2 8.5-10 .7-2-.4-6 1.4-6-1.2-2-1-.2-2 .1-2 .9-1.2 1.2-1.3 4-1.4 2-2.1 .9-4-.8-7.4-4.1-.2-2 1.2-4-.3-2-1.3-2.6-5.2-3.4-1.1-2-1.1-6 .5-2 5.8-6zM397.1 561.3l4.1 0 0 6.8-2-.2-2-1.1-.8-1.5zM33.2 569.3l2-.4 .2 .4-.2 .7zM13.2 581.3l4 .8 2 1.2 .7 2-.8 2-1.9 1.2-4 .8zM387.1 655.3l2.1 .6 1.8 1.4 1.3 2-.2 2-.9 1-2 .6-2-1.3-1.4-2.3-.5-2zM13.2 671.3l0-.9 2 1.8 1.6 5.1-.2 2-1.3 2-2.1 1.1zM13.2 703.3l0-1.8 2 1.5 1.3 2.3 .8 6-1 4-3.1 2.4zM110.9 721.3l4.3-1.6 2 .9 2 2.1 2.3 4.6-.3 2.9-2 2.4-2 .4-2-.6-2.3-1.1-2.2-2-1.1-4 .1-2zM330.9 741.3l2.3-.1 2 .5 1.5 1.6-.9 2-2.6 1.7-2 .1-2-1.7-.6-2.1zM92.2 743.3l1-.6 2-.1 6 3.2 6 2 2 1.6 4 5.3 2 .7 4-1.8 4-.3 3.3 2 .7 1.9-.4 2.1-1.6 2.5-5.3 3.5-1.9 2-1.2 4-.1 6-7.5 8.4-2 1.4-2 .2-2-1.4-1.8-8.6-3.8-4-1.2-2 .3-2 2-4-.3-2-7.2-2.3-2-1.2-2.9-4.5-4-4-1-2 1.9-2.6zM29.3 827.3l1.9-.8 2 2.3 3.7 6.5-.1 4-3.6 8.8-3.9 5.2-2.1 1.1-2 0-8-1.7-4-.2 0-17.5 8 1.9 2.5-3.6zM25.1 889.3l8.1-1.1 1 1.1-1.2 2-1.8 .8-10 1.6-2.1-.4 2.1-2zM15.7 907.3l3.5 .2 3.4 1.8 1.3 2 .1 2-2.1 6 .8 2 2.5 1.8 4 1.3 2 2.2 1.1 2.7 1.2 8-.6 2-4.5 6-.9 4-12.1 0-.2-2.9-2-1.4 0-37.7zM399.8 911.3l1.4-1.3 0 8.8-1.5-1.5-1-2 .1-2zM283.9 925.3l1.3-1.2 3.9 1.2 1.2 2-.9 2-2.2 1.4-2-.2-1.4-1.2-.5-2z"/>
<path fill="#fdae61" d="M197.1 573.3l2.1-.1 2 .8 1.4 1.3 2.6 5.3 6 2.2 3 2.5 .4 2-1.3 2-6.1 3.1-1.6 2.9 1.3 6-.4 6 3.9 4 5.8 4 2.1 2 1 2 1.3 6 .1 18 .5 3.2 2.1 6.8-1.5 8 1.1 10-.6 12-2.7 10 .2 2 1.6 4 1.3 2 2.6 2 5.9 3.3 2 1.7 3.9 5 2.3 6 .1 8 .9 4 2.8 3.9 2 1.6 4 1.6 2-.6 5.6-4.5 4.4-2.2 4-.8 6 .6 10 3.2 4 2.1 3 3.1 6.3 10 .5 2 .4 12 3.8 11.6 4.7 10.4 1 10 3.4 8 3.9 14 .4 4-1 8-.9 18 .6 8-.7 4-1.4 2.1-10 9.1-3.4 6.8-1.8 2-4.8 2.4-4 .7-6-2.1-10 1.2-12-1.6-6 2.6-4 1-4 .3-10-.8-4.7-1.7-2.4-2-4.9-6.3-2-1-2-.1-6 1.5-7 5.9-5 2.3-6 1.1-6-1.2-6.8-4.2-9.2-9-6-2.2-3.8-2.8-1-2 .3-2 2.7-4 .8-2 .2-2-.6-2-4.5-8-2.6-6-1.5-2.1-4-2.9-6-3.4-8-3.1-2.1-2.5-.3-2 .7-2 7.3-6 2.4-7.8 2-2 4-1.5 12.5-.7 7.5-4.7 6-1.4 4-1.7 4 1.1 4.9 4.7 3.1 1.6 8 .3 10 2.8 7.4 1.3 14.6 4.7 8 3.9 4 1.1 8 .8 10-1.5 6 0 1.5-1 .5-1.5-2-11.5-2-4.6-4-5.9-2-1.9-8-4-4-2.9-9.5-9.7-21.5-18-7-6.8-2-1.4-2-.6-.6 .8 1.3 4 0 2-1.4 4-1.3 1.8-2 1-2-1-1-3.8 .4-4 .6-2.5 2-2.6 2.2-.9-1.3-2-4.9-5.4-2-.9-6-.1-4-.9-2-.8-4.8-3.9-2.9-6-8.3-5.6-12.9-14.4-4.5-8-3.9-12-1.4-6 0-4 .7-3.5 2-2.6 6.4-3.9 1.8-2 1-2 .6-4 3.3-8 1.7-6 .4-4-.4-6 1.8-6 3.4-4.4 2-1.2 7.3-2.4 1.4-2-.3-2-2.6-4-.2-2 3.5-12 2.9-5.7 2.1-2.3 5.9-3.1 3-6.9zM399.7 701.3l1.5-1.3 0 14.4-8-.8-2-.9-2.4-3.4-.3-2 .7-1.7 2-1.1 6-1.3zM399.4 735.3l1.8-1.9 0 11.9-2-2-.5-2 .1-4zM373 845.3l4.2-.6 2.1 .6 1.9 1.7 .9 2.3-.3 2-1.3 2-3.3 1.2-2-.3-2-1.1-1.2-1.8-.5-2 .1-2zM392.4 855.3l.8-1.4 2-.6 4.3 2 1.7 2.2-1.5 1.8-4.5 1.8-2-1-.5-.8zM339.3 905.3l3.9-.9 2.5 .9 .4 2-.9 4.2-2 4.7-2-.2-2-1.4-1.9-3.3-.1-4zM346.6 921.3l.6-.4 2 .4-2 .7zM392.6 943.3l2.6-1.4 6-.6 0 8-13.2 0 .8-2z"/>
<path fill="#f88e52" d="M181.9 621.3l5.3-1.1 8 2 6 .2 2 1.1 5.9 5.8 4.1 6.5 1.3 3.5 1.7 10-.5 10 3.4 12-.2 10-1 4-4.3 8-2.4 2.8-4.2 3.2-1.1 2 1.3 1.7 6 1.9 12 2.2 4 1.6 2 1.4 3 3.2 2.2 4 .8 4 .2 6 1.8 5.2 4 4.9 6 4.7 2-.2 5.9-6.6 2.8-2 5.3-1.5 4 .3 8.3 3.2 5.7 3.7 3.7 4.3 3.7 6 1.2 4 1.5 10 1.9 6.4 5.3 13.6 2.7 12.8 4.6 15.2 1 8-.1 6-.9 8-3.1 12-1.5 3.7-2 1.9-6 1.3-2 2.5-1.9 4.6-2.1 3-4 3.4-6 3.8-4 .7-4-1.3-4-.5-6 2.6-2-.1-6-2.5-4-4-4-.9-2 .6-1.2 1.2-.2 6-1.3 2-3.3 1.5-2 .2-2-.7-3-7-7-9.3-2-1-2 .3-6.8 4-4.2 4-1.3 2-3.1 8-2.6 2.8-2 1.2-4 1.3-6-.4-4.9-2.9-3.1-4-1.1-4 .7-8-.5-2-3.8-4-4.1-8-5.2-3.8-2.1-2.2-.7-2 .2-6-2.5-8 0-2 2.7-6 1.1-6 1.1-2 2.2-2.2 4-2.2 2 0 6 1.9 2 0 4-.8 8-.4 6-2.4 4.5 .1 11.5 3 8 3.6 6.6 1.4 9.4 4.7 6 2 4 .4 6-.8 4 .2 2.4 1.5 3.6 7.7 4 6.1 2 1.5 2 .5 2-.4 2.3-1.4 .5-2-.8-2.5-4.9-5.5-.6-2 1.3-6-.1-2-5.7-17.6-4-7.5-4-5.5-2-1.7-6-2.3-6-3.8-25.3-21.6-16-16-10.7-12.8-6 0-2-.6-16-9.6-10.3-11-4.6-6-2.3-4-4.6-14-.2-4 .4-2 1.6-2.6 4-2.4 4-.5 6 1.4 2-.6 1-1.3 .6-2 .1-4-1.5-12 .8-6 3.9-8 2.8-10 2-2zM201.3 747.3l1.9-2 2 .7 1.4 3.3-.8 4-2.6 2.2-2.3-2.2-.1-4z"/>
<path fill="#f46d43" d="M191.9 633.3l3.3-1.6 2-.3 2 .8 .9 1.1 1.1 2 2.8 10 1.2 1.9 2.4 2.1 .9 2 1 6 5.2 8 1.7 4 1 8-1 6-1.6 4-3.6 5.3-4 3.3-6 3-4 .6-2-1-8-7.3-2-.2 .3 2.3 1.7 3.9 4 6.3 2 2 2-.1 2-1.6 2-.2 6 2 18 3.3 4 1.2 2.1 1.2 2.3 2 2.7 4 1.1 4 .6 6 1.3 4 3.9 5.6 8 8.1 2.2 .3 1.8-1.9 4-6 2-1.9 2-1.3 4-1 4 .3 6 2.3 5.4 3.5 3.8 4 3.9 6 1.4 4 3.5 14.3 7.1 19.7 6.1 26 .4 10-1.3 8-2.3 5-4 4.1-2 .5-2-.6-2-1.3-13.1-17.7-10.9-27.4-4-7.8-4-6.2-2-1.8-8-2.8-6-3.5-13.2-10.5-9-8-18.6-20-9.2-15.3-2 .1-4 2.1-2 .1-6-1.9-8-4.3-9.1-8.8-7.6-10-2-4-2.7-8-.9-4 .4-4 1.9-2.7 2-1.1 4-.1 4 1.2 12 6.7 2 .7 1.9-.7 1.4-8 8.2-14 1.4-4-.9-2.1-6-3.9-1.3-4 .2-4 1.1-2.2 2-1.7zM175.2 651.3l2-.4 .2 .4zM203.1 747.3l2.1 1.2 .5 2.8-.7 2-1.8 1.4-1.7-1.4-.4-2 .4-2zM201.7 811.3l3.5-.9 4 .2 12 4.6 6-.2 4 .5 18 8.7 6 1.7 2 1.8 3.8 5.6 .6 6 4.6 2 11 1.4 2 .7 2.5 1.9 3.1 4 .7 2 .2 2-1.6 4-3.9 4-3 1.9-2 .6-4 .1-6-.8-3.8-1.8-6.2-7.9-4-2.8-2-.1-6 2.1-2-.1-6-3.3-2-.6-6 1.5-8 1-8 3.3-4 .8-2-.3-6-2.5-8 .2-6-2.3-4-3.4-8.7-9.6-1.2-2-1.4-6 .5-4 4.8-7.7 2-1.6 6-.5 8-2.5zM187.1 865.3l2.1-1 2-.1 6 1.9 2 1.2 1.7 2 .7 2-.2 2-.8 2-1.9 2-3.5 1.5-4 .1-3.7-1.6-2-2-1.5-4 1.1-4z"/>
<path fill="#e64e35" d="M195.7 657.3l3.5-1.1 2 .1 4 1.5 7.3 7.5 2.2 4 1.1 4 .2 4-.6 4-1.3 4-2.3 4-4.6 4.6-6 2.4-4-.2-6-4.2-4.4-4.6-1.3-2-1.2-4-.3-8 1.9-6 5.3-6.9zM157 673.3l4.2 .5 6 2.9 8 5.8 5 4.8 7.8 14 3.5 8 .3 4-.7 2-1.8 2-2.1 .8-4-.4-8-3.5-6-4.8-8.9-10.1-4.8-8-3.1-10 .1-4 .7-1.7 2-1.8zM199 709.3l2.2-1.4 2-.3 6 .4 14 2.5 4 1.5 1.9 1.3 2.1 2.1 2.1 3.9 1.9 9.4 2.2 4.6 9.8 11.9 2 2.1 2 .9 2-1.4 2.8-5.5 3.1-4 2.1-1.6 4-1.2 4 .2 4 1.4 5.2 3.2 4.2 4 4 6 1.7 4 2.9 10.9 7.5 21.1 5.4 22 1 8 0 8-1.2 6-2.7 4.3-2 1.2-2 .3-2-.4-2-1.4-6-6.3-4.4-5.7-2.5-4-13.1-29.1-6-10.6-2-1.9-2-.9-6-1.3-4-1.8-14-10.1-11.3-10.3-16.2-18-3.8-6-4-10-.3-4 .3-2zM202.9 749.3l.3-.4 .5 .4 .8 2-1.3 2.4-1.1-2.4zM197 817.3l6.2-.7 6 .2 10 3 10 0 4 1.4 6.3 4.1 5.7 6.1 2.7 3.9 .5 2-.2 2-1 2-2 1.8-2 .8-3.6-.6-6.4-3.1-4-.4-2 .4-8.5 5.1-9.5 2.6-20-1.9-4-2.3-5.8-6.4-2-4 0-4 4-6 3.8-3.1 4-1.4zM267.4 847.3l3.8-.5 4 .2 4 2.2 1.3 2.1 .3 2-.5 2-1.3 2-2.3 2-3.5 1.2-4-.3-4-2.4-1.9-2.5-1-4 1.1-2zM188.1 869.3l3.1-1.3 2 .1 2.9 1.2 2 2 .3 2-.9 2-2.3 1.5-2 .5-2-.3-2-1-2.1-2.7-.1-2z"/>
<path fill="#d73027" d="M197.9 659.3l3.3-.3 2 .5 2 1 4 3.2 4 5.6 1.6 6-.5 6-3.1 6.8-4 4.2-4 2-2 .4-4-.5-4-2.4-2.7-2.5-2.9-4-1.6-6 .1-6 2-6 5.1-5.7zM156.3 675.3l2.9-.5 6 2.1 6 4 7.1 6.4 4.1 6 6.2 12 1.3 6-.3 2-1.2 2-1.2 .9-4 .2-6-2.1-6-4-8.4-9-5.5-8-3.1-8-.6-6 .5-2zM205.3 709.3l7.9 .5 10 2.1 4 1.8 2 1.6 2.7 4 1.9 8 2.8 6 10.6 13.6 2 2.3 2 1.3 2-.7 3-6.5 3-4.4 2-1.7 4-1.5 4 .1 6 2.6 4 3 3.6 3.9 3.6 6 4.8 15.7 5.4 14.3 6.1 24 1.2 10-.3 8-2.1 6-2.1 2-2.2 .5-4-1.6-6-5.7-4-5.2-6.6-12-11.4-24.9-4-6.8-2-2-2-1.1-6-.7-4-1.4-14-9.5-10.4-9.6-15.9-18-4.8-8-2.5-8 .2-4 .9-2 2.5-1.6zM196.6 821.3l6.6-.6 6 .8 9.3 3.8 3.8 2 2.4 2-13.9 12-3.6 1.8-6 .5-10-2.1-4-2-3.8-4.2-.8-2 .4-4 2.2-3.4 2-1.8 4-1.7zM227.6 829.3l1.6-.5 2.1 .5-2.1 .4zM269.8 853.3l1.4-1.3 2-.4 2.3 1.7-.8 2-1.5 .8-2-.2-.9-.6zM190.9 873.3l.3-.8 2-.5 .9 1.3-.9 .7z"/>
<path fill="#be1826" d="M197.3 661.3l3.9-.5 4 1.5 2 1.4 4.8 5.6 1.7 6-.5 6-2.7 6-3.9 4-3.4 1.7-2 .3-4-.5-5-3.5-3-4-1.7-6 .2-6 2.2-6 3.3-3.7zM156.1 677.3l3.1-1.2 6 1.9 6 4 7.5 7.3 5 8 3.8 8 .9 6-1.2 2.7-2 1.1-2 .1-6-1.8-6-4.1-5.9-6-6.1-8-2.9-6-1.7-8 .2-2zM203.7 711.3l3.5-.9 6 .3 8 1.7 6.1 2.9 3.3 4 2.6 8.7 2.6 5.3 11.4 15.2 4 4.2 2 0 4.2-9.4 1.8-2.8 2-2 4-1.7 4 .1 4 1.4 4 2.6 4.4 4.4 2.8 4 1.9 4 4.9 15.8 4.7 12.2 2.3 8 3.6 16 1 8-.2 6-1.2 6-2.2 3.1-2 .7-4-1.3-4-3.2-6-7.4-6.8-11.9-13.2-28.5-4-5.3-2-1.4-6 0-4-1-12-7.3-11.6-10.5-15.8-18-3.8-6-2.8-8 0-4.8 .4-1.2zM199.2 825.3l4-.1 4 .6 3.1 1.5 1.4 2 0 2-2.6 4-2.1 2-3.8 1.9-2.8 .1-3.2-1-5.5-3-2.5-2.9-.3-1.1 .5-2 1.8-1.9z"/>
<path fill="#a50026" d="M196.2 663.3l3-1 2 0 4 1.4 4.1 3.6 1.9 2.9 1.2 3.1 .2 6-2 6-3.4 4.3-4 2.2-4 .3-4-1.6-4-4-2.3-5.2-.3-6 1.6-6 3-4zM156.3 679.3l.9-1.1 2-.8 4 .7 6 3.4 8 7.1 4.6 6.7 4.1 8 1.4 6-.2 2-1.4 2-2.5 .8-6-1.5-6-4-5.2-5.3-6.1-8-2.1-4-2.2-8zM203.4 713.3l3.8-1.8 6 .1 10 2.5 4 2.5 3.1 4.7 2.6 8 2.3 4.2 14 19.2 2 2.2 2 .8 2-3.3 3.2-9.1 2.8-3.5 2-1.3 4-.9 4 .8 4 2 5.4 4.9 2.8 4 2.8 6 11.4 34 3 14 1.1 8-.5 9.1-2 4.9-2 1.3-2 0-2-.8-4-3-4.7-5.5-8.4-14-12.9-28-4-5.7-2-2-2-.7-4 1.3-4-.4-6-2.9-6-3.8-10.9-9.8-14-16-4.4-6-3.4-8-.5-4 .3-2z"/>
<path fill="#e0f3f8" d="M249.7 579.3l1.5-.3 2 1 6.7 7.3 4.1 6 7 8 1.2 2 .9 8 4.1 5.4 3.3 10.6 4.2 6 .4 2-.5 8-2.4 8 .6 8 .8 4 1.6 2.7 2 .6 6 .1 2 .6 2 2.1 2.3 9.9-.7 2-3.6 3.6-2 1-4 .3-2 .9-1.4 2.2 .7 6-3.4 6-3.4 12-2.9 4-3.8 4-3.8 2.6-12 2-4-.4-2-1.5-2.3-4.7-.4-4 .9-6-.2-4-2-6-4.1-8 .8-8-4.2-14-.2-10-4.5-16-1.4-16 .8-4 3.6-6 1.7-4 3.3-18 .7-8 3.5-5.7zM79.6 617.3l3.6-.4 6 3.1 4.8 1.3 2.6 2 1.7 6 4.5 8 1.9 6 0 4-1.4 8-2.1 2.6-8 2.3-2 .3-2-.4-1.4-2.8-1.4-6-2-2-5.7-2-2.1-2 2.5-4 .7-2-.3-8 1.7-2.1 .6-1.9-.5-2-2.1-.8-2 2.8-.4 2-1.6 1.1-2 .4-2-.5-.9-1-1.7-6-.3-4 .9-1.3 2-.7 6 .7zM292.5 691.3l2.7-.9 2 1.5 .5 1.4-.5 2-2 1.5-2 .1-2.7-1.6-.1-2zM40.1 711.3l3.1-.9 2 .3 2 1.1 1.1 1.5 1.2 8 3.2 10 1.4 2 3.1 2 .8 12 1.2 8-1.1 6-.1 8-2.5 4-.2 2 1.9 1.4 1.8 2.6 .6 2-.3 2-1.5 2-2.6 1.6-2 .1-2-1.7-.6-2 .6-3.1 2-4.2 1.7-.7-2.6-2-5.1-1-8 2-14 1.3-2-.5-2.5-1.8-1.7-2-1.3-4 .2-8 2.5-6 1.3-6-.1-4-1.9-6 .3-4 .9-2 1.9-2 13.6-12zM144.4 719.3l4.8-.2 4 .8 12 4.5 4 1.7 11.4 7.2 14.6 7 2.5 3 1.6 10 1.9 3.6 2 .7 2-.7 4-3.5 2-1 4 1.4 10 5.9 7.1 5.6 5.9 6 2.3 4 2.7 8.5 2 2.8 4 2.8 8.2 3.9 3.8 2.5 1.1 1.5 .4 2-.7 2-1.8 2-3 1.6-6 .1-6-.8-10-2.7-26-4.4-10-4.1-24-14.1-16.4-13.6-10.7-10-10.1-12-2.4-4-2.9-8 .2-4 1.2-2 2.1-2 5-3zM76.8 831.3l2.4-.5 24 .9 6-.6 4 .7 6 2.8 10.5 6.7 3.5 4 .6 2-.2 2-2.4 4.4-2 1.8-2 .9-10 1.1-10 5.2-2 .3-6-2.3-4 .3-12 7.9-4 1.1-4-.4-2-2.1-3.4-8.2-.9-4 1-4 3.3-6-.1-8 .4-2 .9-2zM203 893.3l6.2 .7 10 6.5 2 .4 6-.9 2 .2 11 7.1 1.3 2 0 6-2.1 10 .2 2 2.7 4-.1 2-4.5 4-4.5 7-2 1.4-8 .2-6 2-4-1.4-6-4.5-4-1.2-8 1.3-8 2.6-2-.1-6.1-1.3-5.9-2.3-10-1.6-6-3.5-6-1.9-6-2.9-2-.4-6 1.6-2-.4-2.4-2.6-.6-2-.2-4 1.2-2.9 2-1.4 4-.9 2-1.2 2-3 2.9-6.6 3.1-2.6 6-2 6-.2 2-.9 6-4.6 10-2.7z"/>
<path fill="#c2e4ef" d="M254.1 605.3l3.1-1.6 2-.1 2.7 1.7 .7 2 .1 4 1.5 10 1.6 2 3.4 1.8 2 2 2 4.2 2.1 6 0 14 2.3 10 1 18-1.2 4-2.2 2-6 1-2 .9-4 3.2-2 .7-4-.6-4.4-3.2-1.6-2.4-5.1-11.6-.9-4-1.1-12-3.1-8-.4-4 1.1-6-2.8-10 .6-4 2.1-4 5.6-7.5 4-3zM256.3 699.3l2.9-1.3 4 .2 4 1 2 1.5 4 6.4 .9 4.2-1 4-2.4 4-3.5 2.6-4 1.1-6 .1-3.7-1.8-1.2-2-.4-4 3.1-14zM141.7 723.3l3.5-1.5 6-.3 6 1.5 10 3.6 11.6 6.7 14.4 7 2 1.4 2.4 3.6 1.4 8 2.2 4.2 2 .6 2-.7 4-3.1 2-.6 2 .4 4 1.9 8 4.5 6.2 4.8 5.7 6 2.1 4 2 8.5 2 4.1 2 2 9.6 5.4 2.4 1.9 .7 2.1-.7 1.4-2 1.3-6 .3-12-2.5-18-1.9-10-1.7-10-4.3-22-13.1-6-4.5-14.7-13-9.8-10-4.5-6-4.1-8-1.7-6 .1-2 .8-2zM45.7 757.3l1.5-1.2 2 .4 0 2-2 2.9-2-1.2zM86.5 837.3l4.7-.1 8 2.4 12-.9 4 .2 4.1 2.4 1.5 2 .8 2-1.1 2-9.3 4.3-4 1.3-12 1.3-4-.1-2-1-6.8-9.8-.4-2 .7-2zM201.8 899.3l3.4-.6 2 .3 4 2.2 12 10.3 7.4 9.8 .1 2-1 2-5.2 4-4.1 6-5.2 2.2-2-.1-6-2.3-4-.8-20 .4-6-3-7.1-2.4-2.9-2-.6-2 2.5-6 .4-2-1.5-8 .5-2 1.6-2 3.1-1.2 6 2 2-.7 .8-2.1 1.6-2 3.6-1.2 10 .3z"/>
<path fill="#a3d3e6" d="M256.6 635.3l2.6-.5 2 .3 2.1 2.2 .8 4 .3 8 4.8 8.5 1.5 5.5 .6 10-.6 2-1.5 .9-4 .2-6 1.4-2-1.2-1.8-3.3-.6-6-3.6-4.8-1.3-3.2-.6-10 .4-4 3.3-8zM259.9 707.3l3.3-.6 2 .5 2.8 2.1 1.3 2 .3 2-.4 2.2-2 2.9-2 1.3-4 .7-2-.2-2.1-.9-1.4-2-.2-2 1.1-4 1-2zM143.4 725.3l3.8-1.6 6-.1 6 1.4 10 3.6 11.7 6.7 10.3 4.9 4 2.8 2 3 2.1 9.3 1.9 2.6 2 .6 2-.6 4-2.6 2-.5 8 3.2 8 4.7 5.4 4.6 3.5 4 2 4 3.1 13.7 2 3.3 3.5 3 1.4 2-2.9 .8-6-.6-10 .2-12-.9-6-1-10-3.8-24-14.4-6-4.6-13.2-11.7-9.5-10-4.4-6-3.7-8-1-6 .4-2 1.3-2zM196.3 909.3l2.9-1.1 4 .2 4 3.1 6 1.7 4 3.3 1.3 2.8-.5 2-4.8 8.2-2 1-2-.1-6-2-6-1.2-4-1.8-1.9-2.1-1.2-4 .5-4 2.6-3.9z"/>
<path fill="#84bad8" d="M149.2 725.3l4-.2 4 .7 10 3 26 13.5 2.9 3 1.1 2.4 1.8 7.6 2.2 3 2 .6 2-.6 4-2.3 2-.3 8 3.2 8 4.6 6.4 5.8 2.7 4 1.9 8 .8 8-.4 4-2.7 2-6.7 1.1-12-.3-8-1.6-6-2.3-4-2.2-16-9.5-8-5.4-12-10.2-7.8-7.6-7-8-3.9-6-2.2-6-.6-4 .2-2 .9-2 2-2z"/>
<path fill="#679dc9" d="M149 727.3l2.2-.6 4 0 12 3.1 24 12.2 4.1 3.3 1.9 4 1.5 6 2.5 3.5 2 .5 6-2.6 2-.3 10 4.2 6 3.7 5.5 5 3.4 6 1.3 10-.8 6-1.6 2-1.8 1-6 1.1-10-.1-8-1.5-8-3.4-18-10.8-8-5.5-16.7-14.8-7.1-8-4.4-6-2.6-6-.6-6 .6-2 1.5-2z"/>
<path fill="#4c7db8" d="M149.1 729.3l4.1-1.3 4 .2 8 1.8 4 1.5 24 12.6 2.7 3.2 2.5 8 .9 2 1.9 1.9 2 .5 6-2.3 2-.2 8 3.2 8 4.6 4.6 4.3 3.4 6 .8 4 .3 6-.7 4-1.1 2-3.3 2.3-6 1.1-8 0-8-1.6-8-3.4-24-15-6-4.7-11.6-10.7-7.1-8-4.3-6-2.3-6-.4-4 1.4-4z"/>
<path fill="#3c5aa7" d="M155.1 729.3l6.1 .7 8 2.3 22 11.2 4 3.5 3.8 10.3 2.2 2.3 2 .5 6-2.2 2 0 10 4.2 6 3.7 5.2 5.5 2.4 6 .4 8-1.1 4-.9 1.3-4 2.5-6 1-8-.3-6-1.3-8-3.5-18-11-8-5.6-10.5-9.1-6-6-6.6-8-3.7-6-1.4-6 .9-4 1.6-2 1.7-1.1z"/>
<path fill="#313695" d="M152.7 731.3l2.5-.6 4 0 8 1.7 22 10.6 4 2.7 2 2.3 3.4 9.3 2.6 2.7 2 .4 6-1.9 2 0 8 3.3 6.3 3.5 4.6 4 3.4 6 1 8-.7 4-1.1 2-3.5 2.7-4 1.1-6 .4-8-1-6-2.1-4-2-22-13.9-6-4.5-10-9.1-7-7.6-4.4-6-2.8-6-.5-4 1.5-4z"/>
<path fill="none" stroke="#000" stroke-width="3.2" stroke-linecap="round" stroke-dasharray="0 7.69" d="M265.1 636.1h0.01M161.3 686.1h7.69M165.2 689.9h7.69M161.3 693.8h15.38M165.2 697.6h15.38M169.0 701.4h7.69M172.8 705.3h7.69M176.7 709.1h7.69M180.5 713.0h0.01M215.1 724.5h7.69M219.0 728.4h7.69M161.3 732.2h7.69M215.1 732.2h15.38M157.5 736.1h23.07M219.0 736.1h15.38M153.6 739.9h30.76M222.8 739.9h15.38M157.5 743.7h38.45M219.0 743.7h23.07M265.1 743.7h0.01M153.6 747.6h46.14M222.8 747.6h15.38M269.0 747.6h0.01M157.5 751.4h46.14M226.7 751.4h15.38M265.1 751.4h7.69M161.3 755.3h46.14M230.5 755.3h15.38M269.0 755.3h7.69M165.2 759.1h46.14M234.4 759.1h7.69M265.1 759.1h15.38M169.0 763.0h46.14M245.9 763.0h0.01M269.0 763.0h15.38M172.8 766.8h46.14M265.1 766.8h23.07M176.7 770.7h46.14M269.0 770.7h15.38M180.5 774.5h38.45M265.1 774.5h23.07M184.4 778.3h38.45M269.0 778.3h23.07M188.2 782.2h38.45M272.8 782.2h15.38M199.8 786.0h23.07M269.0 786.0h23.07M203.6 789.9h15.38M272.8 789.9h23.07M276.7 793.7h15.38M280.5 797.6h15.38M276.7 801.4h15.38M280.5 805.3h15.38M284.4 809.1h15.38M288.2 813.0h7.69M292.0 816.8h0.01M295.9 820.6h0.01M195.9 828.3h30.76M192.1 832.2h38.45M188.2 836.0h46.14M199.8 839.9h23.07M207.5 901.4h0.01M211.3 905.2h0.01M207.5 909.1h0.01M211.3 912.9h0.01M207.5 916.8h0.01"/>
<g fill="none" stroke="#000" stroke-width="1.35" stroke-dasharray="2.1 2.1"><circle cx="207.3" cy="755.4" r="23.8"/><circle cx="207.3" cy="755.4" r="47.9"/><circle cx="207.3" cy="755.4" r="72.7"/><circle cx="207.3" cy="755.4" r="98.8"/><circle cx="207.3" cy="755.4" r="126.6"/><circle cx="207.3" cy="755.4" r="156.7"/><path d="M17.2 755.4L397.4 755.4"/><path d="M42.7 660.4L371.9 850.4"/><path d="M112.2 590.8L302.4 920.0"/><path d="M207.3 565.3L207.3 945.5"/><path d="M302.3 590.8L112.3 920.0"/><path d="M371.9 660.4L42.7 850.4"/></g>
<path fill="none" stroke="#000" stroke-width="1.4" stroke-linejoin="round" d="M258.6 570.5 257.3 577.4 258.1 583.8 260.7 590.9 263.2 597.6 264.7 602.0 267.7 607.3 267.3 614.0 270.7 618.2 272.1 614.4 271.1 608.7 270.3 603.2 268.9 597.3 268.1 591.0 267.2 586.3 269.1 588.5 272.3 594.4 271.4 598.3 274.7 604.0 276.5 607.0 273.8 608.2 275.3 614.2 275.2 620.4 275.1 623.5 276.2 628.5 280.0 632.5 279.5 639.5 278.8 643.2 278.5 649.0 278.0 651.8 275.1 655.3 274.2 658.1 268.3 664.9 266.0 670.6 263.6 668.7 264.3 665.9 262.3 670.1 263.3 674.0 265.2 678.6 264.0 682.8 263.2 688.8 263.2 692.3 261.8 698.0 262.4 702.2 262.3 705.9 263.4 708.3 266.2 712.6 265.9 715.9 268.7 717.8 271.8 718.1 273.2 720.1 269.2 721.1 267.4 720.0 270.4 721.8 274.0 722.1 277.1 722.1 281.0 723.3 284.5 725.0 287.7 727.7 289.9 730.9 286.7 729.6 284.1 727.5 280.0 726.0 277.3 726.4 278.5 728.1 279.6 731.6 277.0 732.8 276.2 736.3 274.1 738.1 272.5 739.1 270.2 738.3 267.9 735.1 265.4 735.4 266.0 737.4 266.7 740.9 264.7 743.2 262.6 741.6 262.5 739.3 261.4 737.6 260.3 739.7 257.9 743.3 256.4 743.2 253.8 741.2 250.9 739.5 248.3 737.6 247.8 733.8 247.1 730.5 245.3 726.7 244.2 723.4 243.5 720.4 241.2 720.3 237.9 718.9 236.0 718.6 235.5 715.2 232.2 713.9 230.1 710.6 228.5 707.9 229.8 707.1 225.4 705.6 224.1 703.6 223.2 706.4 220.6 705.6 218.4 703.3 215.2 702.7 213.6 704.2 213.0 701.2 211.3 704.0 212.4 706.6 211.2 711.4 209.6 711.2 209.0 707.6 208.2 705.6 207.3 703.9 205.5 703.4 203.5 701.5 203.4 705.2 200.5 706.8 199.7 704.4 199.6 700.7 202.3 698.7 204.2 696.0 205.7 692.7 208.4 691.5 210.8 687.8 212.9 684.1 213.5 679.9 210.8 675.1 207.3 675.0 203.7 672.5 199.9 670.9 195.9 670.8 194.7 665.4 192.7 663.1 190.0 662.2 189.4 665.0 191.2 668.7 191.0 671.4 188.6 674.5 188.8 678.5 192.2 681.1 191.6 684.4 193.4 689.9 188.8 691.1 186.0 689.8 183.3 689.4 180.9 684.9 178.4 683.9 176.7 686.6 176.3 690.4 172.5 687.2 168.3 683.6 165.1 682.4 161.2 681.7 158.5 680.3 155.5 679.2 155.0 676.3 157.1 673.4 158.3 670.5 162.8 668.1 168.1 665.3 170.7 660.1 172.5 654.3 170.3 656.5 167.6 662.0 163.6 663.8 162.4 661.3 163.5 659.3 161.2 657.4 158.4 657.2 154.6 658.3 152.7 660.9 153.2 657.8 156.6 653.8 159.0 649.5 161.1 650.7 159.5 655.1 161.8 653.2 163.4 651.0 166.0 647.8 167.9 645.9 168.0 642.6 165.8 641.3 168.4 639.2 172.6 636.0 172.7 633.0 173.6 629.8 174.2 625.7 174.4 623.5 172.4 619.4 174.6 617.0 177.2 613.9 179.9 610.6 183.2 606.8 184.1 602.0 180.9 596.0 178.3 590.9 178.3 585.9 180.9 585.1 183.2 588.1 186.4 592.6 187.3 596.7 190.9 599.5 194.9 598.2 199.2 600.1 204.6 599.3 205.9 596.1 210.1 596.1 216.9 598.0 221.2 596.7 227.3 592.8 228.9 587.1 230.9 580.7 232.0 575.0 231.1 569.6 228.4 564.7M209.6 563.5 208.6 568.8 202.5 570.6 197.6 570.8 196.8 567.4 198.9 563.7M191.0 572.7 186.0 576.6 179.2 578.3 172.6 577.0 166.4 575.5 160.6 573.7 155.7 573.2 157.4 571.6 166.7 569.0 165.7 572.1 170.4 574.3 177.1 574.8 182.0 575.4 185.0 573.6 188.1 572.6 191.0 572.7M153.5 664.9 154.0 669.0 154.6 673.4 153.9 677.4 152.5 674.8 152.8 673.0 150.6 672.9 147.8 674.1 145.1 672.8 143.0 671.0 142.9 669.0 145.2 669.3 146.3 667.3 148.7 667.9 153.5 664.9M264.1 669.3 266.4 672.5 267.4 679.3 265.3 678.4 264.1 674.9 264.1 669.3M179.8 693.6 183.5 693.4 187.5 694.6 192.3 695.3 194.6 695.6 194.4 697.4 190.7 697.5 190.8 701.4 191.7 704.5 195.1 706.6 198.2 708.4 200.6 708.0 204.0 708.1 206.9 710.0 207.3 715.3 204.6 716.9 201.1 716.5 198.1 715.4 195.2 713.1 191.8 711.7 188.9 709.9 186.5 707.5 183.0 706.6 180.4 705.8 180.4 701.5 179.8 697.7 179.8 693.6M201.6 723.3 204.5 723.4 206.8 724.5 205.9 728.1 208.1 732.9 207.7 735.2 205.7 737.7 203.0 739.4 200.1 739.9 198.4 738.6 198.3 736.0 199.2 733.1 199.7 730.4 200.4 727.7 200.9 725.1 201.6 723.3M201.3 721.4 204.3 721.5 207.9 719.7 208.4 723.3 206.7 722.8 203.9 723.0 201.3 721.4M220.3 706.8 224.8 707.4 228.4 710.2 229.0 712.7 228.3 715.9 226.3 718.2 223.2 718.1 219.8 716.8 218.1 715.0 217.5 711.1 216.5 707.9 220.3 706.8M231.8 717.7 232.3 720.4 228.6 723.8 225.9 723.2 224.8 719.6 227.1 718.1 229.4 717.1 231.8 717.7M204.0 692.1 200.5 691.1 197.5 693.5 200.1 696.9 203.2 696.8 204.0 692.1M223.3 724.0 219.7 721.4 216.8 722.2 217.2 724.8 220.0 725.4 223.3 724.0M211.4 712.6 207.7 713.6 207.3 717.0 210.6 717.4 211.4 712.6M216.5 712.2 212.6 712.2 212.1 716.3 214.7 717.5 216.5 712.2M206.2 730.0 208.6 730.0 209.7 733.0 208.0 734.5 206.2 730.0M154.6 704.5 160.3 703.2 166.6 706.1 170.2 708.0 174.4 711.0 177.0 715.2 176.4 717.2 180.2 717.4 183.3 721.2 187.2 724.4 189.9 726.4 192.9 725.9 194.8 724.5 197.0 727.0 198.6 728.7 197.5 731.2 197.5 734.3 197.2 737.9 195.6 741.4 195.3 745.3 193.9 747.7 190.8 748.7 188.3 748.5 187.6 751.2 184.6 748.5 181.5 746.5 176.9 744.9 173.9 742.6 170.3 741.9 168.8 739.1 164.0 737.9 162.8 734.7 161.4 732.0 162.1 728.2 160.5 723.8 160.6 720.2 161.2 716.7 158.1 712.6 156.5 708.8 154.6 704.5M148.9 731.2 151.9 730.7 152.0 733.0 154.1 731.7 154.9 733.7 152.6 735.5 152.9 737.7 153.0 739.8 150.2 740.6 148.3 741.0 147.2 739.3 146.3 735.6 147.4 733.0 148.9 731.2M181.1 760.3 178.8 762.0 177.0 764.4 179.1 764.8 181.2 765.7 182.8 764.6 184.9 766.3 186.3 766.1 186.4 763.9 184.6 762.3 183.3 760.1 181.1 760.3M179.8 790.0 181.7 788.5 183.9 787.0 186.4 785.3 188.5 784.4 190.8 784.1 193.2 784.3 195.7 784.1 195.9 785.2 193.6 786.1 190.6 786.7 188.6 787.8 186.2 789.2 184.0 790.6 182.9 793.7 182.0 794.3 180.2 792.7 179.8 790.0M210.0 781.4 211.5 779.3 213.5 780.1 214.5 782.3 212.3 783.5 210.0 781.4M232.6 779.0 233.6 775.9 237.0 774.0 237.3 775.7 235.0 778.7 232.6 779.0M252.7 756.4 251.5 755.4 252.0 753.5 252.9 753.8 252.7 756.4M191.9 771.9 193.0 773.7 195.3 774.5 197.3 774.3 196.3 772.3 193.6 771.8 191.9 771.9M69.6 741.9 72.2 740.2 73.7 738.0 73.6 734.5 77.9 735.4 78.7 733.9 82.8 735.9 87.3 737.0 90.8 736.3 92.3 739.2 91.5 744.2 90.6 748.3 90.4 751.7 93.5 753.0 97.1 753.3 100.4 751.3 102.8 747.5 104.5 746.8 105.4 750.1 104.8 752.5 107.7 752.1 106.9 753.3 107.1 755.7 109.1 758.1 110.9 758.1 111.5 759.6 112.4 761.4 114.6 762.2 116.8 763.0 118.0 764.8 118.2 766.3 119.0 768.1 120.1 768.9 122.7 768.2 124.1 767.2 127.2 766.9 128.5 768.6 130.0 769.9 126.9 770.2 126.6 770.9 124.3 770.0 122.9 769.7 121.7 770.5 120.7 772.2 122.2 774.3 122.1 776.2 121.6 777.3 124.0 780.1 125.5 782.4 124.8 783.5 125.3 784.9 127.9 785.9 131.8 784.5 133.7 784.5 134.7 785.6 133.4 787.2 134.5 788.3 137.1 787.2 137.6 785.7 138.7 785.2 140.2 786.7 141.9 790.1 144.2 792.1 144.5 789.5 142.8 786.8 140.1 783.9 140.8 781.6 143.8 780.2 146.6 779.1 151.2 780.4 153.1 781.0 154.2 779.3 152.9 777.4 150.1 777.7 147.2 777.3 144.1 775.9 141.5 775.9 139.3 776.5 138.3 778.5 136.7 779.4 134.8 778.3 132.2 777.8 129.2 778.4 127.7 777.9 127.2 776.3 125.3 776.1 124.9 774.4 127.1 773.5 130.1 771.5 133.2 770.1 135.3 768.9 133.1 768.2 130.8 766.4 130.0 764.9 131.9 762.8 134.8 761.9 138.6 761.4 140.4 761.8 142.4 763.4 144.1 764.8 145.6 766.3 148.0 767.2 151.0 767.9 153.5 768.1 155.8 769.0 158.0 769.5 160.0 770.3 161.6 771.1 162.8 772.5 165.0 773.8 166.6 775.0 167.2 776.7 167.1 778.6 166.7 779.8 165.2 779.7 165.9 782.3 167.0 784.7 166.9 788.1 166.5 790.8 165.1 792.1 162.6 791.6 161.0 787.8 160.4 785.9 159.3 788.4 156.9 790.5 157.0 793.3 158.9 793.2 160.4 794.7 162.1 794.0 164.6 793.1 165.8 794.8 167.6 793.8 169.9 791.5 171.0 793.0 169.3 795.5 171.3 795.3 173.5 795.6 176.3 796.6 176.6 797.7 179.4 798.4 181.3 799.6 183.3 798.8 183.6 797.3 185.6 800.0 187.4 802.2 188.2 803.8 189.3 802.4 188.3 800.1 189.5 797.2 191.8 794.7 193.5 793.3 195.0 794.6 194.2 797.6 193.1 799.8 192.1 803.9 189.8 809.1 191.5 808.8 193.1 804.9 194.7 800.8 194.9 797.1 196.5 795.8 198.1 796.9 197.9 799.8 199.7 798.2 201.1 794.3 204.6 793.9 205.4 791.1 208.5 789.2 211.9 787.9 214.4 783.8 216.5 785.4 219.6 785.9 221.3 787.5 220.3 791.3 222.5 791.2 226.1 790.8 229.1 789.0 230.6 786.8 233.1 787.3 235.4 790.1 236.7 788.1 238.6 786.7 240.7 784.4 239.3 782.3 242.1 778.9 245.4 777.4 248.0 776.1 250.2 771.9 253.3 771.7 254.5 768.0 254.1 765.4 254.3 763.3 256.9 763.7 255.4 760.5 256.6 757.1 259.3 752.7 262.1 748.7 263.9 745.4 268.4 746.8 268.4 749.0 266.4 751.3 266.0 754.4 268.2 756.5 269.2 757.6 273.7 758.3 275.1 762.5 279.0 767.4 277.7 771.7 277.6 774.9 279.9 777.2 282.0 779.0 286.3 779.2 288.6 782.1 292.2 786.3 292.3 788.9 295.6 793.4 290.3 792.3 285.3 790.8 281.1 788.7 279.4 786.0 277.6 782.4 275.1 778.8 273.4 775.0 271.2 773.7 271.6 778.8 270.8 782.3 274.4 786.7 273.8 790.7 270.5 793.4 268.5 797.5 266.6 800.9 267.3 805.8 268.5 811.5 268.7 816.2 272.9 814.4 274.9 812.1 277.6 811.7 280.5 815.7 283.3 818.5 287.1 821.2 288.4 827.2 289.3 833.2 290.0 838.1 288.2 842.1 285.4 842.8 285.6 846.4 285.8 849.9 286.9 852.0 285.1 856.0 285.8 857.7 289.2 858.3 293.2 860.0 295.9 863.2 295.3 866.0 292.4 870.5 290.3 867.9 288.5 864.4 286.6 862.6 283.3 863.9 281.5 860.1 278.8 860.2 275.8 865.0 274.7 866.7 273.6 861.5 271.2 861.7 269.8 868.2 267.5 870.1 271.4 872.0 273.0 873.0 275.4 869.6 279.7 869.1 277.8 872.7 276.4 877.6 277.1 879.7 280.1 880.0 283.5 882.7 287.3 884.0 288.6 886.1 286.4 889.6 290.7 888.9 291.9 893.0 291.4 898.2 291.4 903.5 290.7 908.4 288.8 913.3 286.2 917.2 282.0 920.7 280.0 922.7 275.7 926.4 272.0 929.3 273.5 932.5 271.6 933.2 269.7 929.8 265.7 930.0 263.0 932.0 261.2 935.1 261.1 937.0 259.4 940.8M218.4 947.3 216.9 945.3 213.8 941.2 213.0 937.4 208.9 937.5 204.1 939.2 199.2 940.1 197.5 942.8 195.7 945.9M150.5 939.0 152.0 932.9 152.4 929.4 150.3 933.1 146.3 932.5 143.5 930.7 142.0 925.4 146.3 924.8 142.6 922.3 141.0 919.5 140.0 916.2 139.2 913.6 133.3 910.6 125.4 907.0 118.9 902.5 115.3 898.7 116.2 894.6 110.6 892.4 107.2 888.3 105.5 883.3 106.2 878.1 105.9 874.1 103.4 872.8 101.4 873.1 99.8 876.9 99.9 881.2 99.8 884.5 98.0 889.4 101.0 887.6 99.9 890.9 98.7 893.4 104.1 897.5 109.4 896.8 113.3 895.8 111.6 899.5 111.3 902.1 114.5 906.9 116.0 912.2 112.7 914.6 108.7 916.3 104.3 917.7M62.0 881.3 64.1 872.2 67.5 866.6 68.4 861.2 70.9 856.3 74.0 849.4 77.3 845.8 72.7 847.6 71.8 847.5 73.1 843.6 75.0 840.0 72.7 841.8 70.7 845.8 68.0 849.3 64.8 855.2 62.2 859.7 60.9 865.4 58.7 868.2 54.4 871.9M78.3 837.0 77.0 833.7 72.7 830.0 70.0 820.0 70.5 813.5 69.9 809.5 65.9 806.9 62.4 808.1 59.6 804.8 60.6 796.6 63.1 794.0 63.1 787.4 64.1 783.2 65.2 781.0 70.0 782.1 73.6 780.2 74.4 781.2 74.8 778.3 73.1 773.1 71.9 767.2 71.5 762.5 68.4 755.4 66.4 750.5 67.0 744.4 69.3 742.4 68.8 740.8 64.0 738.3 62.4 733.7 57.4 729.8 52.8 728.7 49.2 723.8 47.4 718.5 44.0 713.2 37.8 706.8 30.5 701.4 28.2 700.5 22.9 701.1M69.6 741.9 71.5 744.9 71.4 750.2 73.7 753.8 77.2 755.9 79.3 754.7 83.0 757.1 84.8 760.1 87.2 762.1 90.0 761.5 90.9 763.5 90.6 766.2 90.6 769.1 92.5 770.5 94.5 772.9 93.6 775.9 91.0 777.0 89.3 780.1 87.7 782.1 86.7 785.5 85.4 789.4 82.4 790.5 80.0 791.9 79.5 791.3 81.5 792.9 83.6 793.7 85.1 791.8 87.6 792.0 87.2 795.4 88.1 795.3 89.0 791.6 89.7 789.1 90.8 788.8 90.5 786.7 92.2 784.1 94.2 782.8 95.3 780.0 98.2 779.2 99.9 781.6 98.0 781.8 99.1 783.0 97.3 784.9 95.2 787.6 94.4 791.0 93.7 793.4 92.8 795.7 88.8 797.4 85.9 801.3 82.6 804.3 80.8 807.5 81.8 809.2 84.3 807.6 85.8 809.5 87.6 807.0 89.2 804.8 91.6 803.8 91.4 806.3 92.7 807.1 94.4 806.6 95.6 809.9 94.5 810.9 92.4 813.2 89.7 813.8 87.5 817.2 87.2 819.8 87.4 822.7 90.3 824.6 90.5 828.4 93.4 832.3 96.3 834.9 95.5 836.9 93.3 837.9 91.2 839.1 86.9 840.0 83.3 841.2 81.0 841.2 79.6 840.2 78.3 837.0M99.6 815.1 100.6 812.1 102.0 810.7 105.4 811.0 108.2 809.7 110.3 810.7 114.3 810.9 115.7 812.7 115.8 815.9 113.5 815.4 112.6 818.1 115.5 820.4 117.6 821.8 117.4 818.3 121.2 819.8 123.8 821.8 124.8 822.6 121.3 822.6 118.6 823.2 118.0 826.4 117.6 829.9 117.8 834.6 116.1 836.4 112.5 834.9 109.8 831.6 108.4 827.3 108.3 824.7 106.5 822.1 102.5 819.6 99.6 815.1M136.2 837.1 140.0 838.5 142.6 841.2 140.1 844.5 137.0 843.2 134.9 843.2 133.9 846.0 135.1 849.5 133.4 852.8 134.6 855.5 131.1 856.5 130.5 860.4 128.4 864.0 123.6 862.5 121.6 858.6 119.7 856.2 122.0 853.2 126.0 850.6 127.0 851.8 127.4 848.0 127.4 844.2 128.5 841.4 129.8 838.5 132.4 837.1 136.2 837.1M147.1 853.7 149.9 856.9 153.6 854.2 154.8 850.1 152.0 849.2 148.8 850.8 147.1 853.7M230.1 846.9 232.7 844.0 235.5 839.6 235.7 834.2 235.2 836.3 233.6 841.5 230.1 846.9M175.4 863.2 179.4 859.5 185.7 861.5 180.9 861.3 177.6 862.4 175.4 863.2M109.2 745.6 109.5 749.4 110.4 752.9 111.7 757.6 115.7 758.1 116.5 755.9 118.0 755.4 121.2 753.4 123.8 752.5 124.4 751.1 128.2 752.6 128.8 750.6 131.1 751.1 131.3 748.7 128.6 747.4 126.0 746.9 123.4 747.3 121.5 748.2 121.6 750.5 118.7 750.8 117.4 750.4 117.3 748.3 115.4 748.5 113.7 746.9 112.4 750.1 111.5 747.9 109.2 745.6M114.9 745.7 118.3 745.7 121.1 746.9 122.8 745.8 123.1 743.3 120.9 740.2 118.3 740.0 115.3 738.7 113.8 739.8 114.6 743.2 114.9 745.7M85.8 775.3 90.3 775.2 88.6 773.3 86.4 774.1 85.8 775.3M79.1 773.9 80.2 776.9 84.8 776.3 85.7 775.1 84.3 773.3 79.1 773.9M78.0 784.1 80.3 790.6 76.1 791.0 76.9 784.3 78.0 784.1M78.9 811.5 81.0 817.5 78.7 814.0 78.9 811.5M88.0 831.1 92.3 834.4 89.1 834.5 88.0 831.1M296.4 903.7 298.7 902.2 299.4 905.7 301.3 912.5 297.4 910.9 296.3 906.4 296.4 903.7M293.7 822.9 293.7 819.3 290.2 818.6 289.9 814.3 284.3 813.0 280.1 809.7 276.8 808.4 277.8 810.5 280.8 813.2 285.2 816.2 289.4 819.6 292.3 822.1 293.7 822.9M305.8 872.0 307.5 870.2 306.0 865.7 302.2 864.6 304.2 861.2 308.1 856.2 311.7 857.3 311.8 853.2 314.3 849.1 315.3 846.1 315.3 843.2 311.3 839.7 308.9 835.7 305.3 833.3 303.0 832.0 302.1 834.1 304.1 836.9 307.2 840.1 307.2 845.4 305.2 846.7 306.5 848.8 307.5 852.1 302.7 857.7 301.2 863.4 301.1 867.1 301.9 869.3 305.8 872.0M301.3 833.7 301.9 831.5 304.1 827.8 303.9 821.8 301.2 821.2 298.7 824.2 294.8 824.3 299.2 828.2 297.7 830.4 299.5 832.7 301.3 833.7M270.8 745.9 270.8 743.1 269.9 744.9 270.8 745.9M279.4 721.0 277.4 718.6 275.7 719.8 277.7 721.0 279.4 721.0M268.6 684.8 267.5 690.9 266.0 689.5 268.6 684.8M211.1 647.7 205.5 651.2 201.1 653.3 197.0 648.9 197.9 647.5 201.6 647.2 207.3 647.4 211.1 647.7M202.6 633.8 199.5 634.8 199.9 640.4 197.7 645.6 200.6 645.1 202.9 641.6 202.6 633.8M196.8 646.2 191.1 646.9 187.7 644.1 190.3 639.1 191.9 638.4 194.3 640.9 194.6 644.2 196.8 646.2M193.1 634.5 184.7 639.0 184.9 638.1 190.3 634.3 193.1 634.5M186.3 640.1 180.0 643.4 179.7 642.1 184.9 640.1 186.3 640.1M239.8 705.3 235.9 703.8 233.8 705.5 235.7 708.1 238.7 707.0 239.8 705.3M239.2 692.8 235.7 691.7 230.9 693.8 233.5 693.8 237.2 694.1 239.2 692.8M221.7 659.0 219.2 658.7 219.0 666.6 221.5 665.7 221.7 659.0M292.5 732.6 294.1 734.6M295.4 736.7 297.0 738.0M299.7 745.7 301.1 749.7M297.7 766.5 297.3 767.6M378.7 692.0 378.9 690.5M378.9 686.8 379.0 685.0M378.9 681.2 378.7 679.1"/>
</g>
<circle cx="207.3" cy="755.4" r="190.1" fill="none" stroke="#000" stroke-width="1.5"/>
<text x="207.3" y="563.4" text-anchor="middle">90W</text><text x="207.1" y="958.7" text-anchor="middle">90E</text><text x="91.5" y="590.3" text-anchor="middle">60W</text><text x="326.5" y="590.3" text-anchor="middle">120W</text><text x="19.0" y="662.3" text-anchor="middle">30W</text><text x="399.3" y="662.3" text-anchor="middle">150W</text><text x="6.0" y="761.4" text-anchor="middle">0</text><text x="418.0" y="761.4" text-anchor="middle">180</text><text x="21.8" y="859.9" text-anchor="middle">30E</text><text x="396.6" y="859.9" text-anchor="middle">150E</text><text x="94.0" y="932.4" text-anchor="middle">60E</text><text x="324.5" y="932.4" text-anchor="middle">120E</text>
<text transform="translate(15.3 536.4) scale(.935 1)" font-size="35.5">(d)</text>
<g stroke="#000" stroke-width="1.1"><rect x="435.3" y="890.06" width="11.4" height="16.84" fill="#313695"/><rect x="435.3" y="873.21" width="11.4" height="16.84" fill="#3c5aa7"/><rect x="435.3" y="856.37" width="11.4" height="16.84" fill="#4c7db8"/><rect x="435.3" y="839.52" width="11.4" height="16.84" fill="#679dc9"/><rect x="435.3" y="822.68" width="11.4" height="16.84" fill="#84bad8"/><rect x="435.3" y="805.83" width="11.4" height="16.84" fill="#a3d3e6"/><rect x="435.3" y="788.99" width="11.4" height="16.84" fill="#c2e4ef"/><rect x="435.3" y="772.14" width="11.4" height="16.84" fill="#e0f3f8"/><rect x="435.3" y="755.30" width="11.4" height="16.84" fill="#f0eac4"/><rect x="435.3" y="738.46" width="11.4" height="16.84" fill="#fedd8c"/><rect x="435.3" y="721.61" width="11.4" height="16.84" fill="#fec676"/><rect x="435.3" y="704.77" width="11.4" height="16.84" fill="#fdae61"/><rect x="435.3" y="687.92" width="11.4" height="16.84" fill="#f88e52"/><rect x="435.3" y="671.08" width="11.4" height="16.84" fill="#f46d43"/><rect x="435.3" y="654.23" width="11.4" height="16.84" fill="#e64e35"/><rect x="435.3" y="637.39" width="11.4" height="16.84" fill="#d73027"/><rect x="435.3" y="620.54" width="11.4" height="16.84" fill="#be1826"/><rect x="435.3" y="603.70" width="11.4" height="16.84" fill="#a50026"/></g><g font-size="12.3"><text x="460.3" y="894.1" text-anchor="middle">-0.8</text><text x="460.3" y="877.2" text-anchor="middle">-0.7</text><text x="460.3" y="860.4" text-anchor="middle">-0.6</text><text x="460.3" y="843.5" text-anchor="middle">-0.5</text><text x="460.3" y="826.7" text-anchor="middle">-0.4</text><text x="460.3" y="809.8" text-anchor="middle">-0.3</text><text x="460.3" y="793.0" text-anchor="middle">-0.2</text><text x="460.3" y="776.1" text-anchor="middle">-0.1</text><text x="460.3" y="759.3" text-anchor="middle">0</text><text x="460.3" y="742.5" text-anchor="middle">0.1</text><text x="460.3" y="725.6" text-anchor="middle">0.2</text><text x="460.3" y="708.8" text-anchor="middle">0.3</text><text x="460.3" y="691.9" text-anchor="middle">0.4</text><text x="460.3" y="675.1" text-anchor="middle">0.5</text><text x="460.3" y="658.2" text-anchor="middle">0.6</text><text x="460.3" y="641.4" text-anchor="middle">0.7</text><text x="460.3" y="624.5" text-anchor="middle">0.8</text></g>
<g clip-path="url(#c4)">
<circle cx="687.3" cy="755.4" r="191.1" fill="#e0f3f8"/>
<path fill="#f0eac4" d="M493.2 561.3l388 0 0 388-388 0zM711.2 573.1l-8 2-8 4.5-10 9-10.9 12.7-2.1 4-1 4 .4 18-1.4 8-1.7 4-2.5 4-4.6 4-4.2 1.8-4 .4-4-.5-4-1.5-3.7-2.2-4.3-4-10-13.2-4-1.9-4 .1-6 2-6 3.1-14 9.4-11.4 10.5-7.6 10-4 8-2 8 .1 8 1.8 6 2.1 4 4.7 6 22.3 19.7 6 6.3 4.5 6 4.2 8 1.8 6 .9 8-.6 6-2.6 8-3.7 6-5.5 6-15.9 14-3.7 4-4.1 6-1.7 4-1.3 6-.7 16-.8 6-1.3 4-2.3 4-3.2 3.4-4 3-24 12.8-9.4 6.8-3.6 4-2.3 4-1.3 6 .6 4 1.7 4 2.9 4 4.5 4 6.6 4 6.3 2.7 8 2.5 16 2.7 50 2 12 1.6 38 6.8 12 1.2 14 .6 14-.4 14-1.5 14-2.9 18-5.2 4-.5 4 .3 4 1.5 4 3 16 17.4 4 2.5 4 .6 4-1.5 4-3.9 4.5-7.5 3.7-10 2.1-10 .6-8-.4-8-1.7-10-3.9-12-4.9-8.8-6-6.1-6-2.7-6 .1-3.1 1.5-2.4 2-3 4-7.5 13.2-2.6 2.8-3.4 1.9-4 0-4-2.2-3.4-3.7-2.1-4-.9-6 1.3-4 11.1-16.4 6-10.8 2.8-6.8 1.8-8-.2-8-1.4-6-1.6-4-8.5-14-3.6-8-14.8-48-2.9-12-2.1-12-1.6-20 .8-20 3.3-21.3 6.4-20.7-.6-6-7.8-21.7-3.3-6.3-2.9-4-3.9-4-5.9-3.9-6-2zM660.9 769.3l2.3-1.3 4 .3 1.6 1 1.2 2-.1 2-2.7 2.4-4 .2-2-1.1-1.3-1.5-.2-2zM691.1 843.3l8.1-1 8 0 7.7 1 6.3 1.7 5.3 2.3 5.4 4 2 4-.4 2-1.3 2-5 3.1-6 2.2-8 1.7-8 .7-8-.2-6-.8-6-1.6-4-1.7-4.6-3.4-1.4-2.1-.6-1.9 .1-2 2.6-4 2.7-2 4.1-2z"/>
<path fill="#fedd8c" d="M651.3 623.3l3.9 .1 2 1.3 2 2.6 .6 2 0 4-.6 2-2 2.6-2 1.2-2.7 .2-3.3-1.5-2-2.4-.8-2.1 0-4 .6-2 2.2-2.9zM800.3 623.3l4.9-1.1 4 .1 6 1.9 4 2.1 10 7.6 10.3 11.4 9.1 14 7.2 16 4.9 16 2.8 16 1.2 18-1 20-3.6 24-6.3 28-5.7 18-5.7 12-3.2 4.9-4 4.4-4 2.7-4 1.2-4 0-6-1.6-14-6.8-12-7.4-4-3.7-2.7-3.7-1.9-4-5.9-16-8-18-14.5-42-4.7-16-3-16-.8-16 1.4-16 3.3-14 2.8-7.2 2.6-4.8 3.4-4.2 5.2-3.8 19.8-8zM511.8 705.3l7.4-.9 10 .2 10 1.3 12 2.5 14 4 10 3.8 8 3.9 8 5 6 4.9 4.7 5.3 3.8 6 2.3 6 1 6-.3 6-1.7 6-3.8 6.9-4 4.6-4 3.7-12 8.5-28 16.9-8 4.2-8 3.2-10 2.4-12 .2-12-2.3-12-5.1 0-96.8 8-3.6zM661.8 771.3l1.4-1.5 2-.5 2 1 .8 1-.3 2-2.5 1.2-2-.4-1.1-.8zM695 847.3l8.2-.5 4 .6 4 1.4 3.2 2.5 .6 2-.7 2-3.1 2.5-6 1.9-8 .1-6-1.5-2.1-1-1.9-1.8-.8-2.2 .7-2 2.4-2z"/>
<path fill="#fdbc6e" d="M786.8 643.3l4.4-.6 6 .1 8 2.1 8 4.4 8 6.9 7.4 9.1 5.7 10 4.7 12 3.2 14 1.2 16-.9 16-6.7 42-3.3 16-3.2 10-4.2 8-3.5 4-2.4 1.8-6 2.1-4 .1-4-.9-8-3.7-6-5.2-6-8.5-8.3-17.7-16.2-44-4.4-14-2.6-12-1.2-14 .6-12 2.5-12 3.6-9.4 4-6.8 6-6.4 8-4.6zM540 723.3l13.2-1.6 8 .3 6 .9 8 2.1 6 2.4 6 3.3 4 3 3.8 3.6 3 4 2.2 4 1.7 6 .1 6-.8 4-2 4.9-3.5 5.1-4.1 4-4.4 3.3-10 5.5-12 4.2-12 2.2-12 .1-10-1.8-10-4-7.7-5.5-3.7-4-2.6-4-2.9-8-.2-8 2.3-8 5.2-8 7.6-6.9 10-5.6z"/>
<path fill="#f99455" d="M784.8 655.3l6.4-.6 8 1.4 8 3.9 6.6 5.3 6.8 8 4.6 8 4 10 2.3 10 1.2 12-.5 14-2.1 16-5.9 34-2.8 10-2.7 6-2.9 4-2.1 2-4.5 2.3-6-.1-6-2.9-5.4-5.3-4.6-6.8-6-12.6-14.5-36.6-4.1-12-2.8-12-1.2-10 .1-10 1.7-10 2.8-8.5 4-7.2 5.6-6.3 6.4-4.1zM551.5 731.3l5.7-1 6-.2 10 1.5 9.1 3.7 6.9 5.3 2.3 2.7 2.2 4 1.3 4 .3 4-.5 4-1.6 4-4.4 6-5.6 4.4-6 3.1-8 2.6-8 1.1-8-.3-8-1.8-6.8-3.1-5.2-4-4.5-6-1.9-6 .1-6 2-6 4.3-6 4.7-4 7.3-4z"/>
<path fill="#f16740" d="M788.3 665.3l4.9 .1 6.7 1.9 5.3 3 6 5.4 4.2 5.6 4.3 8 2.7 8 1.6 8 .7 10-.7 12-2.3 16-4.4 22-2.1 7.9-2.6 6.1-3.4 4.6-4 2.2-4-.2-4.5-2.6-5.5-6.3-4-6.9-16.2-36.8-4-12-2-10-.7-10 .6-8 1.8-8 2.5-5.9 4-5.9 4-3.8 6-3.3zM555.2 739.3l6-1.4 8 .1 6 1.5 6.6 3.8 3.6 4 2.2 6-.7 6-2.2 4-3.5 3.5-4 2.5-5.3 2-4.7 .9-6 .1-4-.6-6-2.1-3.6-2.3-3.7-4-1.9-4-.6-4 .7-4 2.1-4 3-3.4 3.7-2.6z"/>
<path fill="#dd3c2d" d="M788 675.3l5.2 0 4 1.1 5.2 2.9 4.3 4 3.1 4 3.4 6.3 2 5.7 1.7 8 .5 8-.3 8-1.4 10-2.6 12-2.9 10-3 6.9-2.4 3.1-1.6 1.3-2 .6-4-1.2-4-3.7-8-12.5-6-11.8-4-9.5-2.9-9.2-1.6-8-.3-12 1-6 2.2-6 2.3-4 3.3-3.7 4-2.8zM560.2 749.3l3-1.4 4-.5 6 1.8 2.2 2.1 .9 2 .2 2-.6 2-2.7 3-4 1.8-4 .2-4-1-2.6-2-1.4-2-.4-2 .2-2 1.1-2z"/>
<path fill="#be1826" d="M785.5 687.3l3.7-1.3 4 0 3.6 1.3 2.4 1.5 2.7 2.5 3.3 4.5 2 4.2 1.6 5.3 .9 6 .1 6-1.7 12-3.5 10-2.7 4-2.7 2-2 .3-2-.5-2-1.2-4-4.1-6-9.5-3-7-1.9-6-1.4-10 .8-8 1.5-4.6 1.9-3.4z"/>
<path fill="#bde2ee" d="M703.9 627.3l3.3-.7 4 .9 3.5 3.8 2.5 5.9 2 9.1 4.9 33 4.3 24 3.3 14 8.8 30 6.2 30 3.1 6 11.4 9.4 4 4.9 1.9 3.7 1.1 4 .3 4-.7 4-3.3 6-5.3 4.3-6 2.3-12 2.4-9.3 5-5.1 2-5.6 1-22 1.5-12 1.7-10 2.3-18 6.3-6 1.4-6 .1-8-1.5-6-2.2-8-3.9-8-5-8-6-5.9-5.7-3.4-4-3.6-6-1.2-4-.1-6 2.3-6 4.7-6 13-12 5.1-6 4.1-8 1.8-10-.2-6-1-6-3.3-10-5.3-10-10.4-16-3.6-8-1.1-6 .2-4 .9-4 3-6.6 6.4-9.4 8.2-10 5.4-4.4 4-1.6 4-.5 22 3.4 6-.3 4-1.1 8-4.6 20-18 6-4.5zM635.2 706.3l-2 1.2-1.1 1.8-.7 2-.1 4 1.9 4.7 2 1.4 2 0 2.4-2.1 .9-2 .4-4-1.7-5-2-1.8zM661.2 766.9l-2.8 2.4-.8 2 .2 2 1.4 2.2 2 1.4 4 .8 4-1.2 1.5-1.2 1.2-2 .1-2-.9-2-1.9-1.8-4-1.3z"/>
<path fill="#99cae1" d="M643.1 665.3l8.1 1 12 3.8 26 11.2 8 4.9 4 4 4 5.6 18 31.3 3.9 8.2 3.5 12 .6 12-2 11.9-5.6 16.1-1.6 6-.8 20-1.8 6-2.5 4-4.6 4-3.9 2-13.2 3.5-22 3.3-12 .4-10-1.2-14-3.7-8-3.3-6-3-6-4-4-3.4-2.4-2.6-2.6-4-1.2-4 .2-4 2.9-6 5.9-6 13.5-10 4.6-4 4.3-6 2-6 .7-6-.1-6-2.2-18 1-4 3.2-6 1.3-4 .2-8-1.8-6-3.5-5-2-1.6-6-2.3-2-1.3-1.4-3.8-.4-6 1.3-10 2.6-6 4.1-4 3.8-1.5zM659.2 765l-3.3 2.3-1.8 4 .3 2 1 2 2 2 3.8 1.9 4 .6 4-.8 2-1 2.6-2.7 .7-2 .1-2-.6-2-2.8-3.2-4-2-2-.3-4 .4zM747.9 795.3l5.3 0 4 1.6 2.9 2.4 2.6 4 .8 4-.8 4-1.5 2.6-4 3.1-4 1-6-1-3.1-1.7-2.3-2-2.5-4-.7-4 1.1-4 3.4-4z"/>
<path fill="#74add1" d="M641.5 675.3l1.7-.9 4-.8 4 .5 4 1.4 8 5.1 6.5 6.7 5.3 8 3.3 8 1.7 8 .3 10 .9 2.9 4 .8 12-.3 6 1.1 4 1.5 4 2.3 5.7 5.7 2.5 4 1.6 4 1 4 .3 6-1.1 5.6-1.9 4.4-2.7 4-3.4 3.3-4 2.5-4 1.7-6 1-4-.1-4-1-4-1.8-4-3.2-2-2.4-4.6-8-1.6-8 .2-8 1.8-14-1.1-2-8.7-2.2-6-2.4-6-4-4-4-11.2-19.4-2.4-6-.4-4 .5-4 1.5-3.6zM649 787.3l10.2-.4 10 1.1 10 2.7 8 3.9 8 6.3 4.8 6.4 1.7 6-.6 4-1 2-4.2 4-6.7 3-10 2.2-10 .7-12-.8-10-2-10-3.3-8-4-6-4.6-3.8-5.2-.8-4 1.1-4 3.5-4.2 8-5 8-2.9zM753.2 805.3l1.3 2-1.3 .7-.9-.7z"/>
<path fill="#5588be" d="M648.3 683.3l2.9-.6 4 1.2 4 2.7 4 4.7 2.2 4 1.5 6-.7 4-1.6 2-3.4 1-4-1.2-4-2.8-4-4.9-2.9-6.1-.8-4 .8-4zM696.8 737.3l4.4-.6 3.5 .6 2.5 1.1 3.5 2.9 2.5 4.2 .9 5.8-.9 4.1-2 3.5-2 2-4 2.1-6 .5-4-1.4-3.5-2.8-2.5-4-1.1-6 1.1-4.8 1.8-3.2 2-2zM639.3 799.3l5.9-1.5 8-.4 8 .8 8 2.1 6.7 3 5.3 4 2.6 4 .2 2-.4 2-1.5 2-2.9 2-4 1.4-6 1-12-.4-12-3-8-4.1-3.2-2.9-1.3-2-.6-2 .2-2 1-2 2.1-2z"/>
<path fill="none" stroke="#000" stroke-width="3.2" stroke-linecap="round" stroke-dasharray="0 7.69" d="M780.4 666.8h7.69M776.5 670.7h23.07M772.7 674.5h30.76M638.1 678.4h7.69M768.8 678.4h38.45M641.9 682.2h15.38M765.0 682.2h38.45M638.1 686.1h23.07M761.1 686.1h46.14M641.9 689.9h15.38M757.3 689.9h53.83M645.8 693.8h15.38M761.1 693.8h46.14M649.6 697.6h7.69M757.3 697.6h53.83M761.1 701.4h53.83M757.3 705.3h53.83M761.1 709.1h46.14M757.3 713.0h53.83M761.1 716.8h46.14M765.0 720.7h38.45M545.8 724.5h15.38M768.8 724.5h30.76M534.3 728.4h46.14M772.7 728.4h23.07M522.7 732.2h61.52M776.5 732.2h15.38M518.9 736.1h76.90M780.4 736.1h15.38M515.1 739.9h84.59M776.5 739.9h15.38M511.2 743.7h92.28M780.4 743.7h15.38M507.4 747.6h99.97M776.5 747.6h15.38M503.5 751.4h99.97M780.4 751.4h15.38M507.4 755.3h99.97M776.5 755.3h15.38M503.5 759.1h99.97M780.4 759.1h15.38M507.4 763.0h99.97M776.5 763.0h15.38M503.5 766.8h99.97M780.4 766.8h15.38M507.4 770.7h92.28M784.2 770.7h7.69M511.2 774.5h84.59M780.4 774.5h7.69M515.1 778.3h76.90M784.2 778.3h7.69M518.9 782.2h69.21M530.4 786.0h53.83M542.0 789.9h30.76M753.4 801.4h7.69M672.7 805.3h0.01M749.6 805.3h15.38M668.9 809.1h7.69M753.4 809.1h15.38M665.0 813.0h15.38M749.6 813.0h15.38M668.9 816.8h7.69M753.4 816.8h7.69"/>
<g fill="none" stroke="#000" stroke-width="1.35" stroke-dasharray="2.1 2.1"><circle cx="687.3" cy="755.4" r="23.8"/><circle cx="687.3" cy="755.4" r="47.9"/><circle cx="687.3" cy="755.4" r="72.7"/><circle cx="687.3" cy="755.4" r="98.8"/><circle cx="687.3" cy="755.4" r="126.6"/><circle cx="687.3" cy="755.4" r="156.7"/><path d="M497.2 755.4L877.4 755.4"/><path d="M522.7 660.4L851.9 850.4"/><path d="M592.2 590.8L782.3 920.0"/><path d="M687.3 565.3L687.3 945.5"/><path d="M782.3 590.8L592.2 920.0"/><path d="M851.9 660.4L522.7 850.4"/></g>
<path fill="none" stroke="#000" stroke-width="1.4" stroke-linejoin="round" d="M738.6 570.5 737.3 577.4 738.1 583.8 740.7 590.9 743.2 597.6 744.7 602.0 747.7 607.3 747.3 614.0 750.7 618.2 752.1 614.4 751.1 608.7 750.3 603.2 748.9 597.3 748.1 591.0 747.2 586.3 749.1 588.5 752.3 594.4 751.4 598.3 754.7 604.0 756.5 607.0 753.8 608.2 755.3 614.2 755.2 620.4 755.1 623.5 756.2 628.5 760.0 632.5 759.5 639.5 758.8 643.2 758.5 649.0 758.0 651.8 755.1 655.3 754.2 658.1 748.3 664.9 746.0 670.6 743.6 668.7 744.3 665.9 742.3 670.1 743.3 674.0 745.2 678.6 744.0 682.8 743.2 688.8 743.2 692.3 741.8 698.0 742.4 702.2 742.3 705.9 743.4 708.3 746.2 712.6 745.9 715.9 748.7 717.8 751.8 718.1 753.2 720.1 749.2 721.1 747.4 720.0 750.4 721.8 754.0 722.1 757.1 722.1 761.0 723.3 764.5 725.0 767.7 727.7 769.9 730.9 766.7 729.6 764.1 727.5 760.0 726.0 757.3 726.4 758.5 728.1 759.6 731.6 757.0 732.8 756.2 736.3 754.1 738.1 752.5 739.1 750.2 738.3 747.9 735.1 745.4 735.4 746.0 737.4 746.7 740.9 744.7 743.2 742.6 741.6 742.5 739.3 741.4 737.6 740.3 739.7 737.9 743.3 736.4 743.2 733.8 741.2 730.9 739.5 728.3 737.6 727.8 733.8 727.1 730.5 725.3 726.7 724.2 723.4 723.5 720.4 721.2 720.3 717.9 718.9 716.0 718.6 715.5 715.2 712.2 713.9 710.1 710.6 708.5 707.9 709.8 707.1 705.4 705.6 704.1 703.6 703.2 706.4 700.6 705.6 698.4 703.3 695.2 702.7 693.6 704.2 693.0 701.2 691.3 704.0 692.4 706.6 691.2 711.4 689.6 711.2 689.0 707.6 688.2 705.6 687.3 703.9 685.5 703.4 683.5 701.5 683.4 705.2 680.5 706.8 679.7 704.4 679.6 700.7 682.3 698.7 684.2 696.0 685.7 692.7 688.4 691.5 690.8 687.8 692.9 684.1 693.5 679.9 690.8 675.1 687.3 675.0 683.7 672.5 679.9 670.9 675.9 670.8 674.7 665.4 672.7 663.1 670.0 662.2 669.4 665.0 671.2 668.7 671.0 671.4 668.6 674.5 668.8 678.5 672.2 681.1 671.6 684.4 673.4 689.9 668.8 691.1 666.0 689.8 663.3 689.4 660.9 684.9 658.4 683.9 656.7 686.6 656.3 690.4 652.5 687.2 648.3 683.6 645.1 682.4 641.2 681.7 638.5 680.3 635.5 679.2 635.0 676.3 637.1 673.4 638.3 670.5 642.8 668.1 648.1 665.3 650.7 660.1 652.5 654.3 650.3 656.5 647.6 662.0 643.6 663.8 642.4 661.3 643.5 659.3 641.2 657.4 638.4 657.2 634.6 658.3 632.7 660.9 633.2 657.8 636.6 653.8 639.0 649.5 641.1 650.7 639.5 655.1 641.8 653.2 643.4 651.0 646.0 647.8 647.9 645.9 648.0 642.6 645.8 641.3 648.4 639.2 652.6 636.0 652.7 633.0 653.6 629.8 654.2 625.7 654.4 623.5 652.4 619.4 654.6 617.0 657.2 613.9 659.9 610.6 663.2 606.8 664.1 602.0 660.9 596.0 658.3 590.9 658.3 585.9 660.9 585.1 663.2 588.1 666.4 592.6 667.3 596.7 670.9 599.5 674.9 598.2 679.2 600.1 684.6 599.3 685.9 596.1 690.1 596.1 696.9 598.0 701.2 596.7 707.3 592.8 708.9 587.1 710.9 580.7 712.0 575.0 711.1 569.6 708.4 564.7M689.6 563.5 688.6 568.8 682.5 570.6 677.6 570.8 676.8 567.4 678.9 563.7M671.0 572.7 666.0 576.6 659.2 578.3 652.6 577.0 646.4 575.5 640.6 573.7 635.7 573.2 637.4 571.6 646.7 569.0 645.7 572.1 650.4 574.3 657.1 574.8 662.0 575.4 665.0 573.6 668.1 572.6 671.0 572.7M633.5 664.9 634.0 669.0 634.6 673.4 633.9 677.4 632.5 674.8 632.8 673.0 630.6 672.9 627.8 674.1 625.1 672.8 623.0 671.0 622.9 669.0 625.2 669.3 626.3 667.3 628.7 667.9 633.5 664.9M744.1 669.3 746.4 672.5 747.4 679.3 745.3 678.4 744.1 674.9 744.1 669.3M659.8 693.6 663.5 693.4 667.5 694.6 672.3 695.3 674.6 695.6 674.4 697.4 670.7 697.5 670.8 701.4 671.7 704.5 675.1 706.6 678.2 708.4 680.6 708.0 684.0 708.1 686.9 710.0 687.3 715.3 684.6 716.9 681.1 716.5 678.1 715.4 675.2 713.1 671.8 711.7 668.9 709.9 666.5 707.5 663.0 706.6 660.4 705.8 660.4 701.5 659.8 697.7 659.8 693.6M681.6 723.3 684.5 723.4 686.8 724.5 685.9 728.1 688.1 732.9 687.7 735.2 685.7 737.7 683.0 739.4 680.1 739.9 678.4 738.6 678.3 736.0 679.2 733.1 679.7 730.4 680.4 727.7 680.9 725.1 681.6 723.3M681.3 721.4 684.3 721.5 687.9 719.7 688.4 723.3 686.7 722.8 683.9 723.0 681.3 721.4M700.3 706.8 704.8 707.4 708.4 710.2 709.0 712.7 708.3 715.9 706.3 718.2 703.2 718.1 699.8 716.8 698.1 715.0 697.5 711.1 696.5 707.9 700.3 706.8M711.8 717.7 712.3 720.4 708.6 723.8 705.9 723.2 704.8 719.6 707.1 718.1 709.4 717.1 711.8 717.7M684.0 692.1 680.5 691.1 677.5 693.5 680.1 696.9 683.2 696.8 684.0 692.1M703.3 724.0 699.7 721.4 696.8 722.2 697.2 724.8 700.0 725.4 703.3 724.0M691.4 712.6 687.7 713.6 687.3 717.0 690.6 717.4 691.4 712.6M696.5 712.2 692.6 712.2 692.1 716.3 694.7 717.5 696.5 712.2M686.2 730.0 688.6 730.0 689.7 733.0 688.0 734.5 686.2 730.0M634.6 704.5 640.3 703.2 646.6 706.1 650.2 708.0 654.4 711.0 657.0 715.2 656.4 717.2 660.2 717.4 663.3 721.2 667.2 724.4 669.9 726.4 672.9 725.9 674.8 724.5 677.0 727.0 678.6 728.7 677.5 731.2 677.5 734.3 677.2 737.9 675.6 741.4 675.3 745.3 673.9 747.7 670.8 748.7 668.3 748.5 667.6 751.2 664.6 748.5 661.5 746.5 656.9 744.9 653.9 742.6 650.3 741.9 648.8 739.1 644.0 737.9 642.8 734.7 641.4 732.0 642.1 728.2 640.5 723.8 640.6 720.2 641.2 716.7 638.1 712.6 636.5 708.8 634.6 704.5M628.9 731.2 631.9 730.7 632.0 733.0 634.1 731.7 634.9 733.7 632.6 735.5 632.9 737.7 633.0 739.8 630.2 740.6 628.3 741.0 627.2 739.3 626.3 735.6 627.4 733.0 628.9 731.2M661.1 760.3 658.8 762.0 657.0 764.4 659.1 764.8 661.2 765.7 662.8 764.6 664.9 766.3 666.3 766.1 666.4 763.9 664.6 762.3 663.3 760.1 661.1 760.3M659.8 790.0 661.7 788.5 663.9 787.0 666.4 785.3 668.5 784.4 670.8 784.1 673.2 784.3 675.7 784.1 675.9 785.2 673.6 786.1 670.6 786.7 668.6 787.8 666.2 789.2 664.0 790.6 662.9 793.7 662.0 794.3 660.2 792.7 659.8 790.0M690.0 781.4 691.5 779.3 693.5 780.1 694.5 782.3 692.3 783.5 690.0 781.4M712.6 779.0 713.6 775.9 717.0 774.0 717.3 775.7 715.0 778.7 712.6 779.0M732.7 756.4 731.5 755.4 732.0 753.5 732.9 753.8 732.7 756.4M671.9 771.9 673.0 773.7 675.3 774.5 677.3 774.3 676.3 772.3 673.6 771.8 671.9 771.9M549.6 741.9 552.2 740.2 553.7 738.0 553.6 734.5 557.9 735.4 558.7 733.9 562.8 735.9 567.3 737.0 570.8 736.3 572.3 739.2 571.5 744.2 570.6 748.3 570.4 751.7 573.5 753.0 577.1 753.3 580.4 751.3 582.8 747.5 584.5 746.8 585.4 750.1 584.8 752.5 587.7 752.1 586.9 753.3 587.1 755.7 589.1 758.1 590.9 758.1 591.5 759.6 592.4 761.4 594.6 762.2 596.8 763.0 598.0 764.8 598.2 766.3 599.0 768.1 600.1 768.9 602.7 768.2 604.1 767.2 607.2 766.9 608.5 768.6 610.0 769.9 606.9 770.2 606.6 770.9 604.3 770.0 602.9 769.7 601.7 770.5 600.7 772.2 602.2 774.3 602.1 776.2 601.6 777.3 604.0 780.1 605.5 782.4 604.8 783.5 605.3 784.9 607.9 785.9 611.8 784.5 613.7 784.5 614.7 785.6 613.4 787.2 614.5 788.3 617.1 787.2 617.6 785.7 618.7 785.2 620.2 786.7 621.9 790.1 624.2 792.1 624.5 789.5 622.8 786.8 620.1 783.9 620.8 781.6 623.8 780.2 626.6 779.1 631.2 780.4 633.1 781.0 634.2 779.3 632.9 777.4 630.1 777.7 627.2 777.3 624.1 775.9 621.5 775.9 619.3 776.5 618.3 778.5 616.7 779.4 614.8 778.3 612.2 777.8 609.2 778.4 607.7 777.9 607.2 776.3 605.3 776.1 604.9 774.4 607.1 773.5 610.1 771.5 613.2 770.1 615.3 768.9 613.1 768.2 610.8 766.4 610.0 764.9 611.9 762.8 614.8 761.9 618.6 761.4 620.4 761.8 622.4 763.4 624.1 764.8 625.6 766.3 628.0 767.2 631.0 767.9 633.5 768.1 635.8 769.0 638.0 769.5 640.0 770.3 641.6 771.1 642.8 772.5 645.0 773.8 646.6 775.0 647.2 776.7 647.1 778.6 646.7 779.8 645.2 779.7 645.9 782.3 647.0 784.7 646.9 788.1 646.5 790.8 645.1 792.1 642.6 791.6 641.0 787.8 640.4 785.9 639.3 788.4 636.9 790.5 637.0 793.3 638.9 793.2 640.4 794.7 642.1 794.0 644.6 793.1 645.8 794.8 647.6 793.8 649.9 791.5 651.0 793.0 649.3 795.5 651.3 795.3 653.5 795.6 656.3 796.6 656.6 797.7 659.4 798.4 661.3 799.6 663.3 798.8 663.6 797.3 665.6 800.0 667.4 802.2 668.2 803.8 669.3 802.4 668.3 800.1 669.5 797.2 671.8 794.7 673.5 793.3 675.0 794.6 674.2 797.6 673.1 799.8 672.1 803.9 669.8 809.1 671.5 808.8 673.1 804.9 674.7 800.8 674.9 797.1 676.5 795.8 678.1 796.9 677.9 799.8 679.7 798.2 681.1 794.3 684.6 793.9 685.4 791.1 688.5 789.2 691.9 787.9 694.4 783.8 696.5 785.4 699.6 785.9 701.3 787.5 700.3 791.3 702.5 791.2 706.1 790.8 709.1 789.0 710.6 786.8 713.1 787.3 715.4 790.1 716.7 788.1 718.6 786.7 720.7 784.4 719.3 782.3 722.1 778.9 725.4 777.4 728.0 776.1 730.2 771.9 733.3 771.7 734.5 768.0 734.1 765.4 734.3 763.3 736.9 763.7 735.4 760.5 736.6 757.1 739.3 752.7 742.1 748.7 743.9 745.4 748.4 746.8 748.4 749.0 746.4 751.3 746.0 754.4 748.2 756.5 749.2 757.6 753.7 758.3 755.1 762.5 759.0 767.4 757.7 771.7 757.6 774.9 759.9 777.2 762.0 779.0 766.3 779.2 768.6 782.1 772.2 786.3 772.3 788.9 775.6 793.4 770.3 792.3 765.3 790.8 761.1 788.7 759.4 786.0 757.6 782.4 755.1 778.8 753.4 775.0 751.2 773.7 751.6 778.8 750.8 782.3 754.4 786.7 753.8 790.7 750.5 793.4 748.5 797.5 746.6 800.9 747.3 805.8 748.5 811.5 748.7 816.2 752.9 814.4 754.9 812.1 757.6 811.7 760.5 815.7 763.3 818.5 767.1 821.2 768.4 827.2 769.3 833.2 770.0 838.1 768.2 842.1 765.4 842.8 765.6 846.4 765.8 849.9 766.9 852.0 765.1 856.0 765.8 857.7 769.2 858.3 773.2 860.0 775.9 863.2 775.3 866.0 772.4 870.5 770.3 867.9 768.5 864.4 766.6 862.6 763.3 863.9 761.5 860.1 758.8 860.2 755.8 865.0 754.7 866.7 753.6 861.5 751.2 861.7 749.8 868.2 747.5 870.1 751.4 872.0 753.0 873.0 755.4 869.6 759.7 869.1 757.8 872.7 756.4 877.6 757.1 879.7 760.1 880.0 763.5 882.7 767.3 884.0 768.6 886.1 766.4 889.6 770.7 888.9 771.9 893.0 771.4 898.2 771.4 903.5 770.7 908.4 768.8 913.3 766.2 917.2 762.0 920.7 760.0 922.7 755.7 926.4 752.0 929.3 753.5 932.5 751.6 933.2 749.7 929.8 745.7 930.0 743.0 932.0 741.2 935.1 741.1 937.0 739.4 940.8M698.4 947.3 696.9 945.3 693.8 941.2 693.0 937.4 688.9 937.5 684.1 939.2 679.2 940.1 677.5 942.8 675.7 945.9M630.5 939.0 632.0 932.9 632.4 929.4 630.3 933.1 626.3 932.5 623.5 930.7 622.0 925.4 626.3 924.8 622.6 922.3 621.0 919.5 620.0 916.2 619.2 913.6 613.3 910.6 605.4 907.0 598.9 902.5 595.3 898.7 596.2 894.6 590.6 892.4 587.2 888.3 585.5 883.3 586.2 878.1 585.9 874.1 583.4 872.8 581.4 873.1 579.8 876.9 579.9 881.2 579.8 884.5 578.0 889.4 581.0 887.6 579.9 890.9 578.7 893.4 584.1 897.5 589.4 896.8 593.3 895.8 591.6 899.5 591.3 902.1 594.5 906.9 596.0 912.2 592.7 914.6 588.7 916.3 584.3 917.7M542.0 881.3 544.1 872.2 547.5 866.6 548.4 861.2 550.9 856.3 554.0 849.4 557.3 845.8 552.7 847.6 551.8 847.5 553.1 843.6 555.0 840.0 552.7 841.8 550.7 845.8 548.0 849.3 544.8 855.2 542.2 859.7 540.9 865.4 538.7 868.2 534.4 871.9M558.3 837.0 557.0 833.7 552.7 830.0 550.0 820.0 550.5 813.5 549.9 809.5 545.9 806.9 542.4 808.1 539.6 804.8 540.6 796.6 543.1 794.0 543.1 787.4 544.1 783.2 545.2 781.0 550.0 782.1 553.6 780.2 554.4 781.2 554.8 778.3 553.1 773.1 551.9 767.2 551.5 762.5 548.4 755.4 546.4 750.5 547.0 744.4 549.3 742.4 548.8 740.8 544.0 738.3 542.4 733.7 537.4 729.8 532.8 728.7 529.2 723.8 527.4 718.5 524.0 713.2 517.8 706.8 510.5 701.4 508.2 700.5 502.9 701.1M549.6 741.9 551.5 744.9 551.4 750.2 553.7 753.8 557.2 755.9 559.3 754.7 563.0 757.1 564.8 760.1 567.2 762.1 570.0 761.5 570.9 763.5 570.6 766.2 570.6 769.1 572.5 770.5 574.5 772.9 573.6 775.9 571.0 777.0 569.3 780.1 567.7 782.1 566.7 785.5 565.4 789.4 562.4 790.5 560.0 791.9 559.5 791.3 561.5 792.9 563.6 793.7 565.1 791.8 567.6 792.0 567.2 795.4 568.1 795.3 569.0 791.6 569.7 789.1 570.8 788.8 570.5 786.7 572.2 784.1 574.2 782.8 575.3 780.0 578.2 779.2 579.9 781.6 578.0 781.8 579.1 783.0 577.3 784.9 575.2 787.6 574.4 791.0 573.7 793.4 572.8 795.7 568.8 797.4 565.9 801.3 562.6 804.3 560.8 807.5 561.8 809.2 564.3 807.6 565.8 809.5 567.6 807.0 569.2 804.8 571.6 803.8 571.4 806.3 572.7 807.1 574.4 806.6 575.6 809.9 574.5 810.9 572.4 813.2 569.7 813.8 567.5 817.2 567.2 819.8 567.4 822.7 570.3 824.6 570.5 828.4 573.4 832.3 576.3 834.9 575.5 836.9 573.3 837.9 571.2 839.1 566.9 840.0 563.3 841.2 561.0 841.2 559.6 840.2 558.3 837.0M579.6 815.1 580.6 812.1 582.0 810.7 585.4 811.0 588.2 809.7 590.3 810.7 594.3 810.9 595.7 812.7 595.8 815.9 593.5 815.4 592.6 818.1 595.5 820.4 597.6 821.8 597.4 818.3 601.2 819.8 603.8 821.8 604.8 822.6 601.3 822.6 598.6 823.2 598.0 826.4 597.6 829.9 597.8 834.6 596.1 836.4 592.5 834.9 589.8 831.6 588.4 827.3 588.3 824.7 586.5 822.1 582.5 819.6 579.6 815.1M616.2 837.1 620.0 838.5 622.6 841.2 620.1 844.5 617.0 843.2 614.9 843.2 613.9 846.0 615.1 849.5 613.4 852.8 614.6 855.5 611.1 856.5 610.5 860.4 608.4 864.0 603.6 862.5 601.6 858.6 599.7 856.2 602.0 853.2 606.0 850.6 607.0 851.8 607.4 848.0 607.4 844.2 608.5 841.4 609.8 838.5 612.4 837.1 616.2 837.1M627.1 853.7 629.9 856.9 633.6 854.2 634.8 850.1 632.0 849.2 628.8 850.8 627.1 853.7M710.1 846.9 712.7 844.0 715.5 839.6 715.7 834.2 715.2 836.3 713.6 841.5 710.1 846.9M655.4 863.2 659.4 859.5 665.7 861.5 660.9 861.3 657.6 862.4 655.4 863.2M589.2 745.6 589.5 749.4 590.4 752.9 591.7 757.6 595.7 758.1 596.5 755.9 598.0 755.4 601.2 753.4 603.8 752.5 604.4 751.1 608.2 752.6 608.8 750.6 611.1 751.1 611.3 748.7 608.6 747.4 606.0 746.9 603.4 747.3 601.5 748.2 601.6 750.5 598.7 750.8 597.4 750.4 597.3 748.3 595.4 748.5 593.7 746.9 592.4 750.1 591.5 747.9 589.2 745.6M594.9 745.7 598.3 745.7 601.1 746.9 602.8 745.8 603.1 743.3 600.9 740.2 598.3 740.0 595.3 738.7 593.8 739.8 594.6 743.2 594.9 745.7M565.8 775.3 570.3 775.2 568.6 773.3 566.4 774.1 565.8 775.3M559.1 773.9 560.2 776.9 564.8 776.3 565.7 775.1 564.3 773.3 559.1 773.9M558.0 784.1 560.3 790.6 556.1 791.0 556.9 784.3 558.0 784.1M558.9 811.5 561.0 817.5 558.7 814.0 558.9 811.5M568.0 831.1 572.3 834.4 569.1 834.5 568.0 831.1M776.4 903.7 778.7 902.2 779.4 905.7 781.3 912.5 777.4 910.9 776.3 906.4 776.4 903.7M773.7 822.9 773.7 819.3 770.2 818.6 769.9 814.3 764.3 813.0 760.1 809.7 756.8 808.4 757.8 810.5 760.8 813.2 765.2 816.2 769.4 819.6 772.3 822.1 773.7 822.9M785.8 872.0 787.5 870.2 786.0 865.7 782.2 864.6 784.2 861.2 788.1 856.2 791.7 857.3 791.8 853.2 794.3 849.1 795.3 846.1 795.3 843.2 791.3 839.7 788.9 835.7 785.3 833.3 783.0 832.0 782.1 834.1 784.1 836.9 787.2 840.1 787.2 845.4 785.2 846.7 786.5 848.8 787.5 852.1 782.7 857.7 781.2 863.4 781.1 867.1 781.9 869.3 785.8 872.0M781.3 833.7 781.9 831.5 784.1 827.8 783.9 821.8 781.2 821.2 778.7 824.2 774.8 824.3 779.2 828.2 777.7 830.4 779.5 832.7 781.3 833.7M750.8 745.9 750.8 743.1 749.9 744.9 750.8 745.9M759.4 721.0 757.4 718.6 755.7 719.8 757.7 721.0 759.4 721.0M748.6 684.8 747.5 690.9 746.0 689.5 748.6 684.8M691.1 647.7 685.5 651.2 681.1 653.3 677.0 648.9 677.9 647.5 681.6 647.2 687.3 647.4 691.1 647.7M682.6 633.8 679.5 634.8 679.9 640.4 677.7 645.6 680.6 645.1 682.9 641.6 682.6 633.8M676.8 646.2 671.1 646.9 667.7 644.1 670.3 639.1 671.9 638.4 674.3 640.9 674.6 644.2 676.8 646.2M673.1 634.5 664.7 639.0 664.9 638.1 670.3 634.3 673.1 634.5M666.3 640.1 660.0 643.4 659.7 642.1 664.9 640.1 666.3 640.1M719.8 705.3 715.9 703.8 713.8 705.5 715.7 708.1 718.7 707.0 719.8 705.3M719.2 692.8 715.7 691.7 710.9 693.8 713.5 693.8 717.2 694.1 719.2 692.8M701.7 659.0 699.2 658.7 699.0 666.6 701.5 665.7 701.7 659.0M772.5 732.6 774.1 734.6M775.4 736.7 777.0 738.0M779.7 745.7 781.1 749.7M777.7 766.5 777.3 767.6M858.7 692.0 858.9 690.5M858.9 686.8 859.0 685.0M858.9 681.2 858.7 679.1"/>
</g>
<circle cx="687.3" cy="755.4" r="190.1" fill="none" stroke="#000" stroke-width="1.5"/>
<text x="687.3" y="563.4" text-anchor="middle">90W</text><text x="687.1" y="958.7" text-anchor="middle">90E</text><text x="571.5" y="590.3" text-anchor="middle">60W</text><text x="806.5" y="590.3" text-anchor="middle">120W</text><text x="499.0" y="662.3" text-anchor="middle">30W</text><text x="879.3" y="662.3" text-anchor="middle">150W</text><text x="486.0" y="761.4" text-anchor="middle">0</text><text x="898.0" y="761.4" text-anchor="middle">180</text><text x="501.8" y="859.9" text-anchor="middle">30E</text><text x="876.6" y="859.9" text-anchor="middle">150E</text><text x="574.0" y="932.4" text-anchor="middle">60E</text><text x="804.5" y="932.4" text-anchor="middle">120E</text>
<text transform="translate(495.3 536.4) scale(.935 1)" font-size="35.5">(e)</text>
<g stroke="#000" stroke-width="1.1"><rect x="915.3" y="885.24" width="11.4" height="21.66" fill="#313695"/><rect x="915.3" y="863.59" width="11.4" height="21.66" fill="#3e60aa"/><rect x="915.3" y="841.93" width="11.4" height="21.66" fill="#5588be"/><rect x="915.3" y="820.27" width="11.4" height="21.66" fill="#74add1"/><rect x="915.3" y="798.61" width="11.4" height="21.66" fill="#99cae1"/><rect x="915.3" y="776.96" width="11.4" height="21.66" fill="#bde2ee"/><rect x="915.3" y="755.30" width="11.4" height="21.66" fill="#e0f3f8"/><rect x="915.3" y="733.64" width="11.4" height="21.66" fill="#f0eac4"/><rect x="915.3" y="711.99" width="11.4" height="21.66" fill="#fedd8c"/><rect x="915.3" y="690.33" width="11.4" height="21.66" fill="#fdbc6e"/><rect x="915.3" y="668.67" width="11.4" height="21.66" fill="#f99455"/><rect x="915.3" y="647.01" width="11.4" height="21.66" fill="#f16740"/><rect x="915.3" y="625.36" width="11.4" height="21.66" fill="#dd3c2d"/><rect x="915.3" y="603.70" width="11.4" height="21.66" fill="#be1826"/></g><g font-size="12.3"><text x="940.3" y="889.2" text-anchor="middle">-1.2</text><text x="940.3" y="867.6" text-anchor="middle">-1</text><text x="940.3" y="845.9" text-anchor="middle">-0.8</text><text x="940.3" y="824.3" text-anchor="middle">-0.6</text><text x="940.3" y="802.6" text-anchor="middle">-0.4</text><text x="940.3" y="781.0" text-anchor="middle">-0.2</text><text x="940.3" y="759.3" text-anchor="middle">0</text><text x="940.3" y="737.6" text-anchor="middle">0.2</text><text x="940.3" y="716.0" text-anchor="middle">0.4</text><text x="940.3" y="694.3" text-anchor="middle">0.6</text><text x="940.3" y="672.7" text-anchor="middle">0.8</text><text x="940.3" y="651.0" text-anchor="middle">1</text><text x="940.3" y="629.4" text-anchor="middle">1.2</text></g>
<g clip-path="url(#c5)">
<circle cx="1167.3" cy="755.4" r="191.1" fill="#e0f3f8"/>
<path fill="#f0eac4" d="M1125.3 567.3l9.9-1.5 12 0 10 1.4 10 3 8 4.2 5.6 4.9 3.8 6 2 6 1.3 10 1.7 30-.4 9.1-1.7 6.9-2.1 4-2.2 2.7-10 7.5-4 3.7-4 5.8-8 15.3-2.9 3-3.1 1.5-2-.1-2-.9-2-1.8-10-15.7-4-4.2-4-2.6-32-10.7-26-6.1-4-1.5-6-3-3.8-2.9-3.5-4-3.1-6-1.8-6-.8-6 0-8 .8-6 1.6-6 2.5-6 2.4-4 3.7-4.6 4-3.5 6-3.3 6-1.7 24-1.7zM1254.5 645.3l10.7-1.7 10 .1 52 5.4 10 1.9 4 1.7 4 2.6 6 5.9 5.3 8.1 4.7 10.1 0 261.1-4 4.8-4.3 4-56.8 0-18.9-5.9-12.3-6.1-5.5-4-4.4-4-4.9-6-3.4-6-5.7-16-2.1-4-1.8-2-3.6-2-6.3-1-32 2.4-14 .4-18-.7-30-3-6 .1-4 .7-4 1.6-4 3.1-14.9 20.4-5.1 5.2-6 4.9-8 4.9-8 3.6-8 2.5-10 1.9-8 .6-8-.2-8-.9-8-1.8-8-2.7-8-3.9-6-3.7-6-4.9-4-4-4.3-5.5-3.5-6-2.4-6-1.5-6-.6-6 .2-6 1.1-6 2.9-8 4.8-8 7.3-8.2 15.3-11.8 4.2-4 2.4-4 .8-6-.7-6-2-8.5-2.3-7.5-3.4-8-5.5-8-13.5-14-6.4-8-5.5-10-3.5-10-1.9-11.7 0-10.3 1.1-8 1.6-6 2.4-6 2.9-5.2 4-5.1 4-3.4 4-2.3 4-1.4 6-.6 6 .8 18 4.3 22 1.7 10 1.2 12 2.8 10 3.9 8 5 5.8 6.3 2.4 4 2.6 6 2.3 10 .5 12-1.9 14-2.5 8-3.9 8-4.3 6-11 13.2-5.2 8.8-3.4 10-1.5 12 .5 6 1.3 4 2.3 3.5 2 1.9 4 2.5 6 1.9 4 .5 6-.5 8-2.7 8-4.2 10-6.5 16-12 6.9-4.4 7.1-3.5 8-2.8 12-2.9 16-2.4 20-1.2 26 1.1 4-.6 4-2.5 2-3.7 .8-5.5-.3-6-1.3-6-3.6-10-13.3-26-5.7-14-3.4-14-.4-12 1.7-10 4.1-14 4.2-12 4-8 3.2-4 5.5-4 6.5-3z"/>
<path fill="#fedd8c" d="M1135.6 581.3l7.6-.3 8 .8 8 2.2 6.6 3.3 5.4 4.3 4 5.1 3 6.6 1.6 6 .9 8 0 6-.7 6-1.8 6-3.5 6-12.6 14-8.9 14.6-2 1.8-2 .2-2-1.1-7.4-9.5-4.6-4.3-6-3.4-12-5-6.3-3.3-6.4-4-16.5-12-7.3-6-1.6-2-1.6-4 .3-4 1-2 2.4-2.7 23.8-15.3 8.2-4.8 8-3.6 8-2.5zM1262.2 653.3l11-1 6 .3 8 1.4 14 4.5 6 2.9 6.1 3.9 9.9 8.6 4.6 5.4 4.1 6 5.8 12 3.7 14 1.2 14-.7 14-1.7 10-5.5 24-3.6 28-2.9 12-2.2 6-4 8-7.4 10-5.4 4.9-4 2.7-4 1.8-4 1-4 .2-4-.6-4-1.2-6-3-5.1-3.8-4.3-4-5.7-8-3.5-10-4.6-28-3.7-14-5.1-11.2-11.4-18.8-4.6-8.5-3.9-9.5-2.7-10-.9-10 1.1-12 3.8-14 4.6-10 4-5.4 6-5 10-5zM1038.4 707.3l12.8-1.9 10 .3 10 2.2 8 3.6 6 4.4 6.2 7.4 3.7 8 2.1 10-.1 8-1.3 8-2.6 7.3-3.5 6.7-4.4 6-13.4 16-12.7 20.7-4 3.7-2 1.1-4 1.1-4-.3-4-1.6-4-3.2-4-5-12-25.2-4-6-11.9-15.3-5.2-8-3.5-8-1.8-8-.1-6 1.1-6 3-6 4.1-4 3.5-2 4.8-1.7zM1185.5 809.3l9.7-.3 8 .4 14 2.7 6 2.1 6.1 3.1 5.8 4 4.3 4 3 4 1.9 4 1.1 6-.2 4-.8 4-2.3 6-3.8 6-3.5 4-4.6 4-5 3.3-12 5.5-8 2.4-8 1.5-16 1.2-16-1.4-14-3.4-12-5.4-5.7-3.7-4.5-4-3.2-4-2-4-1-4 0-4 1.1-4 2.1-4 3-4 5.8-6 10.4-8.2 11.6-5.8 12.4-3.6zM1321.8 883.3l3.4-.8 4-.1 4 1.5 2 1.8 2 3.5 1 4.1-.1 6-1.1 4-1.8 3.3-2.4 2.7-3.6 2.5-4 1.5-8 .4-4-.7-4.7-1.7-3.3-2.1-3.3-3.9-.8-4 1.2-4 2.9-4 4.7-4 5.3-3.2z"/>
<path fill="#fdb466" d="M1136.3 591.3l6.9-.4 6 .7 5.7 1.7 4.3 2.1 5.1 3.9 3.4 4 2.1 4 1.8 6 .5 6-.4 4-1.6 6-2.1 4-4.4 6-6.4 6.7-4 3.3-4 1.7-2 0-4-1.3-17.9-8.4-6.1-3.6-5.1-4.4-3.3-4-2.3-4-1.3-4-.4-4 1.2-6 2-4 3.2-4.1 4.2-3.9 5.8-3.8 6-2.5zM1260.6 663.3l10.6-1.8 10 .7 10 3 10 5.4 8 6.7 6.7 8 5.4 10 3.2 10 1.2 10-.6 10-1.5 8-6 20-1.8 8-1.2 10-1.4 22-2 12-2.7 8-4.7 8-4.6 4.4-6 2.6-6-.2-6-2.7-4.4-4.1-4.1-6-4.8-12-5.9-24-3.4-10-5.1-10-15.2-24-4.4-10-2.2-8-1.1-8 .4-10 2.4-10 3.5-8 4.3-6.1 6-5.4 6-3.7zM1054.5 713.3l8.7 .4 8 2.2 6 3 5.5 4.4 4.5 5.7 3 6.3 1.4 6 .2 8-1 6-2 6-3.3 6-2.8 4-15.1 16-10.4 12-4 3-4 1.1-4-1.1-4-3.5-10.4-17.5-12.2-18-3.2-6-2.4-6-1.3-6 0-4 1.4-6 2.2-4 3.6-4 5.3-4 7.4-4 7.6-3.1 8-2.1zM1175.8 815.3l13.4-1.1 14 1.4 6 1.6 5.4 2.1 4.6 2.5 4 3.1 4 4.4 2.3 4 1.3 4 .4 4-.4 4-1.1 4-2.1 4-3 4-7.4 6.3-10 5-10 2.9-12 1.5-12-.5-12-2.4-10-4.1-7.2-4.7-5.5-6-2.6-6-.2-6 1.2-4 2.2-4 5.2-6 8.9-6.5 10-4.4z"/>
<path fill="#f67d4a" d="M1134.7 601.3l4.5-.9 4-.1 4 .6 4 1.2 6 4 3.7 5.2 1.6 6-.2 4-1 4-4.1 6.9-3.2 3.1-2.8 1.9-4 1.2-4-.2-8.7-2.9-5.3-2.9-3.9-3.1-4.2-6-1-4 .2-4 2.6-6 4.3-4.3 4-2.4zM1263.2 671.3l8-1.3 8 .5 8 2.3 8 4.3 6 4.9 6.1 7.3 4.3 8 2.5 8 1 8-.5 10-1.6 8-5.1 18-2.1 10-1 8-1 20-1.1 8-1.7 6-3 6-2.8 3.2-4 2-4 0-4-2.1-3.1-3.1-2.6-4-3.3-8-5.6-20-3.7-10-5.5-10-14.8-22-3.8-8-2.4-8-1.1-8 .4-8 1.9-8 2.8-6 4.4-6 4.4-4 6-3.7zM1046.4 721.3l6.8-1.3 8 0 6 1.3 6 2.6 4.7 3.4 3.7 4 3.2 6 1.6 6 .1 6-1.1 6-2.5 6-3.7 5.5-6 6.4-8 6.4-6 4-6 2.4-4-.2-4-2-8-8.1-6-7.8-4.2-6.6-2.7-6-1.4-6-.2-4 .6-4 1.5-4 2.5-4 3.9-4 4-3 5.6-3zM1187.1 819.3l10.1 1 8 2.3 8 4.5 4.2 4.2 2.9 6 .4 6-1.9 6-4.5 6-7.1 5.1-8 3.4-8 1.9-10 .6-10-1-8-2.2-7.6-3.8-5-4-4-6-1.1-6 1.7-6 4.5-6 7.5-5.5 8-3.4 10-2.4z"/>
<path fill="#e24732" d="M1143 615.3l2.9 2 .4 2-1 2-2.1 .8-2.9-.8-1.6-2 .5-2.5 2-1.4zM1264.1 679.3l7.1-1.4 6 .3 6 1.5 7.2 3.6 4.9 4 5 6 3.2 6 2.5 8 .7 10-1.3 10-8.9 30-4.2 26-1.6 4-1.5 1.9-2 .5-2-1-2-2.4-2-3.9-5-13.1-5.2-10-15.8-21.2-4.4-6.8-3.6-7.3-2.1-6.7-1-6 .1-6 1.1-6 2.3-6 3.6-5.3 4-3.9 4-2.7zM1048.5 727.3l4.7-1.1 6-.3 6 1.1 4 1.6 4.2 2.7 3.7 4 2.3 4 1.2 4 .4 4-.8 6-1.5 4-2.3 4-3.4 4-5.8 4.8-6 3.2-4 1.2-4 .3-4-.9-4-2.1-3.1-2.5-3.7-4-3.2-4.5-2.6-5.5-1.1-4-.3-4 .6-4 2.7-6 2.7-3.3 3.2-2.7zM1177.6 825.3l7.6-.6 8 .8 6.2 1.8 5.8 3.4 4.1 4.6 1.5 4-.5 6-2.1 4-4 4-5 3-6 2.2-8 1.3-8-.2-6-1.2-6-2.3-4.4-2.8-3.7-4-1.7-4-.1-4 1.4-4 3.2-4 5.3-3.9 6-2.5z"/>
<path fill="#be1826" d="M1265.8 687.3l5.4-1.2 4 0 5.6 1.2 4.4 2.1 4 2.9 4 4.5 2.7 4.5 1.5 4 1.3 6 .2 6-.7 6-1.5 6-3.5 8.9-4 6.9-2 2.5-4 2.6-4-.2-4-2-10-8.8-8-10.2-3-5.7-2.1-6-.9-5.8 .1-4.2 2-8 2.2-4 3.6-4 2.6-2zM1051.8 733.3l7.4-.8 4 .7 4 1.8 4.6 4.3 1.4 2.4 1.1 3.6-.2 6-2.9 6.4-2 2.3-4 3.3-6 2.4-6 .1-6-2.7-2.1-1.8-3.1-4-2.4-6 .1-6 1.6-4 3.9-4.5zM1174.4 833.3l4.8-1.4 4-.4 6 .6 4 1.3 3.1 1.9 2.8 4 .1 4-.8 2-4.1 4-7.1 2.6-8 .2-6-1.7-4.5-3.1-1.5-2.2-.5-3.8 1.9-4 2.2-2z"/>
<path fill="#b6deec" d="M1223.9 579.3l7.3-.2 10 1.3 10 3.2 8 4.2 8 6.1 26.7 23.4 5 6 1.7 4 .2 2-.6 2-1.6 2-5.4 2.4-8 .8-20-.5-10 .6-12.4 2.7-9.6 3.6-5.9 4.4-3.1 4-11 23.8-2 2.5-2 1.3-2 0-2-2.1-.7-1.5-1.8-8-1.8-22-4.1-26-.2-8 .6-6.2 2.8-9.8 2.1-4 3.1-4 4-3.4 4-2.1 6-1.9zM1033.7 659.3l3.5-1.1 6-.6 8 .4 10 1.4 26 5.2 20 6.7 14 5.8 6 3.5 4.5 4.7 9.3 14 2.2 2.1 4 2.3 4 .3 4-1.3 4.7-3.4 9.3-8.8 4-2.2 2-.4 4 .3 4 1.5 4 2.3 6 4.7 4 4.2 2.8 4.4 3.2 6.8 16 41.2 4 12 1.6 10-.3 4-1.4 4-1.9 2.6-4 3.1-8 3.4-11.8 2.9-32.2 6.6-18 5.5-10 5.2-16 11.3-10 4.7-6 1.4-6 .4-6-.8-6-2.4-4-3.3-2.8-4.6-1-4 .3-6 1.5-4.9 2.7-5.1 3.3-4.4 8.9-9.6 4.4-6 4.2-10 2.4-12 2.3-26 0-12-1.6-10-1.8-4-1.6-2-3.2-2.8-5.6-3.2-10.3-4-31.3-10-9.4-4-6.8-4-6.2-6-1.7-4 .1-2 1-2z"/>
<path fill="#8abfdb" d="M1221.7 593.3l7.5-.7 8 .9 8 2.5 6 2.9 12 8.4 11.7 10 2.9 4 .5 2-.8 2-4.3 2.1-22 2.1-16 3.1-8 2.9-10 6-2 .7-2-.3-2-1.7-2-3.2-2.9-7.7-2-10 .3-8 1.6-6 3.9-6 5.1-3.8zM1066.5 673.3l4.7-1.2 9.4 1.2 6 2 4 2 2.5 2 .8 2-2.7 1.2-2 .1-9.3-1.3-6.2-2-4.2-2-2.6-2zM1165.2 711.3l4-.9 4 .2 4 1.3 4 2.1 4 2.9 4.8 4.4 7.5 10 3.2 6 3.3 8 2.5 8 1.1 6 .5 6-.4 4-1 4-1.9 4-5.8 6-5.8 3.5-5.7 2.5-12.1 4-28.2 8-10 3.8-6 3.6-11.3 8.6-6.7 3.4-6 1.6-4 .3-6-.9-4-1.9-2.8-2.5-1.3-2-1.1-4 .4-4 1.6-4 2.9-4 13-12 4-6 2.2-8 .9-22 1.6-10 3.1-10 5.5-10.5 4-4.5 4-2.1 4-.3 10 2 6 .1 4-.9z"/>
<path fill="#6197c5" d="M1228.7 603.3l8.5 1 7.4 3 3 2 3.9 4 .8 2-.3 2-2.5 2-8.3 2.5-18 3.4-4 0-2-.9-2.5-3-1-4 .4-4 1.1-2.9 2.4-3.1 2.9-2 4.7-1.6zM1159.1 727.3l8.1-.9 8 1.3 4 1.6 4 2.5 6 6.3 3 5.2 1.6 4 1.7 10-.2 6-.9 4-3.2 6.8-2.5 3.2-4.8 4-12.7 6.6-18 6.3-26 5.7-4 2.4-8 7.9-6 3-4 .3-4-1.6-1.5-2.6 .1-2 1.4-2.8 4-3.5 10-5 3.7-2.7 2.3-3 2.1-5 .6-4-.3-4-4.3-16-.8-8 1.2-8 1.5-4 2-3.3 4-4.1 6-3.2 4-1 14-1z"/>
<path fill="#4168ae" d="M1167.2 741.3l6-1 4 .7 3.9 2.3 2.1 2.2 2.1 3.8 1.3 6-.6 6-1.5 4-2.5 4-2.8 2.9-15.6 11.1-4.4 2.2-6 2.1-6 .7-4-.8-1.9-2.2-.1-2 1.8-8-.3-4-3.3-4-8.2-5.4-2.5-2.6-1.5-2.8-.7-3.2 .7-4.4 2-2.8 4-1.6 4 .3 8 2 4 .1 6-1.2z"/>
<path fill="none" stroke="#000" stroke-width="3.2" stroke-linecap="round" stroke-dasharray="0 7.69" d="M1222.5 593.8h23.07M1126.4 597.6h23.07M1211.0 597.6h46.14M1122.6 601.5h30.76M1207.2 601.5h61.52M1118.7 605.3h38.45M1211.0 605.3h61.52M1114.9 609.2h46.14M1207.2 609.2h69.21M1118.7 613.0h46.14M1211.0 613.0h69.21M1114.9 616.9h46.14M1214.8 616.9h61.52M1118.7 620.7h46.14M1218.7 620.7h61.52M1122.6 624.5h38.45M1222.5 624.5h53.83M1118.7 628.4h38.45M1234.1 628.4h38.45M1122.6 632.2h30.76M1134.1 636.1h15.38M1253.3 678.4h23.07M1249.5 682.2h30.76M1245.6 686.1h38.45M1241.8 689.9h46.14M1245.6 693.8h46.14M1241.8 697.6h46.14M1237.9 701.4h53.83M1241.8 705.3h53.83M1237.9 709.1h53.83M1241.8 713.0h53.83M1237.9 716.8h53.83M1241.8 720.7h53.83M1053.4 724.5h7.69M1237.9 724.5h53.83M1041.8 728.4h30.76M1241.8 728.4h53.83M1038.0 732.2h38.45M1237.9 732.2h53.83M1034.1 736.1h46.14M1241.8 736.1h53.83M1030.3 739.9h53.83M1245.6 739.9h46.14M1034.1 743.7h46.14M1249.5 743.7h38.45M1030.3 747.6h53.83M1253.3 747.6h30.76M1034.1 751.4h46.14M1257.1 751.4h23.07M1030.3 755.3h53.83M1261.0 755.3h15.38M1034.1 759.1h46.14M1038.0 763.0h38.45M1041.8 766.8h30.76M1053.4 770.7h7.69M1180.2 820.6h7.69M1168.7 824.5h30.76M1157.2 828.3h46.14M1153.3 832.2h53.83M1157.2 836.0h46.14M1153.3 839.9h53.83M1157.2 843.7h53.83M1153.3 847.6h53.83M1157.2 851.4h46.14M1161.0 855.2h38.45M1164.9 859.1h30.76M1176.4 862.9h7.69"/>
<g fill="none" stroke="#000" stroke-width="1.35" stroke-dasharray="2.1 2.1"><circle cx="1167.3" cy="755.4" r="23.8"/><circle cx="1167.3" cy="755.4" r="47.9"/><circle cx="1167.3" cy="755.4" r="72.7"/><circle cx="1167.3" cy="755.4" r="98.8"/><circle cx="1167.3" cy="755.4" r="126.6"/><circle cx="1167.3" cy="755.4" r="156.7"/><path d="M977.2 755.4L1357.4 755.4"/><path d="M1002.7 660.4L1331.9 850.4"/><path d="M1072.2 590.8L1262.3 920.0"/><path d="M1167.3 565.3L1167.3 945.5"/><path d="M1262.3 590.8L1072.2 920.0"/><path d="M1331.9 660.4L1002.7 850.4"/></g>
<path fill="none" stroke="#000" stroke-width="1.4" stroke-linejoin="round" d="M1218.6 570.5 1217.3 577.4 1218.1 583.8 1220.7 590.9 1223.2 597.6 1224.7 602.0 1227.7 607.3 1227.3 614.0 1230.7 618.2 1232.1 614.4 1231.1 608.7 1230.3 603.2 1228.9 597.3 1228.1 591.0 1227.2 586.3 1229.1 588.5 1232.3 594.4 1231.4 598.3 1234.7 604.0 1236.5 607.0 1233.8 608.2 1235.3 614.2 1235.2 620.4 1235.1 623.5 1236.2 628.5 1240.0 632.5 1239.5 639.5 1238.8 643.2 1238.5 649.0 1238.0 651.8 1235.1 655.3 1234.2 658.1 1228.3 664.9 1226.0 670.6 1223.6 668.7 1224.3 665.9 1222.3 670.1 1223.3 674.0 1225.2 678.6 1224.0 682.8 1223.2 688.8 1223.2 692.3 1221.8 698.0 1222.4 702.2 1222.3 705.9 1223.4 708.3 1226.2 712.6 1225.9 715.9 1228.7 717.8 1231.8 718.1 1233.2 720.1 1229.2 721.1 1227.4 720.0 1230.4 721.8 1234.0 722.1 1237.1 722.1 1241.0 723.3 1244.5 725.0 1247.7 727.7 1249.9 730.9 1246.7 729.6 1244.1 727.5 1240.0 726.0 1237.3 726.4 1238.5 728.1 1239.6 731.6 1237.0 732.8 1236.2 736.3 1234.1 738.1 1232.5 739.1 1230.2 738.3 1227.9 735.1 1225.4 735.4 1226.0 737.4 1226.7 740.9 1224.7 743.2 1222.6 741.6 1222.5 739.3 1221.4 737.6 1220.3 739.7 1217.9 743.3 1216.4 743.2 1213.8 741.2 1210.9 739.5 1208.3 737.6 1207.8 733.8 1207.1 730.5 1205.3 726.7 1204.2 723.4 1203.5 720.4 1201.2 720.3 1197.9 718.9 1196.0 718.6 1195.5 715.2 1192.2 713.9 1190.1 710.6 1188.5 707.9 1189.8 707.1 1185.4 705.6 1184.1 703.6 1183.2 706.4 1180.6 705.6 1178.4 703.3 1175.2 702.7 1173.6 704.2 1173.0 701.2 1171.3 704.0 1172.4 706.6 1171.2 711.4 1169.6 711.2 1169.0 707.6 1168.2 705.6 1167.3 703.9 1165.5 703.4 1163.5 701.5 1163.4 705.2 1160.5 706.8 1159.7 704.4 1159.6 700.7 1162.3 698.7 1164.2 696.0 1165.7 692.7 1168.4 691.5 1170.8 687.8 1172.9 684.1 1173.5 679.9 1170.8 675.1 1167.3 675.0 1163.7 672.5 1159.9 670.9 1155.9 670.8 1154.7 665.4 1152.7 663.1 1150.0 662.2 1149.4 665.0 1151.2 668.7 1151.0 671.4 1148.6 674.5 1148.8 678.5 1152.2 681.1 1151.6 684.4 1153.4 689.9 1148.8 691.1 1146.0 689.8 1143.3 689.4 1140.9 684.9 1138.4 683.9 1136.7 686.6 1136.3 690.4 1132.5 687.2 1128.3 683.6 1125.1 682.4 1121.2 681.7 1118.5 680.3 1115.5 679.2 1115.0 676.3 1117.1 673.4 1118.3 670.5 1122.8 668.1 1128.1 665.3 1130.7 660.1 1132.5 654.3 1130.3 656.5 1127.6 662.0 1123.6 663.8 1122.4 661.3 1123.5 659.3 1121.2 657.4 1118.4 657.2 1114.6 658.3 1112.7 660.9 1113.2 657.8 1116.6 653.8 1119.0 649.5 1121.1 650.7 1119.5 655.1 1121.8 653.2 1123.4 651.0 1126.0 647.8 1127.9 645.9 1128.0 642.6 1125.8 641.3 1128.4 639.2 1132.6 636.0 1132.7 633.0 1133.6 629.8 1134.2 625.7 1134.4 623.5 1132.4 619.4 1134.6 617.0 1137.2 613.9 1139.9 610.6 1143.2 606.8 1144.1 602.0 1140.9 596.0 1138.3 590.9 1138.3 585.9 1140.9 585.1 1143.2 588.1 1146.4 592.6 1147.3 596.7 1150.9 599.5 1154.9 598.2 1159.2 600.1 1164.6 599.3 1165.9 596.1 1170.1 596.1 1176.9 598.0 1181.2 596.7 1187.3 592.8 1188.9 587.1 1190.9 580.7 1192.0 575.0 1191.1 569.6 1188.4 564.7M1169.6 563.5 1168.6 568.8 1162.5 570.6 1157.6 570.8 1156.8 567.4 1158.9 563.7M1151.0 572.7 1146.0 576.6 1139.2 578.3 1132.6 577.0 1126.4 575.5 1120.6 573.7 1115.7 573.2 1117.4 571.6 1126.7 569.0 1125.7 572.1 1130.4 574.3 1137.1 574.8 1142.0 575.4 1145.0 573.6 1148.1 572.6 1151.0 572.7M1113.5 664.9 1114.0 669.0 1114.6 673.4 1113.9 677.4 1112.5 674.8 1112.8 673.0 1110.6 672.9 1107.8 674.1 1105.1 672.8 1103.0 671.0 1102.9 669.0 1105.2 669.3 1106.3 667.3 1108.7 667.9 1113.5 664.9M1224.1 669.3 1226.4 672.5 1227.4 679.3 1225.3 678.4 1224.1 674.9 1224.1 669.3M1139.8 693.6 1143.5 693.4 1147.5 694.6 1152.3 695.3 1154.6 695.6 1154.4 697.4 1150.7 697.5 1150.8 701.4 1151.7 704.5 1155.1 706.6 1158.2 708.4 1160.6 708.0 1164.0 708.1 1166.9 710.0 1167.3 715.3 1164.6 716.9 1161.1 716.5 1158.1 715.4 1155.2 713.1 1151.8 711.7 1148.9 709.9 1146.5 707.5 1143.0 706.6 1140.4 705.8 1140.4 701.5 1139.8 697.7 1139.8 693.6M1161.6 723.3 1164.5 723.4 1166.8 724.5 1165.9 728.1 1168.1 732.9 1167.7 735.2 1165.7 737.7 1163.0 739.4 1160.1 739.9 1158.4 738.6 1158.3 736.0 1159.2 733.1 1159.7 730.4 1160.4 727.7 1160.9 725.1 1161.6 723.3M1161.3 721.4 1164.3 721.5 1167.9 719.7 1168.4 723.3 1166.7 722.8 1163.9 723.0 1161.3 721.4M1180.3 706.8 1184.8 707.4 1188.4 710.2 1189.0 712.7 1188.3 715.9 1186.3 718.2 1183.2 718.1 1179.8 716.8 1178.1 715.0 1177.5 711.1 1176.5 707.9 1180.3 706.8M1191.8 717.7 1192.3 720.4 1188.6 723.8 1185.9 723.2 1184.8 719.6 1187.1 718.1 1189.4 717.1 1191.8 717.7M1164.0 692.1 1160.5 691.1 1157.5 693.5 1160.1 696.9 1163.2 696.8 1164.0 692.1M1183.3 724.0 1179.7 721.4 1176.8 722.2 1177.2 724.8 1180.0 725.4 1183.3 724.0M1171.4 712.6 1167.7 713.6 1167.3 717.0 1170.6 717.4 1171.4 712.6M1176.5 712.2 1172.6 712.2 1172.1 716.3 1174.7 717.5 1176.5 712.2M1166.2 730.0 1168.6 730.0 1169.7 733.0 1168.0 734.5 1166.2 730.0M1114.6 704.5 1120.3 703.2 1126.6 706.1 1130.2 708.0 1134.4 711.0 1137.0 715.2 1136.4 717.2 1140.2 717.4 1143.3 721.2 1147.2 724.4 1149.9 726.4 1152.9 725.9 1154.8 724.5 1157.0 727.0 1158.6 728.7 1157.5 731.2 1157.5 734.3 1157.2 737.9 1155.6 741.4 1155.3 745.3 1153.9 747.7 1150.8 748.7 1148.3 748.5 1147.6 751.2 1144.6 748.5 1141.5 746.5 1136.9 744.9 1133.9 742.6 1130.3 741.9 1128.8 739.1 1124.0 737.9 1122.8 734.7 1121.4 732.0 1122.1 728.2 1120.5 723.8 1120.6 720.2 1121.2 716.7 1118.1 712.6 1116.5 708.8 1114.6 704.5M1108.9 731.2 1111.9 730.7 1112.0 733.0 1114.1 731.7 1114.9 733.7 1112.6 735.5 1112.9 737.7 1113.0 739.8 1110.2 740.6 1108.3 741.0 1107.2 739.3 1106.3 735.6 1107.4 733.0 1108.9 731.2M1141.1 760.3 1138.8 762.0 1137.0 764.4 1139.1 764.8 1141.2 765.7 1142.8 764.6 1144.9 766.3 1146.3 766.1 1146.4 763.9 1144.6 762.3 1143.3 760.1 1141.1 760.3M1139.8 790.0 1141.7 788.5 1143.9 787.0 1146.4 785.3 1148.5 784.4 1150.8 784.1 1153.2 784.3 1155.7 784.1 1155.9 785.2 1153.6 786.1 1150.6 786.7 1148.6 787.8 1146.2 789.2 1144.0 790.6 1142.9 793.7 1142.0 794.3 1140.2 792.7 1139.8 790.0M1170.0 781.4 1171.5 779.3 1173.5 780.1 1174.5 782.3 1172.3 783.5 1170.0 781.4M1192.6 779.0 1193.6 775.9 1197.0 774.0 1197.3 775.7 1195.0 778.7 1192.6 779.0M1212.7 756.4 1211.5 755.4 1212.0 753.5 1212.9 753.8 1212.7 756.4M1151.9 771.9 1153.0 773.7 1155.3 774.5 1157.3 774.3 1156.3 772.3 1153.6 771.8 1151.9 771.9M1029.6 741.9 1032.2 740.2 1033.7 738.0 1033.6 734.5 1037.9 735.4 1038.7 733.9 1042.8 735.9 1047.3 737.0 1050.8 736.3 1052.3 739.2 1051.5 744.2 1050.6 748.3 1050.4 751.7 1053.5 753.0 1057.1 753.3 1060.4 751.3 1062.8 747.5 1064.5 746.8 1065.4 750.1 1064.8 752.5 1067.7 752.1 1066.9 753.3 1067.1 755.7 1069.1 758.1 1070.9 758.1 1071.5 759.6 1072.4 761.4 1074.6 762.2 1076.8 763.0 1078.0 764.8 1078.2 766.3 1079.0 768.1 1080.1 768.9 1082.7 768.2 1084.1 767.2 1087.2 766.9 1088.5 768.6 1090.0 769.9 1086.9 770.2 1086.6 770.9 1084.3 770.0 1082.9 769.7 1081.7 770.5 1080.7 772.2 1082.2 774.3 1082.1 776.2 1081.6 777.3 1084.0 780.1 1085.5 782.4 1084.8 783.5 1085.3 784.9 1087.9 785.9 1091.8 784.5 1093.7 784.5 1094.7 785.6 1093.4 787.2 1094.5 788.3 1097.1 787.2 1097.6 785.7 1098.7 785.2 1100.2 786.7 1101.9 790.1 1104.2 792.1 1104.5 789.5 1102.8 786.8 1100.1 783.9 1100.8 781.6 1103.8 780.2 1106.6 779.1 1111.2 780.4 1113.1 781.0 1114.2 779.3 1112.9 777.4 1110.1 777.7 1107.2 777.3 1104.1 775.9 1101.5 775.9 1099.3 776.5 1098.3 778.5 1096.7 779.4 1094.8 778.3 1092.2 777.8 1089.2 778.4 1087.7 777.9 1087.2 776.3 1085.3 776.1 1084.9 774.4 1087.1 773.5 1090.1 771.5 1093.2 770.1 1095.3 768.9 1093.1 768.2 1090.8 766.4 1090.0 764.9 1091.9 762.8 1094.8 761.9 1098.6 761.4 1100.4 761.8 1102.4 763.4 1104.1 764.8 1105.6 766.3 1108.0 767.2 1111.0 767.9 1113.5 768.1 1115.8 769.0 1118.0 769.5 1120.0 770.3 1121.6 771.1 1122.8 772.5 1125.0 773.8 1126.6 775.0 1127.2 776.7 1127.1 778.6 1126.7 779.8 1125.2 779.7 1125.9 782.3 1127.0 784.7 1126.9 788.1 1126.5 790.8 1125.1 792.1 1122.6 791.6 1121.0 787.8 1120.4 785.9 1119.3 788.4 1116.9 790.5 1117.0 793.3 1118.9 793.2 1120.4 794.7 1122.1 794.0 1124.6 793.1 1125.8 794.8 1127.6 793.8 1129.9 791.5 1131.0 793.0 1129.3 795.5 1131.3 795.3 1133.5 795.6 1136.3 796.6 1136.6 797.7 1139.4 798.4 1141.3 799.6 1143.3 798.8 1143.6 797.3 1145.6 800.0 1147.4 802.2 1148.2 803.8 1149.3 802.4 1148.3 800.1 1149.5 797.2 1151.8 794.7 1153.5 793.3 1155.0 794.6 1154.2 797.6 1153.1 799.8 1152.1 803.9 1149.8 809.1 1151.5 808.8 1153.1 804.9 1154.7 800.8 1154.9 797.1 1156.5 795.8 1158.1 796.9 1157.9 799.8 1159.7 798.2 1161.1 794.3 1164.6 793.9 1165.4 791.1 1168.5 789.2 1171.9 787.9 1174.4 783.8 1176.5 785.4 1179.6 785.9 1181.3 787.5 1180.3 791.3 1182.5 791.2 1186.1 790.8 1189.1 789.0 1190.6 786.8 1193.1 787.3 1195.4 790.1 1196.7 788.1 1198.6 786.7 1200.7 784.4 1199.3 782.3 1202.1 778.9 1205.4 777.4 1208.0 776.1 1210.2 771.9 1213.3 771.7 1214.5 768.0 1214.1 765.4 1214.3 763.3 1216.9 763.7 1215.4 760.5 1216.6 757.1 1219.3 752.7 1222.1 748.7 1223.9 745.4 1228.4 746.8 1228.4 749.0 1226.4 751.3 1226.0 754.4 1228.2 756.5 1229.2 757.6 1233.7 758.3 1235.1 762.5 1239.0 767.4 1237.7 771.7 1237.6 774.9 1239.9 777.2 1242.0 779.0 1246.3 779.2 1248.6 782.1 1252.2 786.3 1252.3 788.9 1255.6 793.4 1250.3 792.3 1245.3 790.8 1241.1 788.7 1239.4 786.0 1237.6 782.4 1235.1 778.8 1233.4 775.0 1231.2 773.7 1231.6 778.8 1230.8 782.3 1234.4 786.7 1233.8 790.7 1230.5 793.4 1228.5 797.5 1226.6 800.9 1227.3 805.8 1228.5 811.5 1228.7 816.2 1232.9 814.4 1234.9 812.1 1237.6 811.7 1240.5 815.7 1243.3 818.5 1247.1 821.2 1248.4 827.2 1249.3 833.2 1250.0 838.1 1248.2 842.1 1245.4 842.8 1245.6 846.4 1245.8 849.9 1246.9 852.0 1245.1 856.0 1245.8 857.7 1249.2 858.3 1253.2 860.0 1255.9 863.2 1255.3 866.0 1252.4 870.5 1250.3 867.9 1248.5 864.4 1246.6 862.6 1243.3 863.9 1241.5 860.1 1238.8 860.2 1235.8 865.0 1234.7 866.7 1233.6 861.5 1231.2 861.7 1229.8 868.2 1227.5 870.1 1231.4 872.0 1233.0 873.0 1235.4 869.6 1239.7 869.1 1237.8 872.7 1236.4 877.6 1237.1 879.7 1240.1 880.0 1243.5 882.7 1247.3 884.0 1248.6 886.1 1246.4 889.6 1250.7 888.9 1251.9 893.0 1251.4 898.2 1251.4 903.5 1250.7 908.4 1248.8 913.3 1246.2 917.2 1242.0 920.7 1240.0 922.7 1235.7 926.4 1232.0 929.3 1233.5 932.5 1231.6 933.2 1229.7 929.8 1225.7 930.0 1223.0 932.0 1221.2 935.1 1221.1 937.0 1219.4 940.8M1178.4 947.3 1176.9 945.3 1173.8 941.2 1173.0 937.4 1168.9 937.5 1164.1 939.2 1159.2 940.1 1157.5 942.8 1155.7 945.9M1110.5 939.0 1112.0 932.9 1112.4 929.4 1110.3 933.1 1106.3 932.5 1103.5 930.7 1102.0 925.4 1106.3 924.8 1102.6 922.3 1101.0 919.5 1100.0 916.2 1099.2 913.6 1093.3 910.6 1085.4 907.0 1078.9 902.5 1075.3 898.7 1076.2 894.6 1070.6 892.4 1067.2 888.3 1065.5 883.3 1066.2 878.1 1065.9 874.1 1063.4 872.8 1061.4 873.1 1059.8 876.9 1059.9 881.2 1059.8 884.5 1058.0 889.4 1061.0 887.6 1059.9 890.9 1058.7 893.4 1064.1 897.5 1069.4 896.8 1073.3 895.8 1071.6 899.5 1071.3 902.1 1074.5 906.9 1076.0 912.2 1072.7 914.6 1068.7 916.3 1064.3 917.7M1022.0 881.3 1024.1 872.2 1027.5 866.6 1028.4 861.2 1030.9 856.3 1034.0 849.4 1037.3 845.8 1032.7 847.6 1031.8 847.5 1033.1 843.6 1035.0 840.0 1032.7 841.8 1030.7 845.8 1028.0 849.3 1024.8 855.2 1022.2 859.7 1020.9 865.4 1018.7 868.2 1014.4 871.9M1038.3 837.0 1037.0 833.7 1032.7 830.0 1030.0 820.0 1030.5 813.5 1029.9 809.5 1025.9 806.9 1022.4 808.1 1019.6 804.8 1020.6 796.6 1023.1 794.0 1023.1 787.4 1024.1 783.2 1025.2 781.0 1030.0 782.1 1033.6 780.2 1034.4 781.2 1034.8 778.3 1033.1 773.1 1031.9 767.2 1031.5 762.5 1028.4 755.4 1026.4 750.5 1027.0 744.4 1029.3 742.4 1028.8 740.8 1024.0 738.3 1022.4 733.7 1017.4 729.8 1012.8 728.7 1009.2 723.8 1007.4 718.5 1004.0 713.2 997.8 706.8 990.5 701.4 988.2 700.5 982.9 701.1M1029.6 741.9 1031.5 744.9 1031.4 750.2 1033.7 753.8 1037.2 755.9 1039.3 754.7 1043.0 757.1 1044.8 760.1 1047.2 762.1 1050.0 761.5 1050.9 763.5 1050.6 766.2 1050.6 769.1 1052.5 770.5 1054.5 772.9 1053.6 775.9 1051.0 777.0 1049.3 780.1 1047.7 782.1 1046.7 785.5 1045.4 789.4 1042.4 790.5 1040.0 791.9 1039.5 791.3 1041.5 792.9 1043.6 793.7 1045.1 791.8 1047.6 792.0 1047.2 795.4 1048.1 795.3 1049.0 791.6 1049.7 789.1 1050.8 788.8 1050.5 786.7 1052.2 784.1 1054.2 782.8 1055.3 780.0 1058.2 779.2 1059.9 781.6 1058.0 781.8 1059.1 783.0 1057.3 784.9 1055.2 787.6 1054.4 791.0 1053.7 793.4 1052.8 795.7 1048.8 797.4 1045.9 801.3 1042.6 804.3 1040.8 807.5 1041.8 809.2 1044.3 807.6 1045.8 809.5 1047.6 807.0 1049.2 804.8 1051.6 803.8 1051.4 806.3 1052.7 807.1 1054.4 806.6 1055.6 809.9 1054.5 810.9 1052.4 813.2 1049.7 813.8 1047.5 817.2 1047.2 819.8 1047.4 822.7 1050.3 824.6 1050.5 828.4 1053.4 832.3 1056.3 834.9 1055.5 836.9 1053.3 837.9 1051.2 839.1 1046.9 840.0 1043.3 841.2 1041.0 841.2 1039.6 840.2 1038.3 837.0M1059.6 815.1 1060.6 812.1 1062.0 810.7 1065.4 811.0 1068.2 809.7 1070.3 810.7 1074.3 810.9 1075.7 812.7 1075.8 815.9 1073.5 815.4 1072.6 818.1 1075.5 820.4 1077.6 821.8 1077.4 818.3 1081.2 819.8 1083.8 821.8 1084.8 822.6 1081.3 822.6 1078.6 823.2 1078.0 826.4 1077.6 829.9 1077.8 834.6 1076.1 836.4 1072.5 834.9 1069.8 831.6 1068.4 827.3 1068.3 824.7 1066.5 822.1 1062.5 819.6 1059.6 815.1M1096.2 837.1 1100.0 838.5 1102.6 841.2 1100.1 844.5 1097.0 843.2 1094.9 843.2 1093.9 846.0 1095.1 849.5 1093.4 852.8 1094.6 855.5 1091.1 856.5 1090.5 860.4 1088.4 864.0 1083.6 862.5 1081.6 858.6 1079.7 856.2 1082.0 853.2 1086.0 850.6 1087.0 851.8 1087.4 848.0 1087.4 844.2 1088.5 841.4 1089.8 838.5 1092.4 837.1 1096.2 837.1M1107.1 853.7 1109.9 856.9 1113.6 854.2 1114.8 850.1 1112.0 849.2 1108.8 850.8 1107.1 853.7M1190.1 846.9 1192.7 844.0 1195.5 839.6 1195.7 834.2 1195.2 836.3 1193.6 841.5 1190.1 846.9M1135.4 863.2 1139.4 859.5 1145.7 861.5 1140.9 861.3 1137.6 862.4 1135.4 863.2M1069.2 745.6 1069.5 749.4 1070.4 752.9 1071.7 757.6 1075.7 758.1 1076.5 755.9 1078.0 755.4 1081.2 753.4 1083.8 752.5 1084.4 751.1 1088.2 752.6 1088.8 750.6 1091.1 751.1 1091.3 748.7 1088.6 747.4 1086.0 746.9 1083.4 747.3 1081.5 748.2 1081.6 750.5 1078.7 750.8 1077.4 750.4 1077.3 748.3 1075.4 748.5 1073.7 746.9 1072.4 750.1 1071.5 747.9 1069.2 745.6M1074.9 745.7 1078.3 745.7 1081.1 746.9 1082.8 745.8 1083.1 743.3 1080.9 740.2 1078.3 740.0 1075.3 738.7 1073.8 739.8 1074.6 743.2 1074.9 745.7M1045.8 775.3 1050.3 775.2 1048.6 773.3 1046.4 774.1 1045.8 775.3M1039.1 773.9 1040.2 776.9 1044.8 776.3 1045.7 775.1 1044.3 773.3 1039.1 773.9M1038.0 784.1 1040.3 790.6 1036.1 791.0 1036.9 784.3 1038.0 784.1M1038.9 811.5 1041.0 817.5 1038.7 814.0 1038.9 811.5M1048.0 831.1 1052.3 834.4 1049.1 834.5 1048.0 831.1M1256.4 903.7 1258.7 902.2 1259.4 905.7 1261.3 912.5 1257.4 910.9 1256.3 906.4 1256.4 903.7M1253.7 822.9 1253.7 819.3 1250.2 818.6 1249.9 814.3 1244.3 813.0 1240.1 809.7 1236.8 808.4 1237.8 810.5 1240.8 813.2 1245.2 816.2 1249.4 819.6 1252.3 822.1 1253.7 822.9M1265.8 872.0 1267.5 870.2 1266.0 865.7 1262.2 864.6 1264.2 861.2 1268.1 856.2 1271.7 857.3 1271.8 853.2 1274.3 849.1 1275.3 846.1 1275.3 843.2 1271.3 839.7 1268.9 835.7 1265.3 833.3 1263.0 832.0 1262.1 834.1 1264.1 836.9 1267.2 840.1 1267.2 845.4 1265.2 846.7 1266.5 848.8 1267.5 852.1 1262.7 857.7 1261.2 863.4 1261.1 867.1 1261.9 869.3 1265.8 872.0M1261.3 833.7 1261.9 831.5 1264.1 827.8 1263.9 821.8 1261.2 821.2 1258.7 824.2 1254.8 824.3 1259.2 828.2 1257.7 830.4 1259.5 832.7 1261.3 833.7M1230.8 745.9 1230.8 743.1 1229.9 744.9 1230.8 745.9M1239.4 721.0 1237.4 718.6 1235.7 719.8 1237.7 721.0 1239.4 721.0M1228.6 684.8 1227.5 690.9 1226.0 689.5 1228.6 684.8M1171.1 647.7 1165.5 651.2 1161.1 653.3 1157.0 648.9 1157.9 647.5 1161.6 647.2 1167.3 647.4 1171.1 647.7M1162.6 633.8 1159.5 634.8 1159.9 640.4 1157.7 645.6 1160.6 645.1 1162.9 641.6 1162.6 633.8M1156.8 646.2 1151.1 646.9 1147.7 644.1 1150.3 639.1 1151.9 638.4 1154.3 640.9 1154.6 644.2 1156.8 646.2M1153.1 634.5 1144.7 639.0 1144.9 638.1 1150.3 634.3 1153.1 634.5M1146.3 640.1 1140.0 643.4 1139.7 642.1 1144.9 640.1 1146.3 640.1M1199.8 705.3 1195.9 703.8 1193.8 705.5 1195.7 708.1 1198.7 707.0 1199.8 705.3M1199.2 692.8 1195.7 691.7 1190.9 693.8 1193.5 693.8 1197.2 694.1 1199.2 692.8M1181.7 659.0 1179.2 658.7 1179.0 666.6 1181.5 665.7 1181.7 659.0M1252.5 732.6 1254.1 734.6M1255.4 736.7 1257.0 738.0M1259.7 745.7 1261.1 749.7M1257.7 766.5 1257.3 767.6M1338.7 692.0 1338.9 690.5M1338.9 686.8 1339.0 685.0M1338.9 681.2 1338.7 679.1"/>
</g>
<circle cx="1167.3" cy="755.4" r="190.1" fill="none" stroke="#000" stroke-width="1.5"/>
<text x="1167.3" y="563.4" text-anchor="middle">90W</text><text x="1167.1" y="958.7" text-anchor="middle">90E</text><text x="1051.5" y="590.3" text-anchor="middle">60W</text><text x="1286.5" y="590.3" text-anchor="middle">120W</text><text x="979.0" y="662.3" text-anchor="middle">30W</text><text x="1359.3" y="662.3" text-anchor="middle">150W</text><text x="966.0" y="761.4" text-anchor="middle">0</text><text x="1378.0" y="761.4" text-anchor="middle">180</text><text x="981.8" y="859.9" text-anchor="middle">30E</text><text x="1356.6" y="859.9" text-anchor="middle">150E</text><text x="1054.0" y="932.4" text-anchor="middle">60E</text><text x="1284.5" y="932.4" text-anchor="middle">120E</text>
<text transform="translate(975.3 536.4) scale(.935 1)" font-size="35.5">(f)</text>
<g stroke="#000" stroke-width="1.1"><rect x="1395.3" y="881.63" width="11.4" height="25.27" fill="#313695"/><rect x="1395.3" y="856.37" width="11.4" height="25.27" fill="#4168ae"/><rect x="1395.3" y="831.10" width="11.4" height="25.27" fill="#6197c5"/><rect x="1395.3" y="805.83" width="11.4" height="25.27" fill="#8abfdb"/><rect x="1395.3" y="780.57" width="11.4" height="25.27" fill="#b6deec"/><rect x="1395.3" y="755.30" width="11.4" height="25.27" fill="#e0f3f8"/><rect x="1395.3" y="730.03" width="11.4" height="25.27" fill="#f0eac4"/><rect x="1395.3" y="704.77" width="11.4" height="25.27" fill="#fedd8c"/><rect x="1395.3" y="679.50" width="11.4" height="25.27" fill="#fdb466"/><rect x="1395.3" y="654.23" width="11.4" height="25.27" fill="#f67d4a"/><rect x="1395.3" y="628.97" width="11.4" height="25.27" fill="#e24732"/><rect x="1395.3" y="603.70" width="11.4" height="25.27" fill="#be1826"/></g><g font-size="12.3"><text x="1420.3" y="885.6" text-anchor="middle">-10</text><text x="1420.3" y="860.4" text-anchor="middle">-8</text><text x="1420.3" y="835.1" text-anchor="middle">-6</text><text x="1420.3" y="809.8" text-anchor="middle">-4</text><text x="1420.3" y="784.6" text-anchor="middle">-2</text><text x="1420.3" y="759.3" text-anchor="middle">0</text><text x="1420.3" y="734.0" text-anchor="middle">2</text><text x="1420.3" y="708.8" text-anchor="middle">4</text><text x="1420.3" y="683.5" text-anchor="middle">6</text><text x="1420.3" y="658.2" text-anchor="middle">8</text><text x="1420.3" y="633.0" text-anchor="middle">10</text></g>
</svg></body></html>
